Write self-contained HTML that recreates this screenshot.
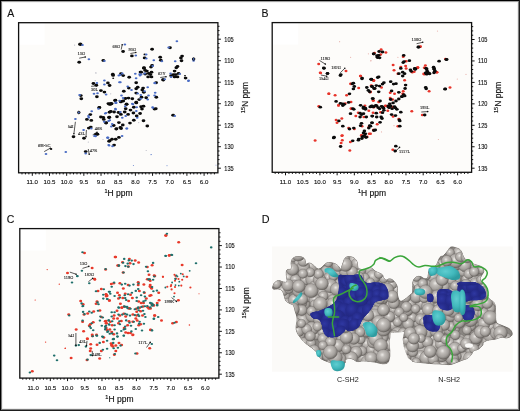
<!DOCTYPE html>
<html><head><meta charset="utf-8"><style>
html,body{margin:0;padding:0;background:#fff;}
body{width:520px;height:411px;overflow:hidden;position:relative;}
svg{position:absolute;left:0;top:0;font-family:"Liberation Sans", sans-serif;will-change:transform;}
</style></head><body>
<svg width="520" height="411" viewBox="0 0 520 411">
<rect x="0" y="0" width="520" height="411" fill="#fff"/>
<rect x="18.6" y="22.7" width="199.30" height="150.10" fill="#fdfcfa" stroke="none"/>
<rect x="18.6" y="22.7" width="26" height="22" fill="#ffffff" stroke="none"/>
<line x1="217.90" y1="26.30" x2="219.50" y2="26.30" stroke="#111" stroke-width="1.0"/>
<line x1="217.90" y1="30.60" x2="219.50" y2="30.60" stroke="#111" stroke-width="1.0"/>
<line x1="217.90" y1="34.90" x2="219.50" y2="34.90" stroke="#111" stroke-width="1.0"/>
<line x1="217.90" y1="39.20" x2="220.90" y2="39.20" stroke="#111" stroke-width="1.0"/>
<text x="224.30" y="41.50" font-size="6.3" fill="#111" stroke="#111" stroke-width="0.12" textLength="9.4" lengthAdjust="spacingAndGlyphs">105</text>
<line x1="217.90" y1="43.50" x2="219.50" y2="43.50" stroke="#111" stroke-width="1.0"/>
<line x1="217.90" y1="47.80" x2="219.50" y2="47.80" stroke="#111" stroke-width="1.0"/>
<line x1="217.90" y1="52.10" x2="219.50" y2="52.10" stroke="#111" stroke-width="1.0"/>
<line x1="217.90" y1="56.40" x2="219.50" y2="56.40" stroke="#111" stroke-width="1.0"/>
<line x1="217.90" y1="60.70" x2="220.90" y2="60.70" stroke="#111" stroke-width="1.0"/>
<text x="224.30" y="63.00" font-size="6.3" fill="#111" stroke="#111" stroke-width="0.12" textLength="9.4" lengthAdjust="spacingAndGlyphs">110</text>
<line x1="217.90" y1="65.00" x2="219.50" y2="65.00" stroke="#111" stroke-width="1.0"/>
<line x1="217.90" y1="69.30" x2="219.50" y2="69.30" stroke="#111" stroke-width="1.0"/>
<line x1="217.90" y1="73.60" x2="219.50" y2="73.60" stroke="#111" stroke-width="1.0"/>
<line x1="217.90" y1="77.90" x2="219.50" y2="77.90" stroke="#111" stroke-width="1.0"/>
<line x1="217.90" y1="82.20" x2="220.90" y2="82.20" stroke="#111" stroke-width="1.0"/>
<text x="224.30" y="84.50" font-size="6.3" fill="#111" stroke="#111" stroke-width="0.12" textLength="9.4" lengthAdjust="spacingAndGlyphs">115</text>
<line x1="217.90" y1="86.50" x2="219.50" y2="86.50" stroke="#111" stroke-width="1.0"/>
<line x1="217.90" y1="90.80" x2="219.50" y2="90.80" stroke="#111" stroke-width="1.0"/>
<line x1="217.90" y1="95.10" x2="219.50" y2="95.10" stroke="#111" stroke-width="1.0"/>
<line x1="217.90" y1="99.40" x2="219.50" y2="99.40" stroke="#111" stroke-width="1.0"/>
<line x1="217.90" y1="103.70" x2="220.90" y2="103.70" stroke="#111" stroke-width="1.0"/>
<text x="224.30" y="106.00" font-size="6.3" fill="#111" stroke="#111" stroke-width="0.12" textLength="9.4" lengthAdjust="spacingAndGlyphs">120</text>
<line x1="217.90" y1="108.00" x2="219.50" y2="108.00" stroke="#111" stroke-width="1.0"/>
<line x1="217.90" y1="112.30" x2="219.50" y2="112.30" stroke="#111" stroke-width="1.0"/>
<line x1="217.90" y1="116.60" x2="219.50" y2="116.60" stroke="#111" stroke-width="1.0"/>
<line x1="217.90" y1="120.90" x2="219.50" y2="120.90" stroke="#111" stroke-width="1.0"/>
<line x1="217.90" y1="125.20" x2="220.90" y2="125.20" stroke="#111" stroke-width="1.0"/>
<text x="224.30" y="127.50" font-size="6.3" fill="#111" stroke="#111" stroke-width="0.12" textLength="9.4" lengthAdjust="spacingAndGlyphs">125</text>
<line x1="217.90" y1="129.50" x2="219.50" y2="129.50" stroke="#111" stroke-width="1.0"/>
<line x1="217.90" y1="133.80" x2="219.50" y2="133.80" stroke="#111" stroke-width="1.0"/>
<line x1="217.90" y1="138.10" x2="219.50" y2="138.10" stroke="#111" stroke-width="1.0"/>
<line x1="217.90" y1="142.40" x2="219.50" y2="142.40" stroke="#111" stroke-width="1.0"/>
<line x1="217.90" y1="146.70" x2="220.90" y2="146.70" stroke="#111" stroke-width="1.0"/>
<text x="224.30" y="149.00" font-size="6.3" fill="#111" stroke="#111" stroke-width="0.12" textLength="9.4" lengthAdjust="spacingAndGlyphs">130</text>
<line x1="217.90" y1="151.00" x2="219.50" y2="151.00" stroke="#111" stroke-width="1.0"/>
<line x1="217.90" y1="155.30" x2="219.50" y2="155.30" stroke="#111" stroke-width="1.0"/>
<line x1="217.90" y1="159.60" x2="219.50" y2="159.60" stroke="#111" stroke-width="1.0"/>
<line x1="217.90" y1="163.90" x2="219.50" y2="163.90" stroke="#111" stroke-width="1.0"/>
<line x1="217.90" y1="168.20" x2="220.90" y2="168.20" stroke="#111" stroke-width="1.0"/>
<text x="224.30" y="170.50" font-size="6.3" fill="#111" stroke="#111" stroke-width="0.12" textLength="9.4" lengthAdjust="spacingAndGlyphs">135</text>
<line x1="21.99" y1="172.80" x2="21.99" y2="174.40" stroke="#111" stroke-width="1"/>
<line x1="25.43" y1="172.80" x2="25.43" y2="174.40" stroke="#111" stroke-width="1"/>
<line x1="28.86" y1="172.80" x2="28.86" y2="174.40" stroke="#111" stroke-width="1"/>
<line x1="32.30" y1="172.80" x2="32.30" y2="175.80" stroke="#111" stroke-width="1"/>
<text x="32.30" y="184.40" font-size="6.1" fill="#111" stroke="#111" stroke-width="0.12" text-anchor="middle">11.0</text>
<line x1="35.74" y1="172.80" x2="35.74" y2="174.40" stroke="#111" stroke-width="1"/>
<line x1="39.17" y1="172.80" x2="39.17" y2="174.40" stroke="#111" stroke-width="1"/>
<line x1="42.61" y1="172.80" x2="42.61" y2="174.40" stroke="#111" stroke-width="1"/>
<line x1="46.04" y1="172.80" x2="46.04" y2="174.40" stroke="#111" stroke-width="1"/>
<line x1="49.48" y1="172.80" x2="49.48" y2="175.80" stroke="#111" stroke-width="1"/>
<text x="49.48" y="184.40" font-size="6.1" fill="#111" stroke="#111" stroke-width="0.12" text-anchor="middle">10.5</text>
<line x1="52.92" y1="172.80" x2="52.92" y2="174.40" stroke="#111" stroke-width="1"/>
<line x1="56.35" y1="172.80" x2="56.35" y2="174.40" stroke="#111" stroke-width="1"/>
<line x1="59.79" y1="172.80" x2="59.79" y2="174.40" stroke="#111" stroke-width="1"/>
<line x1="63.22" y1="172.80" x2="63.22" y2="174.40" stroke="#111" stroke-width="1"/>
<line x1="66.66" y1="172.80" x2="66.66" y2="175.80" stroke="#111" stroke-width="1"/>
<text x="66.66" y="184.40" font-size="6.1" fill="#111" stroke="#111" stroke-width="0.12" text-anchor="middle">10.0</text>
<line x1="70.10" y1="172.80" x2="70.10" y2="174.40" stroke="#111" stroke-width="1"/>
<line x1="73.53" y1="172.80" x2="73.53" y2="174.40" stroke="#111" stroke-width="1"/>
<line x1="76.97" y1="172.80" x2="76.97" y2="174.40" stroke="#111" stroke-width="1"/>
<line x1="80.40" y1="172.80" x2="80.40" y2="174.40" stroke="#111" stroke-width="1"/>
<line x1="83.84" y1="172.80" x2="83.84" y2="175.80" stroke="#111" stroke-width="1"/>
<text x="83.84" y="184.40" font-size="6.1" fill="#111" stroke="#111" stroke-width="0.12" text-anchor="middle">9.5</text>
<line x1="87.28" y1="172.80" x2="87.28" y2="174.40" stroke="#111" stroke-width="1"/>
<line x1="90.71" y1="172.80" x2="90.71" y2="174.40" stroke="#111" stroke-width="1"/>
<line x1="94.15" y1="172.80" x2="94.15" y2="174.40" stroke="#111" stroke-width="1"/>
<line x1="97.58" y1="172.80" x2="97.58" y2="174.40" stroke="#111" stroke-width="1"/>
<line x1="101.02" y1="172.80" x2="101.02" y2="175.80" stroke="#111" stroke-width="1"/>
<text x="101.02" y="184.40" font-size="6.1" fill="#111" stroke="#111" stroke-width="0.12" text-anchor="middle">9.0</text>
<line x1="104.46" y1="172.80" x2="104.46" y2="174.40" stroke="#111" stroke-width="1"/>
<line x1="107.89" y1="172.80" x2="107.89" y2="174.40" stroke="#111" stroke-width="1"/>
<line x1="111.33" y1="172.80" x2="111.33" y2="174.40" stroke="#111" stroke-width="1"/>
<line x1="114.76" y1="172.80" x2="114.76" y2="174.40" stroke="#111" stroke-width="1"/>
<line x1="118.20" y1="172.80" x2="118.20" y2="175.80" stroke="#111" stroke-width="1"/>
<text x="118.20" y="184.40" font-size="6.1" fill="#111" stroke="#111" stroke-width="0.12" text-anchor="middle">8.5</text>
<line x1="121.64" y1="172.80" x2="121.64" y2="174.40" stroke="#111" stroke-width="1"/>
<line x1="125.07" y1="172.80" x2="125.07" y2="174.40" stroke="#111" stroke-width="1"/>
<line x1="128.51" y1="172.80" x2="128.51" y2="174.40" stroke="#111" stroke-width="1"/>
<line x1="131.94" y1="172.80" x2="131.94" y2="174.40" stroke="#111" stroke-width="1"/>
<line x1="135.38" y1="172.80" x2="135.38" y2="175.80" stroke="#111" stroke-width="1"/>
<text x="135.38" y="184.40" font-size="6.1" fill="#111" stroke="#111" stroke-width="0.12" text-anchor="middle">8.0</text>
<line x1="138.82" y1="172.80" x2="138.82" y2="174.40" stroke="#111" stroke-width="1"/>
<line x1="142.25" y1="172.80" x2="142.25" y2="174.40" stroke="#111" stroke-width="1"/>
<line x1="145.69" y1="172.80" x2="145.69" y2="174.40" stroke="#111" stroke-width="1"/>
<line x1="149.12" y1="172.80" x2="149.12" y2="174.40" stroke="#111" stroke-width="1"/>
<line x1="152.56" y1="172.80" x2="152.56" y2="175.80" stroke="#111" stroke-width="1"/>
<text x="152.56" y="184.40" font-size="6.1" fill="#111" stroke="#111" stroke-width="0.12" text-anchor="middle">7.5</text>
<line x1="156.00" y1="172.80" x2="156.00" y2="174.40" stroke="#111" stroke-width="1"/>
<line x1="159.43" y1="172.80" x2="159.43" y2="174.40" stroke="#111" stroke-width="1"/>
<line x1="162.87" y1="172.80" x2="162.87" y2="174.40" stroke="#111" stroke-width="1"/>
<line x1="166.30" y1="172.80" x2="166.30" y2="174.40" stroke="#111" stroke-width="1"/>
<line x1="169.74" y1="172.80" x2="169.74" y2="175.80" stroke="#111" stroke-width="1"/>
<text x="169.74" y="184.40" font-size="6.1" fill="#111" stroke="#111" stroke-width="0.12" text-anchor="middle">7.0</text>
<line x1="173.18" y1="172.80" x2="173.18" y2="174.40" stroke="#111" stroke-width="1"/>
<line x1="176.61" y1="172.80" x2="176.61" y2="174.40" stroke="#111" stroke-width="1"/>
<line x1="180.05" y1="172.80" x2="180.05" y2="174.40" stroke="#111" stroke-width="1"/>
<line x1="183.48" y1="172.80" x2="183.48" y2="174.40" stroke="#111" stroke-width="1"/>
<line x1="186.92" y1="172.80" x2="186.92" y2="175.80" stroke="#111" stroke-width="1"/>
<text x="186.92" y="184.40" font-size="6.1" fill="#111" stroke="#111" stroke-width="0.12" text-anchor="middle">6.5</text>
<line x1="190.36" y1="172.80" x2="190.36" y2="174.40" stroke="#111" stroke-width="1"/>
<line x1="193.79" y1="172.80" x2="193.79" y2="174.40" stroke="#111" stroke-width="1"/>
<line x1="197.23" y1="172.80" x2="197.23" y2="174.40" stroke="#111" stroke-width="1"/>
<line x1="200.66" y1="172.80" x2="200.66" y2="174.40" stroke="#111" stroke-width="1"/>
<line x1="204.10" y1="172.80" x2="204.10" y2="175.80" stroke="#111" stroke-width="1"/>
<text x="204.10" y="184.40" font-size="6.1" fill="#111" stroke="#111" stroke-width="0.12" text-anchor="middle">6.0</text>
<line x1="207.54" y1="172.80" x2="207.54" y2="174.40" stroke="#111" stroke-width="1"/>
<line x1="210.97" y1="172.80" x2="210.97" y2="174.40" stroke="#111" stroke-width="1"/>
<line x1="214.41" y1="172.80" x2="214.41" y2="174.40" stroke="#111" stroke-width="1"/>
<rect x="18.6" y="22.7" width="199.30" height="150.10" fill="none" stroke="#111" stroke-width="1.3"/>
<text x="118.50" y="195.80" font-size="8.5" fill="#111" stroke="#111" stroke-width="0.15" text-anchor="middle"><tspan font-size="5.6" dy="-3.1">1</tspan><tspan dy="3.1">H ppm</tspan></text>
<text transform="translate(245.00,97.50) rotate(-90)" x="0" y="2.7" font-size="8.5" fill="#111" stroke="#111" stroke-width="0.15" text-anchor="middle"><tspan font-size="5.6" dy="-3.1">15</tspan><tspan dy="3.1">N ppm</tspan></text>
<text x="7.2" y="16.5" font-size="10.5" fill="#111" stroke="#111" stroke-width="0.12">A</text>
<ellipse cx="74.6" cy="45.1" rx="0.60" ry="0.60" fill="#b9b9c4"/>
<ellipse cx="96.0" cy="73.0" rx="0.60" ry="0.60" fill="#b9b9c4"/>
<ellipse cx="95.8" cy="72.8" rx="0.60" ry="0.60" fill="#b9b9c4"/>
<ellipse cx="110.7" cy="93.8" rx="0.60" ry="0.60" fill="#b9b9c4"/>
<ellipse cx="95.2" cy="80.6" rx="0.60" ry="0.60" fill="#b9b9c4"/>
<ellipse cx="138.7" cy="122.6" rx="0.60" ry="0.60" fill="#b9b9c4"/>
<ellipse cx="146.2" cy="150.5" rx="0.60" ry="0.60" fill="#b9b9c4"/>
<ellipse cx="88.3" cy="142.1" rx="0.60" ry="0.60" fill="#b9b9c4"/>
<ellipse cx="103.0" cy="139.5" rx="0.60" ry="0.60" fill="#b9b9c4"/>
<ellipse cx="80.3" cy="44.3" rx="2.20" ry="1.72" fill="#0b0b0b"/>
<ellipse cx="79.2" cy="62.2" rx="1.85" ry="1.45" fill="#0b0b0b"/>
<ellipse cx="103.3" cy="60.5" rx="1.85" ry="1.45" fill="#0b0b0b"/>
<ellipse cx="123.1" cy="51.5" rx="1.85" ry="1.45" fill="#0b0b0b"/>
<ellipse cx="131.9" cy="55.9" rx="1.85" ry="1.45" fill="#0b0b0b"/>
<ellipse cx="152.1" cy="49.2" rx="1.85" ry="1.45" fill="#0b0b0b"/>
<ellipse cx="144.6" cy="54.4" rx="1.10" ry="0.86" fill="#0b0b0b"/>
<ellipse cx="144.6" cy="57.9" rx="1.85" ry="1.45" fill="#0b0b0b"/>
<ellipse cx="160.2" cy="57.3" rx="1.85" ry="1.45" fill="#0b0b0b"/>
<ellipse cx="160.8" cy="60.2" rx="1.85" ry="1.45" fill="#0b0b0b"/>
<ellipse cx="170.0" cy="47.8" rx="1.85" ry="1.45" fill="#0b0b0b"/>
<ellipse cx="180.9" cy="57.9" rx="1.85" ry="1.45" fill="#0b0b0b"/>
<ellipse cx="181.5" cy="60.8" rx="1.85" ry="1.45" fill="#0b0b0b"/>
<ellipse cx="182.1" cy="56.1" rx="1.85" ry="1.45" fill="#0b0b0b"/>
<ellipse cx="144.0" cy="67.7" rx="1.85" ry="1.45" fill="#0b0b0b"/>
<ellipse cx="146.9" cy="71.1" rx="1.85" ry="1.45" fill="#0b0b0b"/>
<ellipse cx="148.7" cy="73.4" rx="1.85" ry="1.45" fill="#0b0b0b"/>
<ellipse cx="150.4" cy="74.6" rx="1.85" ry="1.45" fill="#0b0b0b"/>
<ellipse cx="151.5" cy="72.3" rx="1.85" ry="1.45" fill="#0b0b0b"/>
<ellipse cx="148.1" cy="76.9" rx="1.85" ry="1.45" fill="#0b0b0b"/>
<ellipse cx="145.2" cy="74.0" rx="1.85" ry="1.45" fill="#0b0b0b"/>
<ellipse cx="141.2" cy="72.3" rx="1.85" ry="1.45" fill="#0b0b0b"/>
<ellipse cx="151.5" cy="76.9" rx="1.85" ry="1.45" fill="#0b0b0b"/>
<ellipse cx="151.0" cy="67.1" rx="1.85" ry="1.45" fill="#0b0b0b"/>
<ellipse cx="152.1" cy="65.4" rx="1.85" ry="1.45" fill="#0b0b0b"/>
<ellipse cx="143.9" cy="68.2" rx="1.85" ry="1.45" fill="#0b0b0b"/>
<ellipse cx="145.2" cy="70.4" rx="1.85" ry="1.45" fill="#0b0b0b"/>
<ellipse cx="140.5" cy="72.1" rx="1.85" ry="1.45" fill="#0b0b0b"/>
<ellipse cx="174.6" cy="71.1" rx="1.85" ry="1.45" fill="#0b0b0b"/>
<ellipse cx="176.3" cy="67.7" rx="1.85" ry="1.45" fill="#0b0b0b"/>
<ellipse cx="177.5" cy="66.5" rx="1.85" ry="1.45" fill="#0b0b0b"/>
<ellipse cx="173.4" cy="74.6" rx="1.85" ry="1.45" fill="#0b0b0b"/>
<ellipse cx="175.8" cy="74.6" rx="1.85" ry="1.45" fill="#0b0b0b"/>
<ellipse cx="177.5" cy="76.9" rx="1.85" ry="1.45" fill="#0b0b0b"/>
<ellipse cx="171.1" cy="75.8" rx="1.85" ry="1.45" fill="#0b0b0b"/>
<ellipse cx="178.6" cy="73.4" rx="1.85" ry="1.45" fill="#0b0b0b"/>
<ellipse cx="174.6" cy="76.9" rx="1.85" ry="1.45" fill="#0b0b0b"/>
<ellipse cx="185.6" cy="78.1" rx="1.85" ry="1.45" fill="#0b0b0b"/>
<ellipse cx="185.0" cy="75.8" rx="1.00" ry="0.78" fill="#0b0b0b"/>
<ellipse cx="163.1" cy="79.8" rx="1.85" ry="1.45" fill="#0b0b0b"/>
<ellipse cx="156.1" cy="82.7" rx="1.85" ry="1.45" fill="#0b0b0b"/>
<ellipse cx="163.3" cy="80.0" rx="1.85" ry="1.45" fill="#0b0b0b"/>
<ellipse cx="156.3" cy="97.3" rx="1.85" ry="1.45" fill="#0b0b0b"/>
<ellipse cx="155.8" cy="108.8" rx="1.85" ry="1.45" fill="#0b0b0b"/>
<ellipse cx="173.1" cy="115.2" rx="1.85" ry="1.45" fill="#0b0b0b"/>
<ellipse cx="112.8" cy="74.3" rx="1.85" ry="1.45" fill="#0b0b0b"/>
<ellipse cx="113.2" cy="78.2" rx="1.00" ry="0.78" fill="#0b0b0b"/>
<ellipse cx="121.0" cy="73.8" rx="1.85" ry="1.45" fill="#0b0b0b"/>
<ellipse cx="123.2" cy="75.6" rx="1.85" ry="1.45" fill="#0b0b0b"/>
<ellipse cx="129.2" cy="77.3" rx="1.85" ry="1.45" fill="#0b0b0b"/>
<ellipse cx="93.4" cy="83.5" rx="1.85" ry="1.45" fill="#0b0b0b"/>
<ellipse cx="96.3" cy="85.2" rx="1.85" ry="1.45" fill="#0b0b0b"/>
<ellipse cx="107.9" cy="82.9" rx="1.85" ry="1.45" fill="#0b0b0b"/>
<ellipse cx="109.6" cy="85.5" rx="1.85" ry="1.45" fill="#0b0b0b"/>
<ellipse cx="100.9" cy="90.6" rx="1.85" ry="1.45" fill="#0b0b0b"/>
<ellipse cx="104.4" cy="92.1" rx="1.85" ry="1.45" fill="#0b0b0b"/>
<ellipse cx="96.9" cy="96.7" rx="1.85" ry="1.45" fill="#0b0b0b"/>
<ellipse cx="80.8" cy="95.6" rx="1.85" ry="1.45" fill="#0b0b0b"/>
<ellipse cx="81.3" cy="98.8" rx="1.85" ry="1.45" fill="#0b0b0b"/>
<ellipse cx="115.4" cy="100.2" rx="1.85" ry="1.45" fill="#0b0b0b"/>
<ellipse cx="110.7" cy="104.2" rx="1.85" ry="1.45" fill="#0b0b0b"/>
<ellipse cx="108.4" cy="103.6" rx="1.85" ry="1.45" fill="#0b0b0b"/>
<ellipse cx="99.2" cy="107.7" rx="1.85" ry="1.45" fill="#0b0b0b"/>
<ellipse cx="136.2" cy="82.7" rx="1.85" ry="1.45" fill="#0b0b0b"/>
<ellipse cx="128.8" cy="88.1" rx="1.85" ry="1.45" fill="#0b0b0b"/>
<ellipse cx="123.8" cy="91.2" rx="1.85" ry="1.45" fill="#0b0b0b"/>
<ellipse cx="136.2" cy="88.8" rx="1.85" ry="1.45" fill="#0b0b0b"/>
<ellipse cx="137.7" cy="87.3" rx="1.85" ry="1.45" fill="#0b0b0b"/>
<ellipse cx="143.1" cy="88.1" rx="1.85" ry="1.45" fill="#0b0b0b"/>
<ellipse cx="142.3" cy="90.0" rx="1.85" ry="1.45" fill="#0b0b0b"/>
<ellipse cx="143.8" cy="92.3" rx="1.85" ry="1.45" fill="#0b0b0b"/>
<ellipse cx="136.2" cy="93.1" rx="1.85" ry="1.45" fill="#0b0b0b"/>
<ellipse cx="146.2" cy="97.7" rx="1.85" ry="1.45" fill="#0b0b0b"/>
<ellipse cx="141.5" cy="97.3" rx="1.85" ry="1.45" fill="#0b0b0b"/>
<ellipse cx="139.2" cy="99.6" rx="1.85" ry="1.45" fill="#0b0b0b"/>
<ellipse cx="128.5" cy="98.1" rx="1.85" ry="1.45" fill="#0b0b0b"/>
<ellipse cx="125.4" cy="98.5" rx="1.85" ry="1.45" fill="#0b0b0b"/>
<ellipse cx="132.3" cy="98.8" rx="1.85" ry="1.45" fill="#0b0b0b"/>
<ellipse cx="120.8" cy="101.5" rx="1.85" ry="1.45" fill="#0b0b0b"/>
<ellipse cx="111.5" cy="103.5" rx="2.00" ry="1.57" fill="#0b0b0b"/>
<ellipse cx="136.2" cy="102.3" rx="1.85" ry="1.45" fill="#0b0b0b"/>
<ellipse cx="126.5" cy="104.2" rx="1.85" ry="1.45" fill="#0b0b0b"/>
<ellipse cx="73.5" cy="136.7" rx="1.85" ry="1.45" fill="#0b0b0b"/>
<ellipse cx="99.4" cy="107.4" rx="1.85" ry="1.45" fill="#0b0b0b"/>
<ellipse cx="90.3" cy="114.6" rx="1.85" ry="1.45" fill="#0b0b0b"/>
<ellipse cx="86.9" cy="119.4" rx="1.85" ry="1.45" fill="#0b0b0b"/>
<ellipse cx="91.3" cy="120.4" rx="1.85" ry="1.45" fill="#0b0b0b"/>
<ellipse cx="100.9" cy="117.0" rx="1.85" ry="1.45" fill="#0b0b0b"/>
<ellipse cx="103.3" cy="117.5" rx="1.85" ry="1.45" fill="#0b0b0b"/>
<ellipse cx="103.8" cy="119.4" rx="1.85" ry="1.45" fill="#0b0b0b"/>
<ellipse cx="106.2" cy="122.8" rx="1.85" ry="1.45" fill="#0b0b0b"/>
<ellipse cx="109.0" cy="117.5" rx="1.85" ry="1.45" fill="#0b0b0b"/>
<ellipse cx="109.5" cy="112.2" rx="1.85" ry="1.45" fill="#0b0b0b"/>
<ellipse cx="90.8" cy="127.1" rx="1.85" ry="1.45" fill="#0b0b0b"/>
<ellipse cx="88.8" cy="128.1" rx="1.85" ry="1.45" fill="#0b0b0b"/>
<ellipse cx="84.0" cy="138.2" rx="1.85" ry="1.45" fill="#0b0b0b"/>
<ellipse cx="97.5" cy="134.3" rx="1.85" ry="1.45" fill="#0b0b0b"/>
<ellipse cx="110.8" cy="103.8" rx="1.85" ry="1.45" fill="#0b0b0b"/>
<ellipse cx="109.3" cy="104.3" rx="1.85" ry="1.45" fill="#0b0b0b"/>
<ellipse cx="115.1" cy="100.5" rx="1.85" ry="1.45" fill="#0b0b0b"/>
<ellipse cx="120.9" cy="101.9" rx="1.85" ry="1.45" fill="#0b0b0b"/>
<ellipse cx="123.3" cy="101.0" rx="1.85" ry="1.45" fill="#0b0b0b"/>
<ellipse cx="126.6" cy="104.3" rx="1.85" ry="1.45" fill="#0b0b0b"/>
<ellipse cx="136.3" cy="102.9" rx="1.85" ry="1.45" fill="#0b0b0b"/>
<ellipse cx="133.8" cy="107.2" rx="1.85" ry="1.45" fill="#0b0b0b"/>
<ellipse cx="141.1" cy="106.7" rx="1.85" ry="1.45" fill="#0b0b0b"/>
<ellipse cx="143.5" cy="106.3" rx="1.85" ry="1.45" fill="#0b0b0b"/>
<ellipse cx="142.0" cy="109.1" rx="1.85" ry="1.45" fill="#0b0b0b"/>
<ellipse cx="125.7" cy="108.7" rx="1.85" ry="1.45" fill="#0b0b0b"/>
<ellipse cx="130.5" cy="110.1" rx="1.85" ry="1.45" fill="#0b0b0b"/>
<ellipse cx="110.8" cy="111.5" rx="1.85" ry="1.45" fill="#0b0b0b"/>
<ellipse cx="114.1" cy="112.0" rx="1.85" ry="1.45" fill="#0b0b0b"/>
<ellipse cx="118.5" cy="112.5" rx="1.85" ry="1.45" fill="#0b0b0b"/>
<ellipse cx="120.9" cy="114.4" rx="1.85" ry="1.45" fill="#0b0b0b"/>
<ellipse cx="124.7" cy="112.0" rx="1.85" ry="1.45" fill="#0b0b0b"/>
<ellipse cx="128.1" cy="114.4" rx="1.85" ry="1.45" fill="#0b0b0b"/>
<ellipse cx="133.4" cy="113.0" rx="1.85" ry="1.45" fill="#0b0b0b"/>
<ellipse cx="140.1" cy="113.5" rx="1.85" ry="1.45" fill="#0b0b0b"/>
<ellipse cx="136.7" cy="115.9" rx="1.85" ry="1.45" fill="#0b0b0b"/>
<ellipse cx="109.3" cy="117.3" rx="1.85" ry="1.45" fill="#0b0b0b"/>
<ellipse cx="117.0" cy="116.8" rx="1.85" ry="1.45" fill="#0b0b0b"/>
<ellipse cx="106.0" cy="123.1" rx="1.85" ry="1.45" fill="#0b0b0b"/>
<ellipse cx="118.9" cy="122.6" rx="1.85" ry="1.45" fill="#0b0b0b"/>
<ellipse cx="113.7" cy="125.5" rx="1.85" ry="1.45" fill="#0b0b0b"/>
<ellipse cx="122.8" cy="125.0" rx="1.85" ry="1.45" fill="#0b0b0b"/>
<ellipse cx="120.4" cy="127.4" rx="1.85" ry="1.45" fill="#0b0b0b"/>
<ellipse cx="116.5" cy="128.8" rx="1.85" ry="1.45" fill="#0b0b0b"/>
<ellipse cx="130.0" cy="123.1" rx="1.85" ry="1.45" fill="#0b0b0b"/>
<ellipse cx="133.8" cy="120.2" rx="1.85" ry="1.45" fill="#0b0b0b"/>
<ellipse cx="143.5" cy="120.7" rx="1.85" ry="1.45" fill="#0b0b0b"/>
<ellipse cx="147.3" cy="126.0" rx="1.85" ry="1.45" fill="#0b0b0b"/>
<ellipse cx="154.5" cy="109.1" rx="1.85" ry="1.45" fill="#0b0b0b"/>
<ellipse cx="116.2" cy="129.1" rx="1.85" ry="1.45" fill="#0b0b0b"/>
<ellipse cx="121.1" cy="128.5" rx="1.85" ry="1.45" fill="#0b0b0b"/>
<ellipse cx="109.8" cy="140.8" rx="1.85" ry="1.45" fill="#0b0b0b"/>
<ellipse cx="112.0" cy="139.2" rx="1.85" ry="1.45" fill="#0b0b0b"/>
<ellipse cx="115.7" cy="139.2" rx="1.85" ry="1.45" fill="#0b0b0b"/>
<ellipse cx="118.9" cy="137.4" rx="1.85" ry="1.45" fill="#0b0b0b"/>
<ellipse cx="114.1" cy="145.1" rx="1.85" ry="1.45" fill="#0b0b0b"/>
<ellipse cx="51.1" cy="149.0" rx="1.20" ry="0.94" fill="#0b0b0b"/>
<ellipse cx="85.7" cy="151.6" rx="1.85" ry="1.45" fill="#0b0b0b"/>
<ellipse cx="96.1" cy="134.3" rx="1.85" ry="1.45" fill="#0b0b0b"/>
<ellipse cx="109.1" cy="141.2" rx="1.85" ry="1.45" fill="#0b0b0b"/>
<ellipse cx="113.1" cy="75.4" rx="1.85" ry="1.45" fill="#0b0b0b"/>
<ellipse cx="82.5" cy="45.1" rx="1.35" ry="1.00" fill="#4a6cc4"/>
<ellipse cx="88.9" cy="59.3" rx="1.35" ry="1.00" fill="#4a6cc4"/>
<ellipse cx="104.4" cy="61.1" rx="1.35" ry="1.00" fill="#4a6cc4"/>
<ellipse cx="124.9" cy="44.4" rx="1.35" ry="1.00" fill="#4a6cc4"/>
<ellipse cx="135.8" cy="55.6" rx="1.35" ry="1.00" fill="#4a6cc4"/>
<ellipse cx="146.2" cy="54.5" rx="1.35" ry="1.00" fill="#4a6cc4"/>
<ellipse cx="146.3" cy="58.5" rx="1.35" ry="1.00" fill="#4a6cc4"/>
<ellipse cx="153.8" cy="60.2" rx="1.35" ry="1.00" fill="#4a6cc4"/>
<ellipse cx="161.9" cy="61.3" rx="1.35" ry="1.00" fill="#4a6cc4"/>
<ellipse cx="168.6" cy="47.5" rx="1.35" ry="1.00" fill="#4a6cc4"/>
<ellipse cx="175.2" cy="61.3" rx="1.35" ry="1.00" fill="#4a6cc4"/>
<ellipse cx="176.9" cy="41.2" rx="1.35" ry="1.00" fill="#4a6cc4"/>
<ellipse cx="193.6" cy="60.8" rx="1.35" ry="1.00" fill="#4a6cc4"/>
<ellipse cx="152.7" cy="66.0" rx="1.35" ry="1.00" fill="#4a6cc4"/>
<ellipse cx="144.6" cy="73.4" rx="1.35" ry="1.00" fill="#4a6cc4"/>
<ellipse cx="141.2" cy="74.6" rx="1.35" ry="1.00" fill="#4a6cc4"/>
<ellipse cx="179.8" cy="74.0" rx="1.35" ry="1.00" fill="#4a6cc4"/>
<ellipse cx="170.6" cy="73.4" rx="1.35" ry="1.00" fill="#4a6cc4"/>
<ellipse cx="171.1" cy="76.9" rx="1.35" ry="1.00" fill="#4a6cc4"/>
<ellipse cx="188.4" cy="81.0" rx="1.35" ry="1.00" fill="#4a6cc4"/>
<ellipse cx="164.8" cy="79.2" rx="1.35" ry="1.00" fill="#4a6cc4"/>
<ellipse cx="155.0" cy="83.3" rx="1.35" ry="1.00" fill="#4a6cc4"/>
<ellipse cx="154.6" cy="82.9" rx="1.35" ry="1.00" fill="#4a6cc4"/>
<ellipse cx="188.6" cy="80.6" rx="1.35" ry="1.00" fill="#4a6cc4"/>
<ellipse cx="155.2" cy="92.7" rx="1.35" ry="1.00" fill="#4a6cc4"/>
<ellipse cx="154.6" cy="95.6" rx="1.35" ry="1.00" fill="#4a6cc4"/>
<ellipse cx="152.9" cy="107.7" rx="1.35" ry="1.00" fill="#4a6cc4"/>
<ellipse cx="174.8" cy="116.0" rx="1.35" ry="1.00" fill="#4a6cc4"/>
<ellipse cx="120.1" cy="75.1" rx="1.35" ry="1.00" fill="#4a6cc4"/>
<ellipse cx="122.3" cy="73.4" rx="1.35" ry="1.00" fill="#4a6cc4"/>
<ellipse cx="135.3" cy="73.8" rx="1.35" ry="1.00" fill="#4a6cc4"/>
<ellipse cx="136.1" cy="78.2" rx="1.35" ry="1.00" fill="#4a6cc4"/>
<ellipse cx="139.6" cy="74.3" rx="1.35" ry="1.00" fill="#4a6cc4"/>
<ellipse cx="104.4" cy="80.6" rx="1.35" ry="1.00" fill="#4a6cc4"/>
<ellipse cx="104.4" cy="84.6" rx="1.35" ry="1.00" fill="#4a6cc4"/>
<ellipse cx="96.9" cy="82.9" rx="1.35" ry="1.00" fill="#4a6cc4"/>
<ellipse cx="94.0" cy="93.8" rx="1.35" ry="1.00" fill="#4a6cc4"/>
<ellipse cx="97.5" cy="93.3" rx="1.35" ry="1.00" fill="#4a6cc4"/>
<ellipse cx="106.1" cy="94.4" rx="1.35" ry="1.00" fill="#4a6cc4"/>
<ellipse cx="79.6" cy="95.0" rx="1.35" ry="1.00" fill="#4a6cc4"/>
<ellipse cx="118.8" cy="75.4" rx="1.35" ry="1.00" fill="#4a6cc4"/>
<ellipse cx="119.4" cy="82.3" rx="1.35" ry="1.00" fill="#4a6cc4"/>
<ellipse cx="115.9" cy="102.5" rx="1.35" ry="1.00" fill="#4a6cc4"/>
<ellipse cx="115.4" cy="108.8" rx="1.35" ry="1.00" fill="#4a6cc4"/>
<ellipse cx="120.4" cy="82.3" rx="1.35" ry="1.00" fill="#4a6cc4"/>
<ellipse cx="127.7" cy="86.5" rx="1.35" ry="1.00" fill="#4a6cc4"/>
<ellipse cx="131.5" cy="90.0" rx="1.35" ry="1.00" fill="#4a6cc4"/>
<ellipse cx="121.5" cy="95.4" rx="1.35" ry="1.00" fill="#4a6cc4"/>
<ellipse cx="140.8" cy="95.0" rx="1.35" ry="1.00" fill="#4a6cc4"/>
<ellipse cx="147.7" cy="87.3" rx="1.35" ry="1.00" fill="#4a6cc4"/>
<ellipse cx="144.6" cy="91.2" rx="1.35" ry="1.00" fill="#4a6cc4"/>
<ellipse cx="137.7" cy="93.5" rx="1.35" ry="1.00" fill="#4a6cc4"/>
<ellipse cx="148.5" cy="95.4" rx="1.35" ry="1.00" fill="#4a6cc4"/>
<ellipse cx="123.1" cy="98.1" rx="1.35" ry="1.00" fill="#4a6cc4"/>
<ellipse cx="119.6" cy="100.8" rx="1.35" ry="1.00" fill="#4a6cc4"/>
<ellipse cx="147.7" cy="99.6" rx="1.35" ry="1.00" fill="#4a6cc4"/>
<ellipse cx="140.8" cy="98.8" rx="1.35" ry="1.00" fill="#4a6cc4"/>
<ellipse cx="116.2" cy="103.1" rx="1.35" ry="1.00" fill="#4a6cc4"/>
<ellipse cx="132.3" cy="103.8" rx="1.35" ry="1.00" fill="#4a6cc4"/>
<ellipse cx="140.0" cy="75.4" rx="1.35" ry="1.00" fill="#4a6cc4"/>
<ellipse cx="75.4" cy="118.9" rx="1.35" ry="1.00" fill="#4a6cc4"/>
<ellipse cx="98.5" cy="108.8" rx="1.35" ry="1.00" fill="#4a6cc4"/>
<ellipse cx="91.7" cy="111.3" rx="1.35" ry="1.00" fill="#4a6cc4"/>
<ellipse cx="88.4" cy="116.1" rx="1.35" ry="1.00" fill="#4a6cc4"/>
<ellipse cx="88.8" cy="117.5" rx="1.35" ry="1.00" fill="#4a6cc4"/>
<ellipse cx="105.2" cy="113.5" rx="1.35" ry="1.00" fill="#4a6cc4"/>
<ellipse cx="104.2" cy="121.8" rx="1.35" ry="1.00" fill="#4a6cc4"/>
<ellipse cx="108.6" cy="120.9" rx="1.35" ry="1.00" fill="#4a6cc4"/>
<ellipse cx="91.3" cy="128.6" rx="1.35" ry="1.00" fill="#4a6cc4"/>
<ellipse cx="83.6" cy="130.0" rx="1.35" ry="1.00" fill="#4a6cc4"/>
<ellipse cx="95.6" cy="136.3" rx="1.35" ry="1.00" fill="#4a6cc4"/>
<ellipse cx="108.1" cy="137.7" rx="1.35" ry="1.00" fill="#4a6cc4"/>
<ellipse cx="115.6" cy="102.9" rx="1.35" ry="1.00" fill="#4a6cc4"/>
<ellipse cx="132.9" cy="104.3" rx="1.35" ry="1.00" fill="#4a6cc4"/>
<ellipse cx="125.2" cy="106.3" rx="1.35" ry="1.00" fill="#4a6cc4"/>
<ellipse cx="136.7" cy="107.2" rx="1.35" ry="1.00" fill="#4a6cc4"/>
<ellipse cx="115.6" cy="109.6" rx="1.35" ry="1.00" fill="#4a6cc4"/>
<ellipse cx="120.4" cy="112.0" rx="1.35" ry="1.00" fill="#4a6cc4"/>
<ellipse cx="125.7" cy="115.9" rx="1.35" ry="1.00" fill="#4a6cc4"/>
<ellipse cx="122.3" cy="117.8" rx="1.35" ry="1.00" fill="#4a6cc4"/>
<ellipse cx="136.3" cy="111.1" rx="1.35" ry="1.00" fill="#4a6cc4"/>
<ellipse cx="106.0" cy="113.0" rx="1.35" ry="1.00" fill="#4a6cc4"/>
<ellipse cx="137.2" cy="117.8" rx="1.35" ry="1.00" fill="#4a6cc4"/>
<ellipse cx="109.8" cy="120.2" rx="1.35" ry="1.00" fill="#4a6cc4"/>
<ellipse cx="112.2" cy="124.0" rx="1.35" ry="1.00" fill="#4a6cc4"/>
<ellipse cx="111.3" cy="126.4" rx="1.35" ry="1.00" fill="#4a6cc4"/>
<ellipse cx="126.6" cy="128.4" rx="1.35" ry="1.00" fill="#4a6cc4"/>
<ellipse cx="152.6" cy="107.2" rx="1.35" ry="1.00" fill="#4a6cc4"/>
<ellipse cx="127.0" cy="128.5" rx="1.35" ry="1.00" fill="#4a6cc4"/>
<ellipse cx="107.7" cy="137.6" rx="1.35" ry="1.00" fill="#4a6cc4"/>
<ellipse cx="122.1" cy="136.0" rx="1.35" ry="1.00" fill="#4a6cc4"/>
<ellipse cx="108.7" cy="145.1" rx="1.35" ry="1.00" fill="#4a6cc4"/>
<ellipse cx="112.5" cy="146.2" rx="1.35" ry="1.00" fill="#4a6cc4"/>
<ellipse cx="151.0" cy="154.8" rx="0.60" ry="0.44" fill="#4a6cc4"/>
<ellipse cx="133.4" cy="165.5" rx="0.60" ry="0.44" fill="#4a6cc4"/>
<ellipse cx="46.0" cy="153.9" rx="1.35" ry="1.00" fill="#4a6cc4"/>
<ellipse cx="65.8" cy="152.0" rx="1.35" ry="1.00" fill="#4a6cc4"/>
<ellipse cx="85.7" cy="153.4" rx="1.35" ry="1.00" fill="#4a6cc4"/>
<ellipse cx="94.4" cy="136.0" rx="1.35" ry="1.00" fill="#4a6cc4"/>
<ellipse cx="107.4" cy="137.8" rx="1.35" ry="1.00" fill="#4a6cc4"/>
<ellipse cx="109.1" cy="145.6" rx="1.35" ry="1.00" fill="#4a6cc4"/>
<ellipse cx="151.3" cy="154.6" rx="0.60" ry="0.44" fill="#4a6cc4"/>
<ellipse cx="167.0" cy="165.8" rx="0.60" ry="0.44" fill="#4a6cc4"/>
<ellipse cx="216.0" cy="165.1" rx="0.60" ry="0.44" fill="#4a6cc4"/>
<circle cx="78.8" cy="112.5" r="1.3" fill="#4a6cc4" stroke="#111" stroke-width="0.9"/>
<circle cx="193.6" cy="59" r="1.3" fill="#4a6cc4" stroke="#111" stroke-width="0.9"/>
<line x1="79.2" y1="58.2" x2="85.3" y2="57" stroke="#111" stroke-width="0.7"/>
<circle cx="85.3" cy="57" r="0.8" fill="#111"/>
<line x1="121.2" y1="49.6" x2="122.2" y2="44.7" stroke="#111" stroke-width="0.7"/>
<circle cx="122.2" cy="44.7" r="0.8" fill="#111"/>
<line x1="130.4" y1="53.5" x2="135.8" y2="52.5" stroke="#111" stroke-width="0.7"/>
<circle cx="135.8" cy="52.5" r="0.8" fill="#111"/>
<line x1="160.2" y1="77.5" x2="166" y2="76.7" stroke="#111" stroke-width="0.7"/>
<circle cx="166" cy="76.7" r="0.8" fill="#111"/>
<line x1="91.1" y1="86.3" x2="96.8" y2="85.8" stroke="#111" stroke-width="0.7"/>
<circle cx="96.8" cy="85.8" r="0.8" fill="#111"/>
<line x1="75.4" y1="121.8" x2="73.9" y2="133.8" stroke="#111" stroke-width="0.7"/>
<circle cx="73.9" cy="133.8" r="0.8" fill="#111"/>
<line x1="86.4" y1="130" x2="86" y2="136.7" stroke="#111" stroke-width="0.7"/>
<circle cx="86" cy="136.7" r="0.8" fill="#111"/>
<line x1="92.7" y1="134.8" x2="97" y2="132.4" stroke="#111" stroke-width="0.7"/>
<circle cx="97" cy="132.4" r="0.8" fill="#111"/>
<line x1="88.3" y1="149" x2="89.2" y2="154.2" stroke="#111" stroke-width="0.7"/>
<circle cx="89.2" cy="154.2" r="0.8" fill="#111"/>
<line x1="44.2" y1="151.6" x2="50.3" y2="148.2" stroke="#111" stroke-width="0.7"/>
<circle cx="50.3" cy="148.2" r="0.8" fill="#111"/>
<text x="81.4" y="54.7" font-size="4.4" font-family="Liberation Serif, serif" fill="#1a1a1a" stroke="#1a1a1a" stroke-width="0.1" text-anchor="middle">13G</text>
<text x="116.3" y="48.2" font-size="4.4" font-family="Liberation Serif, serif" fill="#1a1a1a" stroke="#1a1a1a" stroke-width="0.1" text-anchor="middle">68G</text>
<text x="132.4" y="50.7" font-size="4.4" font-family="Liberation Serif, serif" fill="#1a1a1a" stroke="#1a1a1a" stroke-width="0.1" text-anchor="middle">93G</text>
<text x="161.9" y="74.7" font-size="4.4" font-family="Liberation Serif, serif" fill="#1a1a1a" stroke="#1a1a1a" stroke-width="0.1" text-anchor="middle">62Y</text>
<text x="94.6" y="90.5" font-size="4.4" font-family="Liberation Serif, serif" fill="#1a1a1a" stroke="#1a1a1a" stroke-width="0.1" text-anchor="middle">30L</text>
<text x="70.6" y="127.5" font-size="4.4" font-family="Liberation Serif, serif" fill="#1a1a1a" stroke="#1a1a1a" stroke-width="0.1" text-anchor="middle">54I</text>
<text x="81.6" y="135.1" font-size="4.4" font-family="Liberation Serif, serif" fill="#1a1a1a" stroke="#1a1a1a" stroke-width="0.1" text-anchor="middle">43L</text>
<text x="98.5" y="129.9" font-size="4.4" font-family="Liberation Serif, serif" fill="#1a1a1a" stroke="#1a1a1a" stroke-width="0.1" text-anchor="middle">46R</text>
<text x="93.5" y="152.1" font-size="4.4" font-family="Liberation Serif, serif" fill="#1a1a1a" stroke="#1a1a1a" stroke-width="0.1" text-anchor="middle">47R</text>
<text x="44.2" y="146.9" font-size="4.4" font-family="Liberation Serif, serif" fill="#1a1a1a" stroke="#1a1a1a" stroke-width="0.1" text-anchor="middle">69I-5C</text>
<rect x="272.2" y="22.6" width="199.40" height="149.70" fill="#fdfcfa" stroke="none"/>
<rect x="272.2" y="22.6" width="26" height="22" fill="#ffffff" stroke="none"/>
<line x1="471.60" y1="26.63" x2="473.20" y2="26.63" stroke="#111" stroke-width="1.0"/>
<line x1="471.60" y1="30.92" x2="473.20" y2="30.92" stroke="#111" stroke-width="1.0"/>
<line x1="471.60" y1="35.21" x2="473.20" y2="35.21" stroke="#111" stroke-width="1.0"/>
<line x1="471.60" y1="39.50" x2="474.60" y2="39.50" stroke="#111" stroke-width="1.0"/>
<text x="478.00" y="41.80" font-size="6.3" fill="#111" stroke="#111" stroke-width="0.12" textLength="9.4" lengthAdjust="spacingAndGlyphs">105</text>
<line x1="471.60" y1="43.79" x2="473.20" y2="43.79" stroke="#111" stroke-width="1.0"/>
<line x1="471.60" y1="48.08" x2="473.20" y2="48.08" stroke="#111" stroke-width="1.0"/>
<line x1="471.60" y1="52.37" x2="473.20" y2="52.37" stroke="#111" stroke-width="1.0"/>
<line x1="471.60" y1="56.66" x2="473.20" y2="56.66" stroke="#111" stroke-width="1.0"/>
<line x1="471.60" y1="60.95" x2="474.60" y2="60.95" stroke="#111" stroke-width="1.0"/>
<text x="478.00" y="63.25" font-size="6.3" fill="#111" stroke="#111" stroke-width="0.12" textLength="9.4" lengthAdjust="spacingAndGlyphs">110</text>
<line x1="471.60" y1="65.24" x2="473.20" y2="65.24" stroke="#111" stroke-width="1.0"/>
<line x1="471.60" y1="69.53" x2="473.20" y2="69.53" stroke="#111" stroke-width="1.0"/>
<line x1="471.60" y1="73.82" x2="473.20" y2="73.82" stroke="#111" stroke-width="1.0"/>
<line x1="471.60" y1="78.11" x2="473.20" y2="78.11" stroke="#111" stroke-width="1.0"/>
<line x1="471.60" y1="82.40" x2="474.60" y2="82.40" stroke="#111" stroke-width="1.0"/>
<text x="478.00" y="84.70" font-size="6.3" fill="#111" stroke="#111" stroke-width="0.12" textLength="9.4" lengthAdjust="spacingAndGlyphs">115</text>
<line x1="471.60" y1="86.69" x2="473.20" y2="86.69" stroke="#111" stroke-width="1.0"/>
<line x1="471.60" y1="90.98" x2="473.20" y2="90.98" stroke="#111" stroke-width="1.0"/>
<line x1="471.60" y1="95.27" x2="473.20" y2="95.27" stroke="#111" stroke-width="1.0"/>
<line x1="471.60" y1="99.56" x2="473.20" y2="99.56" stroke="#111" stroke-width="1.0"/>
<line x1="471.60" y1="103.85" x2="474.60" y2="103.85" stroke="#111" stroke-width="1.0"/>
<text x="478.00" y="106.15" font-size="6.3" fill="#111" stroke="#111" stroke-width="0.12" textLength="9.4" lengthAdjust="spacingAndGlyphs">120</text>
<line x1="471.60" y1="108.14" x2="473.20" y2="108.14" stroke="#111" stroke-width="1.0"/>
<line x1="471.60" y1="112.43" x2="473.20" y2="112.43" stroke="#111" stroke-width="1.0"/>
<line x1="471.60" y1="116.72" x2="473.20" y2="116.72" stroke="#111" stroke-width="1.0"/>
<line x1="471.60" y1="121.01" x2="473.20" y2="121.01" stroke="#111" stroke-width="1.0"/>
<line x1="471.60" y1="125.30" x2="474.60" y2="125.30" stroke="#111" stroke-width="1.0"/>
<text x="478.00" y="127.60" font-size="6.3" fill="#111" stroke="#111" stroke-width="0.12" textLength="9.4" lengthAdjust="spacingAndGlyphs">125</text>
<line x1="471.60" y1="129.59" x2="473.20" y2="129.59" stroke="#111" stroke-width="1.0"/>
<line x1="471.60" y1="133.88" x2="473.20" y2="133.88" stroke="#111" stroke-width="1.0"/>
<line x1="471.60" y1="138.17" x2="473.20" y2="138.17" stroke="#111" stroke-width="1.0"/>
<line x1="471.60" y1="142.46" x2="473.20" y2="142.46" stroke="#111" stroke-width="1.0"/>
<line x1="471.60" y1="146.75" x2="474.60" y2="146.75" stroke="#111" stroke-width="1.0"/>
<text x="478.00" y="149.05" font-size="6.3" fill="#111" stroke="#111" stroke-width="0.12" textLength="9.4" lengthAdjust="spacingAndGlyphs">130</text>
<line x1="471.60" y1="151.04" x2="473.20" y2="151.04" stroke="#111" stroke-width="1.0"/>
<line x1="471.60" y1="155.33" x2="473.20" y2="155.33" stroke="#111" stroke-width="1.0"/>
<line x1="471.60" y1="159.62" x2="473.20" y2="159.62" stroke="#111" stroke-width="1.0"/>
<line x1="471.60" y1="163.91" x2="473.20" y2="163.91" stroke="#111" stroke-width="1.0"/>
<line x1="471.60" y1="168.20" x2="474.60" y2="168.20" stroke="#111" stroke-width="1.0"/>
<text x="478.00" y="170.50" font-size="6.3" fill="#111" stroke="#111" stroke-width="0.12" textLength="9.4" lengthAdjust="spacingAndGlyphs">135</text>
<line x1="275.17" y1="172.30" x2="275.17" y2="173.90" stroke="#111" stroke-width="1"/>
<line x1="278.62" y1="172.30" x2="278.62" y2="173.90" stroke="#111" stroke-width="1"/>
<line x1="282.06" y1="172.30" x2="282.06" y2="173.90" stroke="#111" stroke-width="1"/>
<line x1="285.50" y1="172.30" x2="285.50" y2="175.30" stroke="#111" stroke-width="1"/>
<text x="285.50" y="183.90" font-size="6.1" fill="#111" stroke="#111" stroke-width="0.12" text-anchor="middle">11.0</text>
<line x1="288.94" y1="172.30" x2="288.94" y2="173.90" stroke="#111" stroke-width="1"/>
<line x1="292.38" y1="172.30" x2="292.38" y2="173.90" stroke="#111" stroke-width="1"/>
<line x1="295.83" y1="172.30" x2="295.83" y2="173.90" stroke="#111" stroke-width="1"/>
<line x1="299.27" y1="172.30" x2="299.27" y2="173.90" stroke="#111" stroke-width="1"/>
<line x1="302.71" y1="172.30" x2="302.71" y2="175.30" stroke="#111" stroke-width="1"/>
<text x="302.71" y="183.90" font-size="6.1" fill="#111" stroke="#111" stroke-width="0.12" text-anchor="middle">10.5</text>
<line x1="306.15" y1="172.30" x2="306.15" y2="173.90" stroke="#111" stroke-width="1"/>
<line x1="309.59" y1="172.30" x2="309.59" y2="173.90" stroke="#111" stroke-width="1"/>
<line x1="313.04" y1="172.30" x2="313.04" y2="173.90" stroke="#111" stroke-width="1"/>
<line x1="316.48" y1="172.30" x2="316.48" y2="173.90" stroke="#111" stroke-width="1"/>
<line x1="319.92" y1="172.30" x2="319.92" y2="175.30" stroke="#111" stroke-width="1"/>
<text x="319.92" y="183.90" font-size="6.1" fill="#111" stroke="#111" stroke-width="0.12" text-anchor="middle">10.0</text>
<line x1="323.36" y1="172.30" x2="323.36" y2="173.90" stroke="#111" stroke-width="1"/>
<line x1="326.80" y1="172.30" x2="326.80" y2="173.90" stroke="#111" stroke-width="1"/>
<line x1="330.25" y1="172.30" x2="330.25" y2="173.90" stroke="#111" stroke-width="1"/>
<line x1="333.69" y1="172.30" x2="333.69" y2="173.90" stroke="#111" stroke-width="1"/>
<line x1="337.13" y1="172.30" x2="337.13" y2="175.30" stroke="#111" stroke-width="1"/>
<text x="337.13" y="183.90" font-size="6.1" fill="#111" stroke="#111" stroke-width="0.12" text-anchor="middle">9.5</text>
<line x1="340.57" y1="172.30" x2="340.57" y2="173.90" stroke="#111" stroke-width="1"/>
<line x1="344.01" y1="172.30" x2="344.01" y2="173.90" stroke="#111" stroke-width="1"/>
<line x1="347.46" y1="172.30" x2="347.46" y2="173.90" stroke="#111" stroke-width="1"/>
<line x1="350.90" y1="172.30" x2="350.90" y2="173.90" stroke="#111" stroke-width="1"/>
<line x1="354.34" y1="172.30" x2="354.34" y2="175.30" stroke="#111" stroke-width="1"/>
<text x="354.34" y="183.90" font-size="6.1" fill="#111" stroke="#111" stroke-width="0.12" text-anchor="middle">9.0</text>
<line x1="357.78" y1="172.30" x2="357.78" y2="173.90" stroke="#111" stroke-width="1"/>
<line x1="361.22" y1="172.30" x2="361.22" y2="173.90" stroke="#111" stroke-width="1"/>
<line x1="364.67" y1="172.30" x2="364.67" y2="173.90" stroke="#111" stroke-width="1"/>
<line x1="368.11" y1="172.30" x2="368.11" y2="173.90" stroke="#111" stroke-width="1"/>
<line x1="371.55" y1="172.30" x2="371.55" y2="175.30" stroke="#111" stroke-width="1"/>
<text x="371.55" y="183.90" font-size="6.1" fill="#111" stroke="#111" stroke-width="0.12" text-anchor="middle">8.5</text>
<line x1="374.99" y1="172.30" x2="374.99" y2="173.90" stroke="#111" stroke-width="1"/>
<line x1="378.43" y1="172.30" x2="378.43" y2="173.90" stroke="#111" stroke-width="1"/>
<line x1="381.88" y1="172.30" x2="381.88" y2="173.90" stroke="#111" stroke-width="1"/>
<line x1="385.32" y1="172.30" x2="385.32" y2="173.90" stroke="#111" stroke-width="1"/>
<line x1="388.76" y1="172.30" x2="388.76" y2="175.30" stroke="#111" stroke-width="1"/>
<text x="388.76" y="183.90" font-size="6.1" fill="#111" stroke="#111" stroke-width="0.12" text-anchor="middle">8.0</text>
<line x1="392.20" y1="172.30" x2="392.20" y2="173.90" stroke="#111" stroke-width="1"/>
<line x1="395.64" y1="172.30" x2="395.64" y2="173.90" stroke="#111" stroke-width="1"/>
<line x1="399.09" y1="172.30" x2="399.09" y2="173.90" stroke="#111" stroke-width="1"/>
<line x1="402.53" y1="172.30" x2="402.53" y2="173.90" stroke="#111" stroke-width="1"/>
<line x1="405.97" y1="172.30" x2="405.97" y2="175.30" stroke="#111" stroke-width="1"/>
<text x="405.97" y="183.90" font-size="6.1" fill="#111" stroke="#111" stroke-width="0.12" text-anchor="middle">7.5</text>
<line x1="409.41" y1="172.30" x2="409.41" y2="173.90" stroke="#111" stroke-width="1"/>
<line x1="412.85" y1="172.30" x2="412.85" y2="173.90" stroke="#111" stroke-width="1"/>
<line x1="416.30" y1="172.30" x2="416.30" y2="173.90" stroke="#111" stroke-width="1"/>
<line x1="419.74" y1="172.30" x2="419.74" y2="173.90" stroke="#111" stroke-width="1"/>
<line x1="423.18" y1="172.30" x2="423.18" y2="175.30" stroke="#111" stroke-width="1"/>
<text x="423.18" y="183.90" font-size="6.1" fill="#111" stroke="#111" stroke-width="0.12" text-anchor="middle">7.0</text>
<line x1="426.62" y1="172.30" x2="426.62" y2="173.90" stroke="#111" stroke-width="1"/>
<line x1="430.06" y1="172.30" x2="430.06" y2="173.90" stroke="#111" stroke-width="1"/>
<line x1="433.51" y1="172.30" x2="433.51" y2="173.90" stroke="#111" stroke-width="1"/>
<line x1="436.95" y1="172.30" x2="436.95" y2="173.90" stroke="#111" stroke-width="1"/>
<line x1="440.39" y1="172.30" x2="440.39" y2="175.30" stroke="#111" stroke-width="1"/>
<text x="440.39" y="183.90" font-size="6.1" fill="#111" stroke="#111" stroke-width="0.12" text-anchor="middle">6.5</text>
<line x1="443.83" y1="172.30" x2="443.83" y2="173.90" stroke="#111" stroke-width="1"/>
<line x1="447.27" y1="172.30" x2="447.27" y2="173.90" stroke="#111" stroke-width="1"/>
<line x1="450.72" y1="172.30" x2="450.72" y2="173.90" stroke="#111" stroke-width="1"/>
<line x1="454.16" y1="172.30" x2="454.16" y2="173.90" stroke="#111" stroke-width="1"/>
<line x1="457.60" y1="172.30" x2="457.60" y2="175.30" stroke="#111" stroke-width="1"/>
<text x="457.60" y="183.90" font-size="6.1" fill="#111" stroke="#111" stroke-width="0.12" text-anchor="middle">6.0</text>
<line x1="461.04" y1="172.30" x2="461.04" y2="173.90" stroke="#111" stroke-width="1"/>
<line x1="464.48" y1="172.30" x2="464.48" y2="173.90" stroke="#111" stroke-width="1"/>
<line x1="467.93" y1="172.30" x2="467.93" y2="173.90" stroke="#111" stroke-width="1"/>
<rect x="272.2" y="22.6" width="199.40" height="149.70" fill="none" stroke="#111" stroke-width="1.3"/>
<text x="372.00" y="195.60" font-size="8.5" fill="#111" stroke="#111" stroke-width="0.15" text-anchor="middle"><tspan font-size="5.6" dy="-3.1">1</tspan><tspan dy="3.1">H ppm</tspan></text>
<text transform="translate(498.20,97.40) rotate(-90)" x="0" y="2.7" font-size="8.5" fill="#111" stroke="#111" stroke-width="0.15" text-anchor="middle"><tspan font-size="5.6" dy="-3.1">15</tspan><tspan dy="3.1">N ppm</tspan></text>
<text x="261.5" y="16.5" font-size="10.5" fill="#111" stroke="#111" stroke-width="0.12">B</text>
<ellipse cx="339.6" cy="41.7" rx="0.60" ry="0.60" fill="#e9b5b0"/>
<ellipse cx="350.6" cy="57.3" rx="0.60" ry="0.60" fill="#e9b5b0"/>
<ellipse cx="370.7" cy="60.8" rx="0.60" ry="0.60" fill="#e9b5b0"/>
<ellipse cx="368.4" cy="53.8" rx="0.60" ry="0.60" fill="#e9b5b0"/>
<ellipse cx="397.9" cy="57.3" rx="0.60" ry="0.60" fill="#e9b5b0"/>
<ellipse cx="371.0" cy="60.7" rx="0.60" ry="0.60" fill="#e9b5b0"/>
<ellipse cx="437.5" cy="31.1" rx="0.60" ry="0.60" fill="#e9b5b0"/>
<ellipse cx="466.0" cy="74.4" rx="0.60" ry="0.60" fill="#e9b5b0"/>
<ellipse cx="457.3" cy="79.1" rx="0.60" ry="0.60" fill="#e9b5b0"/>
<ellipse cx="394.0" cy="125.7" rx="0.60" ry="0.60" fill="#e9b5b0"/>
<ellipse cx="381.5" cy="131.9" rx="0.60" ry="0.60" fill="#e9b5b0"/>
<ellipse cx="438.4" cy="139.5" rx="0.60" ry="0.60" fill="#e9b5b0"/>
<ellipse cx="320.6" cy="72.9" rx="1.50" ry="1.25" fill="#e8342a"/>
<ellipse cx="346.0" cy="71.1" rx="1.50" ry="1.25" fill="#e8342a"/>
<ellipse cx="360.4" cy="76.0" rx="1.50" ry="1.25" fill="#e8342a"/>
<ellipse cx="373.6" cy="80.4" rx="1.50" ry="1.25" fill="#e8342a"/>
<ellipse cx="350.6" cy="83.8" rx="1.50" ry="1.25" fill="#e8342a"/>
<ellipse cx="374.5" cy="53.0" rx="1.50" ry="1.25" fill="#e8342a"/>
<ellipse cx="381.1" cy="49.6" rx="1.50" ry="1.25" fill="#e8342a"/>
<ellipse cx="385.9" cy="52.5" rx="1.50" ry="1.25" fill="#e8342a"/>
<ellipse cx="380.6" cy="54.4" rx="1.50" ry="1.25" fill="#e8342a"/>
<ellipse cx="420.0" cy="46.7" rx="1.50" ry="1.25" fill="#e8342a"/>
<ellipse cx="403.2" cy="56.8" rx="1.50" ry="1.25" fill="#e8342a"/>
<ellipse cx="406.1" cy="61.2" rx="1.50" ry="1.25" fill="#e8342a"/>
<ellipse cx="400.8" cy="66.9" rx="1.50" ry="1.25" fill="#e8342a"/>
<ellipse cx="397.9" cy="73.7" rx="1.50" ry="1.25" fill="#e8342a"/>
<ellipse cx="405.6" cy="66.0" rx="1.50" ry="1.25" fill="#e8342a"/>
<ellipse cx="406.1" cy="68.4" rx="1.50" ry="1.25" fill="#e8342a"/>
<ellipse cx="393.1" cy="65.0" rx="1.50" ry="1.25" fill="#e8342a"/>
<ellipse cx="394.0" cy="70.3" rx="1.50" ry="1.25" fill="#e8342a"/>
<ellipse cx="412.3" cy="72.2" rx="1.50" ry="1.25" fill="#e8342a"/>
<ellipse cx="417.6" cy="67.4" rx="1.50" ry="1.25" fill="#e8342a"/>
<ellipse cx="414.2" cy="71.7" rx="1.50" ry="1.25" fill="#e8342a"/>
<ellipse cx="420.5" cy="46.6" rx="1.50" ry="1.25" fill="#e8342a"/>
<ellipse cx="417.7" cy="67.8" rx="1.50" ry="1.25" fill="#e8342a"/>
<ellipse cx="425.4" cy="65.6" rx="1.50" ry="1.25" fill="#e8342a"/>
<ellipse cx="424.3" cy="67.8" rx="1.50" ry="1.25" fill="#e8342a"/>
<ellipse cx="423.8" cy="73.8" rx="1.50" ry="1.25" fill="#e8342a"/>
<ellipse cx="436.9" cy="72.2" rx="1.50" ry="1.25" fill="#e8342a"/>
<ellipse cx="424.2" cy="74.2" rx="1.50" ry="1.25" fill="#e8342a"/>
<ellipse cx="425.2" cy="67.9" rx="1.50" ry="1.25" fill="#e8342a"/>
<ellipse cx="436.9" cy="72.3" rx="1.50" ry="1.25" fill="#e8342a"/>
<ellipse cx="417.9" cy="67.4" rx="1.50" ry="1.25" fill="#e8342a"/>
<ellipse cx="429.1" cy="91.3" rx="1.50" ry="1.25" fill="#e8342a"/>
<ellipse cx="450.0" cy="87.6" rx="1.50" ry="1.25" fill="#e8342a"/>
<ellipse cx="360.6" cy="76.0" rx="1.50" ry="1.25" fill="#e8342a"/>
<ellipse cx="351.0" cy="84.1" rx="1.50" ry="1.25" fill="#e8342a"/>
<ellipse cx="358.7" cy="88.0" rx="1.50" ry="1.25" fill="#e8342a"/>
<ellipse cx="328.8" cy="93.8" rx="1.50" ry="1.25" fill="#e8342a"/>
<ellipse cx="335.1" cy="95.2" rx="1.50" ry="1.25" fill="#e8342a"/>
<ellipse cx="346.6" cy="95.2" rx="1.50" ry="1.25" fill="#e8342a"/>
<ellipse cx="338.5" cy="105.3" rx="1.50" ry="1.25" fill="#e8342a"/>
<ellipse cx="345.2" cy="103.4" rx="1.50" ry="1.25" fill="#e8342a"/>
<ellipse cx="351.0" cy="101.9" rx="1.50" ry="1.25" fill="#e8342a"/>
<ellipse cx="371.2" cy="86.1" rx="1.50" ry="1.25" fill="#e8342a"/>
<ellipse cx="373.6" cy="80.3" rx="1.50" ry="1.25" fill="#e8342a"/>
<ellipse cx="370.2" cy="92.3" rx="1.50" ry="1.25" fill="#e8342a"/>
<ellipse cx="364.9" cy="105.8" rx="1.50" ry="1.25" fill="#e8342a"/>
<ellipse cx="373.1" cy="100.5" rx="1.50" ry="1.25" fill="#e8342a"/>
<ellipse cx="351.4" cy="108.7" rx="1.50" ry="1.25" fill="#e8342a"/>
<ellipse cx="373.8" cy="80.8" rx="1.50" ry="1.25" fill="#e8342a"/>
<ellipse cx="371.4" cy="85.6" rx="1.50" ry="1.25" fill="#e8342a"/>
<ellipse cx="370.5" cy="91.8" rx="1.50" ry="1.25" fill="#e8342a"/>
<ellipse cx="381.5" cy="87.5" rx="1.50" ry="1.25" fill="#e8342a"/>
<ellipse cx="394.5" cy="93.8" rx="1.50" ry="1.25" fill="#e8342a"/>
<ellipse cx="390.2" cy="92.8" rx="1.50" ry="1.25" fill="#e8342a"/>
<ellipse cx="404.6" cy="80.3" rx="1.50" ry="1.25" fill="#e8342a"/>
<ellipse cx="403.2" cy="91.3" rx="1.50" ry="1.25" fill="#e8342a"/>
<ellipse cx="402.7" cy="93.8" rx="1.50" ry="1.25" fill="#e8342a"/>
<ellipse cx="373.4" cy="100.5" rx="1.50" ry="1.25" fill="#e8342a"/>
<ellipse cx="378.7" cy="101.9" rx="1.50" ry="1.25" fill="#e8342a"/>
<ellipse cx="390.2" cy="98.1" rx="1.50" ry="1.25" fill="#e8342a"/>
<ellipse cx="392.6" cy="99.5" rx="1.50" ry="1.25" fill="#e8342a"/>
<ellipse cx="385.4" cy="105.8" rx="1.50" ry="1.25" fill="#e8342a"/>
<ellipse cx="392.6" cy="107.2" rx="1.50" ry="1.25" fill="#e8342a"/>
<ellipse cx="373.8" cy="107.2" rx="1.50" ry="1.25" fill="#e8342a"/>
<ellipse cx="338.5" cy="105.5" rx="1.50" ry="1.25" fill="#e8342a"/>
<ellipse cx="351.0" cy="108.4" rx="1.50" ry="1.25" fill="#e8342a"/>
<ellipse cx="358.2" cy="112.7" rx="1.50" ry="1.25" fill="#e8342a"/>
<ellipse cx="355.8" cy="116.1" rx="1.50" ry="1.25" fill="#e8342a"/>
<ellipse cx="363.9" cy="117.0" rx="1.50" ry="1.25" fill="#e8342a"/>
<ellipse cx="368.8" cy="110.8" rx="1.50" ry="1.25" fill="#e8342a"/>
<ellipse cx="341.8" cy="118.5" rx="1.50" ry="1.25" fill="#e8342a"/>
<ellipse cx="336.1" cy="119.9" rx="1.50" ry="1.25" fill="#e8342a"/>
<ellipse cx="337.0" cy="122.8" rx="1.50" ry="1.25" fill="#e8342a"/>
<ellipse cx="362.0" cy="126.2" rx="1.50" ry="1.25" fill="#e8342a"/>
<ellipse cx="348.6" cy="128.1" rx="1.50" ry="1.25" fill="#e8342a"/>
<ellipse cx="354.3" cy="129.0" rx="1.50" ry="1.25" fill="#e8342a"/>
<ellipse cx="368.8" cy="127.1" rx="1.50" ry="1.25" fill="#e8342a"/>
<ellipse cx="369.2" cy="133.8" rx="1.50" ry="1.25" fill="#e8342a"/>
<ellipse cx="361.5" cy="135.3" rx="1.50" ry="1.25" fill="#e8342a"/>
<ellipse cx="341.8" cy="135.8" rx="1.50" ry="1.25" fill="#e8342a"/>
<ellipse cx="373.6" cy="130.0" rx="1.50" ry="1.25" fill="#e8342a"/>
<ellipse cx="373.1" cy="112.7" rx="1.50" ry="1.25" fill="#e8342a"/>
<ellipse cx="385.9" cy="106.0" rx="1.50" ry="1.25" fill="#e8342a"/>
<ellipse cx="387.8" cy="110.8" rx="1.50" ry="1.25" fill="#e8342a"/>
<ellipse cx="380.6" cy="112.2" rx="1.50" ry="1.25" fill="#e8342a"/>
<ellipse cx="393.1" cy="116.5" rx="1.50" ry="1.25" fill="#e8342a"/>
<ellipse cx="398.8" cy="118.9" rx="1.50" ry="1.25" fill="#e8342a"/>
<ellipse cx="377.2" cy="124.2" rx="1.50" ry="1.25" fill="#e8342a"/>
<ellipse cx="373.4" cy="130.0" rx="1.50" ry="1.25" fill="#e8342a"/>
<ellipse cx="370.5" cy="133.8" rx="1.50" ry="1.25" fill="#e8342a"/>
<ellipse cx="411.8" cy="111.3" rx="1.50" ry="1.25" fill="#e8342a"/>
<ellipse cx="397.9" cy="126.2" rx="1.50" ry="1.25" fill="#e8342a"/>
<ellipse cx="393.1" cy="106.9" rx="1.50" ry="1.25" fill="#e8342a"/>
<ellipse cx="342.3" cy="135.6" rx="1.50" ry="1.25" fill="#e8342a"/>
<ellipse cx="342.3" cy="140.2" rx="1.50" ry="1.25" fill="#e8342a"/>
<ellipse cx="341.1" cy="143.1" rx="1.50" ry="1.25" fill="#e8342a"/>
<ellipse cx="350.4" cy="141.9" rx="1.50" ry="1.25" fill="#e8342a"/>
<ellipse cx="349.8" cy="150.6" rx="1.50" ry="1.25" fill="#e8342a"/>
<ellipse cx="361.3" cy="135.6" rx="1.50" ry="1.25" fill="#e8342a"/>
<ellipse cx="367.1" cy="136.7" rx="1.50" ry="1.25" fill="#e8342a"/>
<ellipse cx="392.8" cy="149.8" rx="1.50" ry="1.25" fill="#e8342a"/>
<ellipse cx="422.3" cy="115.0" rx="1.50" ry="1.25" fill="#e8342a"/>
<ellipse cx="318.7" cy="64.1" rx="1.50" ry="1.25" fill="#e8342a"/>
<ellipse cx="320.2" cy="72.8" rx="1.50" ry="1.25" fill="#e8342a"/>
<ellipse cx="328.9" cy="93.7" rx="1.50" ry="1.25" fill="#e8342a"/>
<ellipse cx="318.8" cy="106.2" rx="1.50" ry="1.25" fill="#e8342a"/>
<ellipse cx="315.1" cy="140.5" rx="1.50" ry="1.25" fill="#e8342a"/>
<ellipse cx="445.5" cy="59.1" rx="1.50" ry="1.25" fill="#e8342a"/>
<ellipse cx="324.0" cy="68.3" rx="1.80" ry="1.40" fill="#0b0b0b"/>
<ellipse cx="327.5" cy="73.4" rx="1.80" ry="1.40" fill="#0b0b0b"/>
<ellipse cx="340.8" cy="74.6" rx="1.80" ry="1.40" fill="#0b0b0b"/>
<ellipse cx="362.1" cy="78.1" rx="1.80" ry="1.40" fill="#0b0b0b"/>
<ellipse cx="371.3" cy="79.2" rx="1.80" ry="1.40" fill="#0b0b0b"/>
<ellipse cx="377.7" cy="77.5" rx="1.80" ry="1.40" fill="#0b0b0b"/>
<ellipse cx="352.3" cy="83.8" rx="1.80" ry="1.40" fill="#0b0b0b"/>
<ellipse cx="373.6" cy="53.8" rx="1.80" ry="1.40" fill="#0b0b0b"/>
<ellipse cx="377.1" cy="55.6" rx="1.80" ry="1.40" fill="#0b0b0b"/>
<ellipse cx="377.5" cy="57.5" rx="1.80" ry="1.40" fill="#0b0b0b"/>
<ellipse cx="373.8" cy="53.9" rx="1.80" ry="1.40" fill="#0b0b0b"/>
<ellipse cx="379.1" cy="51.5" rx="1.80" ry="1.40" fill="#0b0b0b"/>
<ellipse cx="382.5" cy="52.0" rx="1.80" ry="1.40" fill="#0b0b0b"/>
<ellipse cx="377.2" cy="56.8" rx="1.80" ry="1.40" fill="#0b0b0b"/>
<ellipse cx="379.6" cy="57.8" rx="1.80" ry="1.40" fill="#0b0b0b"/>
<ellipse cx="378.7" cy="55.4" rx="1.80" ry="1.40" fill="#0b0b0b"/>
<ellipse cx="418.6" cy="47.2" rx="1.80" ry="1.40" fill="#0b0b0b"/>
<ellipse cx="403.7" cy="55.4" rx="1.80" ry="1.40" fill="#0b0b0b"/>
<ellipse cx="404.1" cy="61.6" rx="1.80" ry="1.40" fill="#0b0b0b"/>
<ellipse cx="403.2" cy="62.6" rx="1.80" ry="1.40" fill="#0b0b0b"/>
<ellipse cx="409.4" cy="60.7" rx="1.80" ry="1.40" fill="#0b0b0b"/>
<ellipse cx="400.8" cy="68.4" rx="1.80" ry="1.40" fill="#0b0b0b"/>
<ellipse cx="398.8" cy="73.7" rx="1.80" ry="1.40" fill="#0b0b0b"/>
<ellipse cx="402.7" cy="72.2" rx="1.80" ry="1.40" fill="#0b0b0b"/>
<ellipse cx="404.6" cy="73.7" rx="1.80" ry="1.40" fill="#0b0b0b"/>
<ellipse cx="410.4" cy="69.8" rx="1.80" ry="1.40" fill="#0b0b0b"/>
<ellipse cx="411.3" cy="71.3" rx="1.80" ry="1.40" fill="#0b0b0b"/>
<ellipse cx="414.7" cy="68.4" rx="1.80" ry="1.40" fill="#0b0b0b"/>
<ellipse cx="415.2" cy="69.3" rx="1.80" ry="1.40" fill="#0b0b0b"/>
<ellipse cx="418.3" cy="47.0" rx="1.80" ry="1.40" fill="#0b0b0b"/>
<ellipse cx="439.1" cy="61.2" rx="1.80" ry="1.40" fill="#0b0b0b"/>
<ellipse cx="446.2" cy="59.6" rx="1.80" ry="1.40" fill="#0b0b0b"/>
<ellipse cx="415.5" cy="68.9" rx="1.80" ry="1.40" fill="#0b0b0b"/>
<ellipse cx="426.0" cy="68.3" rx="1.80" ry="1.40" fill="#0b0b0b"/>
<ellipse cx="427.0" cy="71.1" rx="1.80" ry="1.40" fill="#0b0b0b"/>
<ellipse cx="426.0" cy="73.3" rx="1.80" ry="1.40" fill="#0b0b0b"/>
<ellipse cx="429.2" cy="73.3" rx="1.80" ry="1.40" fill="#0b0b0b"/>
<ellipse cx="434.2" cy="68.9" rx="1.80" ry="1.40" fill="#0b0b0b"/>
<ellipse cx="434.7" cy="71.6" rx="1.80" ry="1.40" fill="#0b0b0b"/>
<ellipse cx="433.6" cy="67.2" rx="1.80" ry="1.40" fill="#0b0b0b"/>
<ellipse cx="426.7" cy="68.9" rx="1.80" ry="1.40" fill="#0b0b0b"/>
<ellipse cx="427.6" cy="71.8" rx="1.80" ry="1.40" fill="#0b0b0b"/>
<ellipse cx="426.7" cy="74.2" rx="1.80" ry="1.40" fill="#0b0b0b"/>
<ellipse cx="429.6" cy="73.8" rx="1.80" ry="1.40" fill="#0b0b0b"/>
<ellipse cx="425.7" cy="72.8" rx="1.80" ry="1.40" fill="#0b0b0b"/>
<ellipse cx="434.0" cy="68.9" rx="1.80" ry="1.40" fill="#0b0b0b"/>
<ellipse cx="434.9" cy="70.8" rx="1.80" ry="1.40" fill="#0b0b0b"/>
<ellipse cx="434.0" cy="72.8" rx="1.80" ry="1.40" fill="#0b0b0b"/>
<ellipse cx="415.0" cy="68.9" rx="1.80" ry="1.40" fill="#0b0b0b"/>
<ellipse cx="425.7" cy="87.4" rx="1.80" ry="1.40" fill="#0b0b0b"/>
<ellipse cx="426.2" cy="88.8" rx="1.80" ry="1.40" fill="#0b0b0b"/>
<ellipse cx="445.2" cy="88.8" rx="1.80" ry="1.40" fill="#0b0b0b"/>
<ellipse cx="340.4" cy="75.5" rx="1.80" ry="1.40" fill="#0b0b0b"/>
<ellipse cx="362.0" cy="78.8" rx="1.80" ry="1.40" fill="#0b0b0b"/>
<ellipse cx="371.2" cy="79.3" rx="1.80" ry="1.40" fill="#0b0b0b"/>
<ellipse cx="353.4" cy="83.2" rx="1.80" ry="1.40" fill="#0b0b0b"/>
<ellipse cx="354.3" cy="86.5" rx="1.80" ry="1.40" fill="#0b0b0b"/>
<ellipse cx="353.4" cy="88.9" rx="1.80" ry="1.40" fill="#0b0b0b"/>
<ellipse cx="366.8" cy="87.5" rx="1.80" ry="1.40" fill="#0b0b0b"/>
<ellipse cx="368.3" cy="90.4" rx="1.80" ry="1.40" fill="#0b0b0b"/>
<ellipse cx="369.7" cy="91.8" rx="1.80" ry="1.40" fill="#0b0b0b"/>
<ellipse cx="372.1" cy="86.5" rx="1.80" ry="1.40" fill="#0b0b0b"/>
<ellipse cx="374.0" cy="88.5" rx="1.80" ry="1.40" fill="#0b0b0b"/>
<ellipse cx="349.5" cy="93.8" rx="1.80" ry="1.40" fill="#0b0b0b"/>
<ellipse cx="336.1" cy="101.4" rx="1.80" ry="1.40" fill="#0b0b0b"/>
<ellipse cx="340.4" cy="103.4" rx="1.80" ry="1.40" fill="#0b0b0b"/>
<ellipse cx="342.8" cy="103.8" rx="1.80" ry="1.40" fill="#0b0b0b"/>
<ellipse cx="344.2" cy="104.3" rx="1.80" ry="1.40" fill="#0b0b0b"/>
<ellipse cx="348.6" cy="102.4" rx="1.80" ry="1.40" fill="#0b0b0b"/>
<ellipse cx="372.6" cy="98.6" rx="1.80" ry="1.40" fill="#0b0b0b"/>
<ellipse cx="360.6" cy="105.3" rx="1.80" ry="1.40" fill="#0b0b0b"/>
<ellipse cx="363.5" cy="107.2" rx="1.80" ry="1.40" fill="#0b0b0b"/>
<ellipse cx="365.4" cy="108.2" rx="1.80" ry="1.40" fill="#0b0b0b"/>
<ellipse cx="371.2" cy="106.7" rx="1.80" ry="1.40" fill="#0b0b0b"/>
<ellipse cx="373.6" cy="106.7" rx="1.80" ry="1.40" fill="#0b0b0b"/>
<ellipse cx="352.9" cy="108.7" rx="1.80" ry="1.40" fill="#0b0b0b"/>
<ellipse cx="378.7" cy="76.9" rx="1.80" ry="1.40" fill="#0b0b0b"/>
<ellipse cx="371.4" cy="79.3" rx="1.80" ry="1.40" fill="#0b0b0b"/>
<ellipse cx="371.9" cy="86.5" rx="1.80" ry="1.40" fill="#0b0b0b"/>
<ellipse cx="376.3" cy="85.6" rx="1.80" ry="1.40" fill="#0b0b0b"/>
<ellipse cx="379.6" cy="86.1" rx="1.80" ry="1.40" fill="#0b0b0b"/>
<ellipse cx="382.5" cy="84.1" rx="1.80" ry="1.40" fill="#0b0b0b"/>
<ellipse cx="383.9" cy="82.7" rx="1.80" ry="1.40" fill="#0b0b0b"/>
<ellipse cx="374.8" cy="88.5" rx="1.80" ry="1.40" fill="#0b0b0b"/>
<ellipse cx="378.7" cy="91.8" rx="1.80" ry="1.40" fill="#0b0b0b"/>
<ellipse cx="390.7" cy="81.7" rx="1.80" ry="1.40" fill="#0b0b0b"/>
<ellipse cx="393.6" cy="84.1" rx="1.80" ry="1.40" fill="#0b0b0b"/>
<ellipse cx="396.0" cy="83.7" rx="1.80" ry="1.40" fill="#0b0b0b"/>
<ellipse cx="391.6" cy="90.9" rx="1.80" ry="1.40" fill="#0b0b0b"/>
<ellipse cx="398.8" cy="92.3" rx="1.80" ry="1.40" fill="#0b0b0b"/>
<ellipse cx="405.6" cy="85.1" rx="1.80" ry="1.40" fill="#0b0b0b"/>
<ellipse cx="405.1" cy="88.5" rx="1.80" ry="1.40" fill="#0b0b0b"/>
<ellipse cx="403.7" cy="94.7" rx="1.80" ry="1.40" fill="#0b0b0b"/>
<ellipse cx="402.2" cy="96.6" rx="1.80" ry="1.40" fill="#0b0b0b"/>
<ellipse cx="398.8" cy="99.0" rx="1.80" ry="1.40" fill="#0b0b0b"/>
<ellipse cx="372.9" cy="98.6" rx="1.80" ry="1.40" fill="#0b0b0b"/>
<ellipse cx="380.1" cy="101.0" rx="1.80" ry="1.40" fill="#0b0b0b"/>
<ellipse cx="390.7" cy="99.5" rx="1.80" ry="1.40" fill="#0b0b0b"/>
<ellipse cx="396.0" cy="101.0" rx="1.80" ry="1.40" fill="#0b0b0b"/>
<ellipse cx="393.1" cy="102.9" rx="1.80" ry="1.40" fill="#0b0b0b"/>
<ellipse cx="389.7" cy="103.8" rx="1.80" ry="1.40" fill="#0b0b0b"/>
<ellipse cx="388.3" cy="105.8" rx="1.80" ry="1.40" fill="#0b0b0b"/>
<ellipse cx="371.4" cy="106.3" rx="1.80" ry="1.40" fill="#0b0b0b"/>
<ellipse cx="375.8" cy="105.3" rx="1.80" ry="1.40" fill="#0b0b0b"/>
<ellipse cx="378.2" cy="107.7" rx="1.80" ry="1.40" fill="#0b0b0b"/>
<ellipse cx="381.5" cy="106.3" rx="1.80" ry="1.40" fill="#0b0b0b"/>
<ellipse cx="383.5" cy="108.2" rx="1.80" ry="1.40" fill="#0b0b0b"/>
<ellipse cx="389.2" cy="107.7" rx="1.80" ry="1.40" fill="#0b0b0b"/>
<ellipse cx="394.5" cy="106.7" rx="1.80" ry="1.40" fill="#0b0b0b"/>
<ellipse cx="392.1" cy="108.7" rx="1.80" ry="1.40" fill="#0b0b0b"/>
<ellipse cx="402.7" cy="76.0" rx="1.80" ry="1.40" fill="#0b0b0b"/>
<ellipse cx="353.8" cy="109.3" rx="1.80" ry="1.40" fill="#0b0b0b"/>
<ellipse cx="350.5" cy="113.7" rx="1.80" ry="1.40" fill="#0b0b0b"/>
<ellipse cx="360.1" cy="113.2" rx="1.80" ry="1.40" fill="#0b0b0b"/>
<ellipse cx="361.5" cy="114.6" rx="1.80" ry="1.40" fill="#0b0b0b"/>
<ellipse cx="360.1" cy="117.0" rx="1.80" ry="1.40" fill="#0b0b0b"/>
<ellipse cx="363.5" cy="113.7" rx="1.80" ry="1.40" fill="#0b0b0b"/>
<ellipse cx="366.3" cy="117.0" rx="1.80" ry="1.40" fill="#0b0b0b"/>
<ellipse cx="372.1" cy="116.1" rx="1.80" ry="1.40" fill="#0b0b0b"/>
<ellipse cx="363.5" cy="108.4" rx="1.80" ry="1.40" fill="#0b0b0b"/>
<ellipse cx="365.4" cy="109.3" rx="1.80" ry="1.40" fill="#0b0b0b"/>
<ellipse cx="370.2" cy="106.9" rx="1.80" ry="1.40" fill="#0b0b0b"/>
<ellipse cx="373.1" cy="106.9" rx="1.80" ry="1.40" fill="#0b0b0b"/>
<ellipse cx="338.9" cy="120.9" rx="1.80" ry="1.40" fill="#0b0b0b"/>
<ellipse cx="342.8" cy="126.2" rx="1.80" ry="1.40" fill="#0b0b0b"/>
<ellipse cx="361.5" cy="123.3" rx="1.80" ry="1.40" fill="#0b0b0b"/>
<ellipse cx="360.6" cy="125.7" rx="1.80" ry="1.40" fill="#0b0b0b"/>
<ellipse cx="372.1" cy="122.8" rx="1.80" ry="1.40" fill="#0b0b0b"/>
<ellipse cx="369.7" cy="125.7" rx="1.80" ry="1.40" fill="#0b0b0b"/>
<ellipse cx="368.8" cy="128.1" rx="1.80" ry="1.40" fill="#0b0b0b"/>
<ellipse cx="349.5" cy="129.0" rx="1.80" ry="1.40" fill="#0b0b0b"/>
<ellipse cx="353.8" cy="128.1" rx="1.80" ry="1.40" fill="#0b0b0b"/>
<ellipse cx="364.4" cy="131.0" rx="1.80" ry="1.40" fill="#0b0b0b"/>
<ellipse cx="363.5" cy="132.9" rx="1.80" ry="1.40" fill="#0b0b0b"/>
<ellipse cx="365.4" cy="133.8" rx="1.80" ry="1.40" fill="#0b0b0b"/>
<ellipse cx="362.5" cy="136.7" rx="1.80" ry="1.40" fill="#0b0b0b"/>
<ellipse cx="366.3" cy="137.2" rx="1.80" ry="1.40" fill="#0b0b0b"/>
<ellipse cx="334.1" cy="137.2" rx="1.80" ry="1.40" fill="#0b0b0b"/>
<ellipse cx="358.7" cy="139.1" rx="1.80" ry="1.40" fill="#0b0b0b"/>
<ellipse cx="342.8" cy="105.5" rx="1.80" ry="1.40" fill="#0b0b0b"/>
<ellipse cx="371.9" cy="106.0" rx="1.80" ry="1.40" fill="#0b0b0b"/>
<ellipse cx="376.7" cy="106.0" rx="1.80" ry="1.40" fill="#0b0b0b"/>
<ellipse cx="382.5" cy="106.9" rx="1.80" ry="1.40" fill="#0b0b0b"/>
<ellipse cx="388.3" cy="106.9" rx="1.80" ry="1.40" fill="#0b0b0b"/>
<ellipse cx="390.7" cy="106.0" rx="1.80" ry="1.40" fill="#0b0b0b"/>
<ellipse cx="379.6" cy="108.8" rx="1.80" ry="1.40" fill="#0b0b0b"/>
<ellipse cx="383.9" cy="110.3" rx="1.80" ry="1.40" fill="#0b0b0b"/>
<ellipse cx="382.5" cy="112.7" rx="1.80" ry="1.40" fill="#0b0b0b"/>
<ellipse cx="376.3" cy="113.2" rx="1.80" ry="1.40" fill="#0b0b0b"/>
<ellipse cx="372.4" cy="116.1" rx="1.80" ry="1.40" fill="#0b0b0b"/>
<ellipse cx="376.7" cy="117.0" rx="1.80" ry="1.40" fill="#0b0b0b"/>
<ellipse cx="381.1" cy="117.0" rx="1.80" ry="1.40" fill="#0b0b0b"/>
<ellipse cx="382.0" cy="118.5" rx="1.80" ry="1.40" fill="#0b0b0b"/>
<ellipse cx="380.1" cy="122.3" rx="1.80" ry="1.40" fill="#0b0b0b"/>
<ellipse cx="371.9" cy="122.8" rx="1.80" ry="1.40" fill="#0b0b0b"/>
<ellipse cx="370.5" cy="126.2" rx="1.80" ry="1.40" fill="#0b0b0b"/>
<ellipse cx="375.3" cy="130.0" rx="1.80" ry="1.40" fill="#0b0b0b"/>
<ellipse cx="373.8" cy="130.5" rx="1.80" ry="1.40" fill="#0b0b0b"/>
<ellipse cx="395.5" cy="107.9" rx="1.80" ry="1.40" fill="#0b0b0b"/>
<ellipse cx="396.9" cy="109.3" rx="1.80" ry="1.40" fill="#0b0b0b"/>
<ellipse cx="391.6" cy="114.6" rx="1.80" ry="1.40" fill="#0b0b0b"/>
<ellipse cx="395.5" cy="115.6" rx="1.80" ry="1.40" fill="#0b0b0b"/>
<ellipse cx="400.8" cy="112.2" rx="1.80" ry="1.40" fill="#0b0b0b"/>
<ellipse cx="399.3" cy="119.9" rx="1.80" ry="1.40" fill="#0b0b0b"/>
<ellipse cx="399.8" cy="120.9" rx="1.80" ry="1.40" fill="#0b0b0b"/>
<ellipse cx="399.8" cy="126.2" rx="1.80" ry="1.40" fill="#0b0b0b"/>
<ellipse cx="333.7" cy="137.9" rx="1.80" ry="1.40" fill="#0b0b0b"/>
<ellipse cx="340.6" cy="146.5" rx="1.80" ry="1.40" fill="#0b0b0b"/>
<ellipse cx="352.7" cy="140.8" rx="1.80" ry="1.40" fill="#0b0b0b"/>
<ellipse cx="358.4" cy="140.2" rx="1.80" ry="1.40" fill="#0b0b0b"/>
<ellipse cx="361.9" cy="138.5" rx="1.80" ry="1.40" fill="#0b0b0b"/>
<ellipse cx="365.9" cy="137.3" rx="1.80" ry="1.40" fill="#0b0b0b"/>
<ellipse cx="364.2" cy="135.6" rx="1.80" ry="1.40" fill="#0b0b0b"/>
<ellipse cx="395.8" cy="146.2" rx="1.80" ry="1.40" fill="#0b0b0b"/>
<ellipse cx="395.2" cy="151.0" rx="1.80" ry="1.40" fill="#0b0b0b"/>
<ellipse cx="424.7" cy="115.0" rx="1.80" ry="1.40" fill="#0b0b0b"/>
<ellipse cx="401.7" cy="96.7" rx="1.80" ry="1.40" fill="#0b0b0b"/>
<ellipse cx="404.7" cy="95.9" rx="1.80" ry="1.40" fill="#0b0b0b"/>
<ellipse cx="323.8" cy="68.0" rx="1.80" ry="1.40" fill="#0b0b0b"/>
<ellipse cx="327.5" cy="73.6" rx="1.80" ry="1.40" fill="#0b0b0b"/>
<ellipse cx="320.3" cy="107.2" rx="1.80" ry="1.40" fill="#0b0b0b"/>
<ellipse cx="446.7" cy="59.5" rx="1.80" ry="1.40" fill="#0b0b0b"/>
<ellipse cx="445.1" cy="89.2" rx="1.80" ry="1.40" fill="#0b0b0b"/>
<line x1="319.4" y1="60.4" x2="325.3" y2="64.1" stroke="#111" stroke-width="0.7"/>
<circle cx="325.3" cy="64.1" r="0.8" fill="#111"/>
<line x1="320.9" y1="75" x2="326.7" y2="76.2" stroke="#111" stroke-width="0.7"/>
<circle cx="326.7" cy="76.2" r="0.8" fill="#111"/>
<line x1="340.2" y1="72.9" x2="344.8" y2="68.3" stroke="#111" stroke-width="0.7"/>
<circle cx="344.8" cy="68.3" r="0.8" fill="#111"/>
<line x1="416.6" y1="43.7" x2="422.7" y2="42.3" stroke="#111" stroke-width="0.7"/>
<circle cx="422.7" cy="42.3" r="0.8" fill="#111"/>
<line x1="421.3" y1="112" x2="427.7" y2="111.6" stroke="#111" stroke-width="0.7"/>
<circle cx="427.7" cy="111.6" r="0.8" fill="#111"/>
<line x1="394.6" y1="152.2" x2="399.5" y2="147.4" stroke="#111" stroke-width="0.7"/>
<circle cx="399.5" cy="147.4" r="0.8" fill="#111"/>
<text x="325.3" y="59.5" font-size="4.4" font-family="Liberation Serif, serif" fill="#1a1a1a" stroke="#1a1a1a" stroke-width="0.1" text-anchor="middle">119G</text>
<text x="323.8" y="80.4" font-size="4.4" font-family="Liberation Serif, serif" fill="#1a1a1a" stroke="#1a1a1a" stroke-width="0.1" text-anchor="middle">154G</text>
<text x="336.1" y="69.0" font-size="4.4" font-family="Liberation Serif, serif" fill="#1a1a1a" stroke="#1a1a1a" stroke-width="0.1" text-anchor="middle">182G</text>
<text x="416.5" y="41.3" font-size="4.4" font-family="Liberation Serif, serif" fill="#1a1a1a" stroke="#1a1a1a" stroke-width="0.1" text-anchor="middle">130G</text>
<text x="424.7" y="109.1" font-size="4.4" font-family="Liberation Serif, serif" fill="#1a1a1a" stroke="#1a1a1a" stroke-width="0.1" text-anchor="middle">193L</text>
<text x="404.5" y="152.6" font-size="4.4" font-family="Liberation Serif, serif" fill="#1a1a1a" stroke="#1a1a1a" stroke-width="0.1" text-anchor="middle">1117L</text>
<rect x="19.8" y="228.6" width="199.10" height="149.50" fill="#fdfcfa" stroke="none"/>
<rect x="19.8" y="228.6" width="26" height="22" fill="#ffffff" stroke="none"/>
<line x1="218.90" y1="232.74" x2="220.50" y2="232.74" stroke="#111" stroke-width="1.0"/>
<line x1="218.90" y1="237.03" x2="220.50" y2="237.03" stroke="#111" stroke-width="1.0"/>
<line x1="218.90" y1="241.31" x2="220.50" y2="241.31" stroke="#111" stroke-width="1.0"/>
<line x1="218.90" y1="245.60" x2="221.90" y2="245.60" stroke="#111" stroke-width="1.0"/>
<text x="225.30" y="247.90" font-size="6.3" fill="#111" stroke="#111" stroke-width="0.12" textLength="9.4" lengthAdjust="spacingAndGlyphs">105</text>
<line x1="218.90" y1="249.89" x2="220.50" y2="249.89" stroke="#111" stroke-width="1.0"/>
<line x1="218.90" y1="254.17" x2="220.50" y2="254.17" stroke="#111" stroke-width="1.0"/>
<line x1="218.90" y1="258.46" x2="220.50" y2="258.46" stroke="#111" stroke-width="1.0"/>
<line x1="218.90" y1="262.75" x2="220.50" y2="262.75" stroke="#111" stroke-width="1.0"/>
<line x1="218.90" y1="267.03" x2="221.90" y2="267.03" stroke="#111" stroke-width="1.0"/>
<text x="225.30" y="269.33" font-size="6.3" fill="#111" stroke="#111" stroke-width="0.12" textLength="9.4" lengthAdjust="spacingAndGlyphs">110</text>
<line x1="218.90" y1="271.32" x2="220.50" y2="271.32" stroke="#111" stroke-width="1.0"/>
<line x1="218.90" y1="275.61" x2="220.50" y2="275.61" stroke="#111" stroke-width="1.0"/>
<line x1="218.90" y1="279.89" x2="220.50" y2="279.89" stroke="#111" stroke-width="1.0"/>
<line x1="218.90" y1="284.18" x2="220.50" y2="284.18" stroke="#111" stroke-width="1.0"/>
<line x1="218.90" y1="288.47" x2="221.90" y2="288.47" stroke="#111" stroke-width="1.0"/>
<text x="225.30" y="290.77" font-size="6.3" fill="#111" stroke="#111" stroke-width="0.12" textLength="9.4" lengthAdjust="spacingAndGlyphs">115</text>
<line x1="218.90" y1="292.75" x2="220.50" y2="292.75" stroke="#111" stroke-width="1.0"/>
<line x1="218.90" y1="297.04" x2="220.50" y2="297.04" stroke="#111" stroke-width="1.0"/>
<line x1="218.90" y1="301.33" x2="220.50" y2="301.33" stroke="#111" stroke-width="1.0"/>
<line x1="218.90" y1="305.61" x2="220.50" y2="305.61" stroke="#111" stroke-width="1.0"/>
<line x1="218.90" y1="309.90" x2="221.90" y2="309.90" stroke="#111" stroke-width="1.0"/>
<text x="225.30" y="312.20" font-size="6.3" fill="#111" stroke="#111" stroke-width="0.12" textLength="9.4" lengthAdjust="spacingAndGlyphs">120</text>
<line x1="218.90" y1="314.19" x2="220.50" y2="314.19" stroke="#111" stroke-width="1.0"/>
<line x1="218.90" y1="318.47" x2="220.50" y2="318.47" stroke="#111" stroke-width="1.0"/>
<line x1="218.90" y1="322.76" x2="220.50" y2="322.76" stroke="#111" stroke-width="1.0"/>
<line x1="218.90" y1="327.05" x2="220.50" y2="327.05" stroke="#111" stroke-width="1.0"/>
<line x1="218.90" y1="331.33" x2="221.90" y2="331.33" stroke="#111" stroke-width="1.0"/>
<text x="225.30" y="333.63" font-size="6.3" fill="#111" stroke="#111" stroke-width="0.12" textLength="9.4" lengthAdjust="spacingAndGlyphs">125</text>
<line x1="218.90" y1="335.62" x2="220.50" y2="335.62" stroke="#111" stroke-width="1.0"/>
<line x1="218.90" y1="339.91" x2="220.50" y2="339.91" stroke="#111" stroke-width="1.0"/>
<line x1="218.90" y1="344.19" x2="220.50" y2="344.19" stroke="#111" stroke-width="1.0"/>
<line x1="218.90" y1="348.48" x2="220.50" y2="348.48" stroke="#111" stroke-width="1.0"/>
<line x1="218.90" y1="352.77" x2="221.90" y2="352.77" stroke="#111" stroke-width="1.0"/>
<text x="225.30" y="355.07" font-size="6.3" fill="#111" stroke="#111" stroke-width="0.12" textLength="9.4" lengthAdjust="spacingAndGlyphs">130</text>
<line x1="218.90" y1="357.05" x2="220.50" y2="357.05" stroke="#111" stroke-width="1.0"/>
<line x1="218.90" y1="361.34" x2="220.50" y2="361.34" stroke="#111" stroke-width="1.0"/>
<line x1="218.90" y1="365.63" x2="220.50" y2="365.63" stroke="#111" stroke-width="1.0"/>
<line x1="218.90" y1="369.91" x2="220.50" y2="369.91" stroke="#111" stroke-width="1.0"/>
<line x1="218.90" y1="374.20" x2="221.90" y2="374.20" stroke="#111" stroke-width="1.0"/>
<text x="225.30" y="376.50" font-size="6.3" fill="#111" stroke="#111" stroke-width="0.12" textLength="9.4" lengthAdjust="spacingAndGlyphs">135</text>
<line x1="22.77" y1="378.10" x2="22.77" y2="379.70" stroke="#111" stroke-width="1"/>
<line x1="26.21" y1="378.10" x2="26.21" y2="379.70" stroke="#111" stroke-width="1"/>
<line x1="29.66" y1="378.10" x2="29.66" y2="379.70" stroke="#111" stroke-width="1"/>
<line x1="33.10" y1="378.10" x2="33.10" y2="381.10" stroke="#111" stroke-width="1"/>
<text x="33.10" y="389.70" font-size="6.1" fill="#111" stroke="#111" stroke-width="0.12" text-anchor="middle">11.0</text>
<line x1="36.54" y1="378.10" x2="36.54" y2="379.70" stroke="#111" stroke-width="1"/>
<line x1="39.99" y1="378.10" x2="39.99" y2="379.70" stroke="#111" stroke-width="1"/>
<line x1="43.43" y1="378.10" x2="43.43" y2="379.70" stroke="#111" stroke-width="1"/>
<line x1="46.88" y1="378.10" x2="46.88" y2="379.70" stroke="#111" stroke-width="1"/>
<line x1="50.32" y1="378.10" x2="50.32" y2="381.10" stroke="#111" stroke-width="1"/>
<text x="50.32" y="389.70" font-size="6.1" fill="#111" stroke="#111" stroke-width="0.12" text-anchor="middle">10.5</text>
<line x1="53.76" y1="378.10" x2="53.76" y2="379.70" stroke="#111" stroke-width="1"/>
<line x1="57.21" y1="378.10" x2="57.21" y2="379.70" stroke="#111" stroke-width="1"/>
<line x1="60.65" y1="378.10" x2="60.65" y2="379.70" stroke="#111" stroke-width="1"/>
<line x1="64.10" y1="378.10" x2="64.10" y2="379.70" stroke="#111" stroke-width="1"/>
<line x1="67.54" y1="378.10" x2="67.54" y2="381.10" stroke="#111" stroke-width="1"/>
<text x="67.54" y="389.70" font-size="6.1" fill="#111" stroke="#111" stroke-width="0.12" text-anchor="middle">10.0</text>
<line x1="70.98" y1="378.10" x2="70.98" y2="379.70" stroke="#111" stroke-width="1"/>
<line x1="74.43" y1="378.10" x2="74.43" y2="379.70" stroke="#111" stroke-width="1"/>
<line x1="77.87" y1="378.10" x2="77.87" y2="379.70" stroke="#111" stroke-width="1"/>
<line x1="81.32" y1="378.10" x2="81.32" y2="379.70" stroke="#111" stroke-width="1"/>
<line x1="84.76" y1="378.10" x2="84.76" y2="381.10" stroke="#111" stroke-width="1"/>
<text x="84.76" y="389.70" font-size="6.1" fill="#111" stroke="#111" stroke-width="0.12" text-anchor="middle">9.5</text>
<line x1="88.20" y1="378.10" x2="88.20" y2="379.70" stroke="#111" stroke-width="1"/>
<line x1="91.65" y1="378.10" x2="91.65" y2="379.70" stroke="#111" stroke-width="1"/>
<line x1="95.09" y1="378.10" x2="95.09" y2="379.70" stroke="#111" stroke-width="1"/>
<line x1="98.54" y1="378.10" x2="98.54" y2="379.70" stroke="#111" stroke-width="1"/>
<line x1="101.98" y1="378.10" x2="101.98" y2="381.10" stroke="#111" stroke-width="1"/>
<text x="101.98" y="389.70" font-size="6.1" fill="#111" stroke="#111" stroke-width="0.12" text-anchor="middle">9.0</text>
<line x1="105.42" y1="378.10" x2="105.42" y2="379.70" stroke="#111" stroke-width="1"/>
<line x1="108.87" y1="378.10" x2="108.87" y2="379.70" stroke="#111" stroke-width="1"/>
<line x1="112.31" y1="378.10" x2="112.31" y2="379.70" stroke="#111" stroke-width="1"/>
<line x1="115.76" y1="378.10" x2="115.76" y2="379.70" stroke="#111" stroke-width="1"/>
<line x1="119.20" y1="378.10" x2="119.20" y2="381.10" stroke="#111" stroke-width="1"/>
<text x="119.20" y="389.70" font-size="6.1" fill="#111" stroke="#111" stroke-width="0.12" text-anchor="middle">8.5</text>
<line x1="122.64" y1="378.10" x2="122.64" y2="379.70" stroke="#111" stroke-width="1"/>
<line x1="126.09" y1="378.10" x2="126.09" y2="379.70" stroke="#111" stroke-width="1"/>
<line x1="129.53" y1="378.10" x2="129.53" y2="379.70" stroke="#111" stroke-width="1"/>
<line x1="132.98" y1="378.10" x2="132.98" y2="379.70" stroke="#111" stroke-width="1"/>
<line x1="136.42" y1="378.10" x2="136.42" y2="381.10" stroke="#111" stroke-width="1"/>
<text x="136.42" y="389.70" font-size="6.1" fill="#111" stroke="#111" stroke-width="0.12" text-anchor="middle">8.0</text>
<line x1="139.86" y1="378.10" x2="139.86" y2="379.70" stroke="#111" stroke-width="1"/>
<line x1="143.31" y1="378.10" x2="143.31" y2="379.70" stroke="#111" stroke-width="1"/>
<line x1="146.75" y1="378.10" x2="146.75" y2="379.70" stroke="#111" stroke-width="1"/>
<line x1="150.20" y1="378.10" x2="150.20" y2="379.70" stroke="#111" stroke-width="1"/>
<line x1="153.64" y1="378.10" x2="153.64" y2="381.10" stroke="#111" stroke-width="1"/>
<text x="153.64" y="389.70" font-size="6.1" fill="#111" stroke="#111" stroke-width="0.12" text-anchor="middle">7.5</text>
<line x1="157.08" y1="378.10" x2="157.08" y2="379.70" stroke="#111" stroke-width="1"/>
<line x1="160.53" y1="378.10" x2="160.53" y2="379.70" stroke="#111" stroke-width="1"/>
<line x1="163.97" y1="378.10" x2="163.97" y2="379.70" stroke="#111" stroke-width="1"/>
<line x1="167.42" y1="378.10" x2="167.42" y2="379.70" stroke="#111" stroke-width="1"/>
<line x1="170.86" y1="378.10" x2="170.86" y2="381.10" stroke="#111" stroke-width="1"/>
<text x="170.86" y="389.70" font-size="6.1" fill="#111" stroke="#111" stroke-width="0.12" text-anchor="middle">7.0</text>
<line x1="174.30" y1="378.10" x2="174.30" y2="379.70" stroke="#111" stroke-width="1"/>
<line x1="177.75" y1="378.10" x2="177.75" y2="379.70" stroke="#111" stroke-width="1"/>
<line x1="181.19" y1="378.10" x2="181.19" y2="379.70" stroke="#111" stroke-width="1"/>
<line x1="184.64" y1="378.10" x2="184.64" y2="379.70" stroke="#111" stroke-width="1"/>
<line x1="188.08" y1="378.10" x2="188.08" y2="381.10" stroke="#111" stroke-width="1"/>
<text x="188.08" y="389.70" font-size="6.1" fill="#111" stroke="#111" stroke-width="0.12" text-anchor="middle">6.5</text>
<line x1="191.52" y1="378.10" x2="191.52" y2="379.70" stroke="#111" stroke-width="1"/>
<line x1="194.97" y1="378.10" x2="194.97" y2="379.70" stroke="#111" stroke-width="1"/>
<line x1="198.41" y1="378.10" x2="198.41" y2="379.70" stroke="#111" stroke-width="1"/>
<line x1="201.86" y1="378.10" x2="201.86" y2="379.70" stroke="#111" stroke-width="1"/>
<line x1="205.30" y1="378.10" x2="205.30" y2="381.10" stroke="#111" stroke-width="1"/>
<text x="205.30" y="389.70" font-size="6.1" fill="#111" stroke="#111" stroke-width="0.12" text-anchor="middle">6.0</text>
<line x1="208.74" y1="378.10" x2="208.74" y2="379.70" stroke="#111" stroke-width="1"/>
<line x1="212.19" y1="378.10" x2="212.19" y2="379.70" stroke="#111" stroke-width="1"/>
<line x1="215.63" y1="378.10" x2="215.63" y2="379.70" stroke="#111" stroke-width="1"/>
<rect x="19.8" y="228.6" width="199.10" height="149.50" fill="none" stroke="#111" stroke-width="1.3"/>
<text x="119.40" y="402.00" font-size="8.5" fill="#111" stroke="#111" stroke-width="0.15" text-anchor="middle"><tspan font-size="5.6" dy="-3.1">1</tspan><tspan dy="3.1">H ppm</tspan></text>
<text transform="translate(246.70,302.80) rotate(-90)" x="0" y="2.7" font-size="8.5" fill="#111" stroke="#111" stroke-width="0.15" text-anchor="middle"><tspan font-size="5.6" dy="-3.1">15</tspan><tspan dy="3.1">N ppm</tspan></text>
<text x="6.8" y="222.8" font-size="10.5" fill="#111" stroke="#111" stroke-width="0.12">C</text>
<ellipse cx="84.5" cy="253.1" rx="1.50" ry="1.25" fill="#e8392a"/>
<ellipse cx="115.1" cy="256.9" rx="1.50" ry="1.25" fill="#e8392a"/>
<ellipse cx="117.7" cy="265.6" rx="1.50" ry="1.25" fill="#e8392a"/>
<ellipse cx="92.1" cy="268.1" rx="1.50" ry="1.25" fill="#e8392a"/>
<ellipse cx="105.6" cy="269.4" rx="1.50" ry="1.25" fill="#e8392a"/>
<ellipse cx="67.5" cy="273.1" rx="1.50" ry="1.25" fill="#e8392a"/>
<ellipse cx="94.6" cy="279.1" rx="1.50" ry="1.25" fill="#e8392a"/>
<ellipse cx="165.7" cy="235.6" rx="1.50" ry="1.25" fill="#e8392a"/>
<ellipse cx="115.6" cy="256.9" rx="1.50" ry="1.25" fill="#e8392a"/>
<ellipse cx="169.2" cy="255.5" rx="1.50" ry="1.25" fill="#e8392a"/>
<ellipse cx="129.4" cy="258.9" rx="1.50" ry="1.25" fill="#e8392a"/>
<ellipse cx="135.2" cy="260.4" rx="1.50" ry="1.25" fill="#e8392a"/>
<ellipse cx="138.6" cy="262.5" rx="1.50" ry="1.25" fill="#e8392a"/>
<ellipse cx="122.5" cy="262.3" rx="1.50" ry="1.25" fill="#e8392a"/>
<ellipse cx="130.0" cy="263.3" rx="1.50" ry="1.25" fill="#e8392a"/>
<ellipse cx="118.5" cy="265.6" rx="1.50" ry="1.25" fill="#e8392a"/>
<ellipse cx="128.3" cy="266.4" rx="1.50" ry="1.25" fill="#e8392a"/>
<ellipse cx="123.1" cy="272.5" rx="1.50" ry="1.25" fill="#e8392a"/>
<ellipse cx="147.3" cy="267.1" rx="1.50" ry="1.25" fill="#e8392a"/>
<ellipse cx="152.1" cy="265.2" rx="1.50" ry="1.25" fill="#e8392a"/>
<ellipse cx="149.0" cy="274.8" rx="1.50" ry="1.25" fill="#e8392a"/>
<ellipse cx="154.2" cy="275.4" rx="1.50" ry="1.25" fill="#e8392a"/>
<ellipse cx="162.9" cy="276.8" rx="1.08" ry="1.06" fill="#e8392a"/>
<ellipse cx="149.4" cy="279.8" rx="1.50" ry="1.25" fill="#e8392a"/>
<ellipse cx="166.0" cy="235.6" rx="1.50" ry="1.25" fill="#e8392a"/>
<ellipse cx="178.7" cy="242.2" rx="1.50" ry="1.25" fill="#e8392a"/>
<ellipse cx="169.4" cy="255.2" rx="1.50" ry="1.25" fill="#e8392a"/>
<ellipse cx="182.1" cy="265.1" rx="1.50" ry="1.25" fill="#e8392a"/>
<ellipse cx="174.5" cy="274.8" rx="1.08" ry="1.06" fill="#e8392a"/>
<ellipse cx="182.7" cy="274.2" rx="1.08" ry="1.06" fill="#e8392a"/>
<ellipse cx="187.2" cy="276.7" rx="1.08" ry="1.06" fill="#e8392a"/>
<ellipse cx="178.5" cy="279.0" rx="1.08" ry="1.06" fill="#e8392a"/>
<ellipse cx="94.8" cy="279.6" rx="1.50" ry="1.25" fill="#e8392a"/>
<ellipse cx="98.0" cy="290.9" rx="1.50" ry="1.25" fill="#e8392a"/>
<ellipse cx="101.3" cy="289.0" rx="1.50" ry="1.25" fill="#e8392a"/>
<ellipse cx="106.2" cy="294.7" rx="1.50" ry="1.25" fill="#e8392a"/>
<ellipse cx="107.1" cy="295.7" rx="1.50" ry="1.25" fill="#e8392a"/>
<ellipse cx="109.5" cy="300.5" rx="1.50" ry="1.25" fill="#e8392a"/>
<ellipse cx="80.7" cy="301.0" rx="1.50" ry="1.25" fill="#e8392a"/>
<ellipse cx="83.1" cy="304.3" rx="1.50" ry="1.25" fill="#e8392a"/>
<ellipse cx="97.0" cy="301.4" rx="1.50" ry="1.25" fill="#e8392a"/>
<ellipse cx="96.1" cy="303.8" rx="1.50" ry="1.25" fill="#e8392a"/>
<ellipse cx="113.7" cy="283.2" rx="1.50" ry="1.25" fill="#e8392a"/>
<ellipse cx="111.3" cy="284.1" rx="1.50" ry="1.25" fill="#e8392a"/>
<ellipse cx="119.9" cy="283.2" rx="1.50" ry="1.25" fill="#e8392a"/>
<ellipse cx="128.1" cy="285.1" rx="1.50" ry="1.25" fill="#e8392a"/>
<ellipse cx="138.2" cy="282.2" rx="1.50" ry="1.25" fill="#e8392a"/>
<ellipse cx="138.2" cy="285.1" rx="1.50" ry="1.25" fill="#e8392a"/>
<ellipse cx="143.9" cy="284.4" rx="1.50" ry="1.25" fill="#e8392a"/>
<ellipse cx="147.3" cy="279.3" rx="1.50" ry="1.25" fill="#e8392a"/>
<ellipse cx="150.2" cy="280.8" rx="1.50" ry="1.25" fill="#e8392a"/>
<ellipse cx="150.2" cy="285.1" rx="1.50" ry="1.25" fill="#e8392a"/>
<ellipse cx="151.6" cy="288.5" rx="1.50" ry="1.25" fill="#e8392a"/>
<ellipse cx="123.3" cy="288.5" rx="1.50" ry="1.25" fill="#e8392a"/>
<ellipse cx="139.4" cy="290.9" rx="1.50" ry="1.25" fill="#e8392a"/>
<ellipse cx="117.5" cy="292.8" rx="1.50" ry="1.25" fill="#e8392a"/>
<ellipse cx="125.2" cy="293.8" rx="1.50" ry="1.25" fill="#e8392a"/>
<ellipse cx="130.5" cy="294.7" rx="1.50" ry="1.25" fill="#e8392a"/>
<ellipse cx="144.4" cy="292.8" rx="1.50" ry="1.25" fill="#e8392a"/>
<ellipse cx="106.0" cy="294.2" rx="1.50" ry="1.25" fill="#e8392a"/>
<ellipse cx="106.4" cy="296.2" rx="1.50" ry="1.25" fill="#e8392a"/>
<ellipse cx="119.4" cy="295.2" rx="1.50" ry="1.25" fill="#e8392a"/>
<ellipse cx="118.5" cy="298.6" rx="1.50" ry="1.25" fill="#e8392a"/>
<ellipse cx="122.8" cy="298.1" rx="1.50" ry="1.25" fill="#e8392a"/>
<ellipse cx="132.4" cy="298.1" rx="1.50" ry="1.25" fill="#e8392a"/>
<ellipse cx="149.7" cy="295.7" rx="1.50" ry="1.25" fill="#e8392a"/>
<ellipse cx="146.3" cy="298.6" rx="1.50" ry="1.25" fill="#e8392a"/>
<ellipse cx="128.6" cy="301.0" rx="1.50" ry="1.25" fill="#e8392a"/>
<ellipse cx="109.3" cy="300.5" rx="1.50" ry="1.25" fill="#e8392a"/>
<ellipse cx="138.7" cy="301.4" rx="1.50" ry="1.25" fill="#e8392a"/>
<ellipse cx="141.1" cy="302.9" rx="1.50" ry="1.25" fill="#e8392a"/>
<ellipse cx="143.5" cy="302.9" rx="1.50" ry="1.25" fill="#e8392a"/>
<ellipse cx="152.1" cy="304.3" rx="1.50" ry="1.25" fill="#e8392a"/>
<ellipse cx="120.4" cy="303.8" rx="1.50" ry="1.25" fill="#e8392a"/>
<ellipse cx="124.2" cy="306.7" rx="1.50" ry="1.25" fill="#e8392a"/>
<ellipse cx="121.8" cy="307.7" rx="1.50" ry="1.25" fill="#e8392a"/>
<ellipse cx="129.5" cy="308.2" rx="1.50" ry="1.25" fill="#e8392a"/>
<ellipse cx="139.6" cy="307.7" rx="1.50" ry="1.25" fill="#e8392a"/>
<ellipse cx="147.8" cy="307.2" rx="1.50" ry="1.25" fill="#e8392a"/>
<ellipse cx="163.0" cy="276.7" rx="1.08" ry="1.06" fill="#e8392a"/>
<ellipse cx="154.8" cy="276.0" rx="1.50" ry="1.25" fill="#e8392a"/>
<ellipse cx="175.5" cy="276.0" rx="1.08" ry="1.06" fill="#e8392a"/>
<ellipse cx="186.5" cy="276.7" rx="1.08" ry="1.06" fill="#e8392a"/>
<ellipse cx="175.0" cy="280.8" rx="1.08" ry="1.06" fill="#e8392a"/>
<ellipse cx="176.0" cy="278.5" rx="1.08" ry="1.06" fill="#e8392a"/>
<ellipse cx="182.2" cy="279.8" rx="1.08" ry="1.06" fill="#e8392a"/>
<ellipse cx="171.2" cy="285.1" rx="1.08" ry="1.06" fill="#e8392a"/>
<ellipse cx="170.8" cy="286.2" rx="1.08" ry="1.06" fill="#e8392a"/>
<ellipse cx="175.0" cy="287.0" rx="1.08" ry="1.06" fill="#e8392a"/>
<ellipse cx="181.3" cy="285.6" rx="1.08" ry="1.06" fill="#e8392a"/>
<ellipse cx="167.3" cy="286.7" rx="1.08" ry="1.06" fill="#e8392a"/>
<ellipse cx="190.4" cy="287.5" rx="1.08" ry="1.06" fill="#e8392a"/>
<ellipse cx="171.6" cy="289.4" rx="1.08" ry="1.06" fill="#e8392a"/>
<ellipse cx="158.7" cy="292.8" rx="1.50" ry="1.25" fill="#e8392a"/>
<ellipse cx="174.5" cy="293.3" rx="1.08" ry="1.06" fill="#e8392a"/>
<ellipse cx="178.4" cy="300.2" rx="1.50" ry="1.25" fill="#e8392a"/>
<ellipse cx="159.1" cy="300.2" rx="1.50" ry="1.25" fill="#e8392a"/>
<ellipse cx="151.0" cy="295.2" rx="1.50" ry="1.25" fill="#e8392a"/>
<ellipse cx="157.2" cy="302.9" rx="1.50" ry="1.25" fill="#e8392a"/>
<ellipse cx="199.0" cy="293.8" rx="0.58" ry="0.57" fill="#e8392a"/>
<ellipse cx="150.0" cy="286.5" rx="1.50" ry="1.25" fill="#e8392a"/>
<ellipse cx="151.0" cy="287.5" rx="1.50" ry="1.25" fill="#e8392a"/>
<ellipse cx="68.7" cy="314.6" rx="1.50" ry="1.25" fill="#e8392a"/>
<ellipse cx="84.0" cy="314.6" rx="1.50" ry="1.25" fill="#e8392a"/>
<ellipse cx="87.7" cy="313.5" rx="1.50" ry="1.25" fill="#e8392a"/>
<ellipse cx="93.7" cy="311.5" rx="1.50" ry="1.25" fill="#e8392a"/>
<ellipse cx="99.9" cy="310.6" rx="1.50" ry="1.25" fill="#e8392a"/>
<ellipse cx="101.3" cy="317.0" rx="1.50" ry="1.25" fill="#e8392a"/>
<ellipse cx="82.6" cy="321.8" rx="1.50" ry="1.25" fill="#e8392a"/>
<ellipse cx="105.2" cy="321.3" rx="1.50" ry="1.25" fill="#e8392a"/>
<ellipse cx="106.2" cy="323.3" rx="1.50" ry="1.25" fill="#e8392a"/>
<ellipse cx="93.2" cy="322.3" rx="1.50" ry="1.25" fill="#e8392a"/>
<ellipse cx="90.3" cy="324.2" rx="1.50" ry="1.25" fill="#e8392a"/>
<ellipse cx="89.3" cy="325.7" rx="1.50" ry="1.25" fill="#e8392a"/>
<ellipse cx="106.2" cy="328.1" rx="1.50" ry="1.25" fill="#e8392a"/>
<ellipse cx="83.6" cy="331.2" rx="1.50" ry="1.25" fill="#e8392a"/>
<ellipse cx="76.2" cy="329.5" rx="1.50" ry="1.25" fill="#e8392a"/>
<ellipse cx="92.2" cy="334.8" rx="1.50" ry="1.25" fill="#e8392a"/>
<ellipse cx="96.5" cy="334.8" rx="1.50" ry="1.25" fill="#e8392a"/>
<ellipse cx="103.8" cy="337.5" rx="1.50" ry="1.25" fill="#e8392a"/>
<ellipse cx="107.1" cy="330.0" rx="1.50" ry="1.25" fill="#e8392a"/>
<ellipse cx="87.4" cy="338.7" rx="1.50" ry="1.25" fill="#e8392a"/>
<ellipse cx="121.8" cy="307.4" rx="1.50" ry="1.25" fill="#e8392a"/>
<ellipse cx="129.0" cy="308.4" rx="1.50" ry="1.25" fill="#e8392a"/>
<ellipse cx="136.3" cy="308.8" rx="1.50" ry="1.25" fill="#e8392a"/>
<ellipse cx="143.0" cy="306.4" rx="1.50" ry="1.25" fill="#e8392a"/>
<ellipse cx="148.8" cy="308.4" rx="1.50" ry="1.25" fill="#e8392a"/>
<ellipse cx="153.1" cy="305.0" rx="1.50" ry="1.25" fill="#e8392a"/>
<ellipse cx="117.0" cy="310.8" rx="1.50" ry="1.25" fill="#e8392a"/>
<ellipse cx="136.7" cy="311.7" rx="1.50" ry="1.25" fill="#e8392a"/>
<ellipse cx="140.6" cy="311.3" rx="1.50" ry="1.25" fill="#e8392a"/>
<ellipse cx="114.1" cy="315.6" rx="1.50" ry="1.25" fill="#e8392a"/>
<ellipse cx="119.9" cy="315.6" rx="1.50" ry="1.25" fill="#e8392a"/>
<ellipse cx="123.8" cy="313.7" rx="1.50" ry="1.25" fill="#e8392a"/>
<ellipse cx="125.7" cy="316.5" rx="1.50" ry="1.25" fill="#e8392a"/>
<ellipse cx="132.9" cy="314.6" rx="1.50" ry="1.25" fill="#e8392a"/>
<ellipse cx="136.7" cy="315.6" rx="1.50" ry="1.25" fill="#e8392a"/>
<ellipse cx="142.5" cy="315.6" rx="1.50" ry="1.25" fill="#e8392a"/>
<ellipse cx="154.5" cy="315.6" rx="1.50" ry="1.25" fill="#e8392a"/>
<ellipse cx="106.0" cy="320.9" rx="1.50" ry="1.25" fill="#e8392a"/>
<ellipse cx="110.3" cy="321.8" rx="1.50" ry="1.25" fill="#e8392a"/>
<ellipse cx="113.7" cy="318.5" rx="1.50" ry="1.25" fill="#e8392a"/>
<ellipse cx="117.5" cy="318.5" rx="1.50" ry="1.25" fill="#e8392a"/>
<ellipse cx="121.3" cy="320.9" rx="1.50" ry="1.25" fill="#e8392a"/>
<ellipse cx="129.0" cy="321.3" rx="1.50" ry="1.25" fill="#e8392a"/>
<ellipse cx="135.8" cy="318.5" rx="1.50" ry="1.25" fill="#e8392a"/>
<ellipse cx="137.2" cy="320.4" rx="1.50" ry="1.25" fill="#e8392a"/>
<ellipse cx="132.8" cy="321.8" rx="1.50" ry="1.25" fill="#e8392a"/>
<ellipse cx="106.4" cy="323.3" rx="1.50" ry="1.25" fill="#e8392a"/>
<ellipse cx="112.2" cy="325.2" rx="1.50" ry="1.25" fill="#e8392a"/>
<ellipse cx="118.5" cy="323.3" rx="1.50" ry="1.25" fill="#e8392a"/>
<ellipse cx="127.6" cy="325.2" rx="1.50" ry="1.25" fill="#e8392a"/>
<ellipse cx="138.7" cy="325.2" rx="1.50" ry="1.25" fill="#e8392a"/>
<ellipse cx="140.6" cy="324.2" rx="1.50" ry="1.25" fill="#e8392a"/>
<ellipse cx="109.8" cy="329.5" rx="1.50" ry="1.25" fill="#e8392a"/>
<ellipse cx="124.2" cy="328.1" rx="1.50" ry="1.25" fill="#e8392a"/>
<ellipse cx="150.7" cy="330.0" rx="1.50" ry="1.25" fill="#e8392a"/>
<ellipse cx="111.7" cy="331.9" rx="1.50" ry="1.25" fill="#e8392a"/>
<ellipse cx="113.7" cy="334.3" rx="1.50" ry="1.25" fill="#e8392a"/>
<ellipse cx="125.7" cy="332.4" rx="1.50" ry="1.25" fill="#e8392a"/>
<ellipse cx="128.1" cy="332.9" rx="1.50" ry="1.25" fill="#e8392a"/>
<ellipse cx="130.5" cy="332.9" rx="1.50" ry="1.25" fill="#e8392a"/>
<ellipse cx="132.9" cy="334.8" rx="1.50" ry="1.25" fill="#e8392a"/>
<ellipse cx="153.8" cy="305.5" rx="1.50" ry="1.25" fill="#e8392a"/>
<ellipse cx="150.5" cy="308.4" rx="1.50" ry="1.25" fill="#e8392a"/>
<ellipse cx="154.8" cy="315.6" rx="1.50" ry="1.25" fill="#e8392a"/>
<ellipse cx="161.5" cy="320.4" rx="1.50" ry="1.25" fill="#e8392a"/>
<ellipse cx="172.6" cy="323.3" rx="1.50" ry="1.25" fill="#e8392a"/>
<ellipse cx="176.4" cy="322.1" rx="1.50" ry="1.25" fill="#e8392a"/>
<ellipse cx="189.4" cy="325.0" rx="0.80" ry="0.67" fill="#e8392a"/>
<ellipse cx="150.5" cy="329.8" rx="1.50" ry="1.25" fill="#e8392a"/>
<ellipse cx="87.3" cy="338.7" rx="1.50" ry="1.25" fill="#e8392a"/>
<ellipse cx="90.7" cy="344.3" rx="1.50" ry="1.25" fill="#e8392a"/>
<ellipse cx="97.0" cy="344.7" rx="1.50" ry="1.25" fill="#e8392a"/>
<ellipse cx="92.3" cy="336.1" rx="1.50" ry="1.25" fill="#e8392a"/>
<ellipse cx="103.4" cy="341.9" rx="1.50" ry="1.25" fill="#e8392a"/>
<ellipse cx="90.7" cy="348.5" rx="1.50" ry="1.25" fill="#e8392a"/>
<ellipse cx="90.2" cy="350.9" rx="1.50" ry="1.25" fill="#e8392a"/>
<ellipse cx="101.3" cy="350.9" rx="1.50" ry="1.25" fill="#e8392a"/>
<ellipse cx="99.7" cy="358.5" rx="1.50" ry="1.25" fill="#e8392a"/>
<ellipse cx="87.0" cy="360.1" rx="1.50" ry="1.25" fill="#e8392a"/>
<ellipse cx="71.1" cy="358.1" rx="1.50" ry="1.25" fill="#e8392a"/>
<ellipse cx="65.3" cy="348.2" rx="0.70" ry="0.58" fill="#e8392a"/>
<ellipse cx="111.9" cy="344.5" rx="1.50" ry="1.25" fill="#e8392a"/>
<ellipse cx="112.9" cy="346.5" rx="1.50" ry="1.25" fill="#e8392a"/>
<ellipse cx="132.8" cy="335.0" rx="1.50" ry="1.25" fill="#e8392a"/>
<ellipse cx="111.1" cy="343.5" rx="1.50" ry="1.25" fill="#e8392a"/>
<ellipse cx="119.0" cy="342.9" rx="1.50" ry="1.25" fill="#e8392a"/>
<ellipse cx="111.6" cy="345.6" rx="1.50" ry="1.25" fill="#e8392a"/>
<ellipse cx="115.8" cy="345.6" rx="1.50" ry="1.25" fill="#e8392a"/>
<ellipse cx="121.6" cy="345.1" rx="1.50" ry="1.25" fill="#e8392a"/>
<ellipse cx="115.8" cy="350.9" rx="1.50" ry="1.25" fill="#e8392a"/>
<ellipse cx="114.3" cy="354.8" rx="1.50" ry="1.25" fill="#e8392a"/>
<ellipse cx="137.0" cy="353.5" rx="1.50" ry="1.25" fill="#e8392a"/>
<ellipse cx="149.7" cy="348.2" rx="1.50" ry="1.25" fill="#e8392a"/>
<ellipse cx="32.3" cy="371.2" rx="1.50" ry="1.25" fill="#e8392a"/>
<ellipse cx="45.6" cy="342.1" rx="0.70" ry="0.58" fill="#e8392a"/>
<ellipse cx="65.2" cy="348.4" rx="0.70" ry="0.58" fill="#e8392a"/>
<ellipse cx="35.2" cy="300.0" rx="0.70" ry="0.58" fill="#e8392a"/>
<ellipse cx="47.2" cy="269.6" rx="0.70" ry="0.58" fill="#e8392a"/>
<ellipse cx="59.3" cy="284.2" rx="0.70" ry="0.58" fill="#e8392a"/>
<ellipse cx="82.5" cy="252.3" rx="1.30" ry="1.05" fill="#1f6f6b"/>
<ellipse cx="118.8" cy="265.6" rx="1.30" ry="1.05" fill="#1f6f6b"/>
<ellipse cx="81.9" cy="270.8" rx="1.30" ry="1.05" fill="#1f6f6b"/>
<ellipse cx="105.6" cy="269.0" rx="1.30" ry="1.05" fill="#1f6f6b"/>
<ellipse cx="77.3" cy="276.0" rx="1.30" ry="1.05" fill="#1f6f6b"/>
<ellipse cx="165.7" cy="256.0" rx="1.30" ry="1.05" fill="#1f6f6b"/>
<ellipse cx="171.5" cy="254.8" rx="1.30" ry="1.05" fill="#1f6f6b"/>
<ellipse cx="124.2" cy="258.9" rx="1.30" ry="1.05" fill="#1f6f6b"/>
<ellipse cx="128.8" cy="260.4" rx="1.30" ry="1.05" fill="#1f6f6b"/>
<ellipse cx="131.7" cy="260.6" rx="1.30" ry="1.05" fill="#1f6f6b"/>
<ellipse cx="123.1" cy="262.7" rx="1.30" ry="1.05" fill="#1f6f6b"/>
<ellipse cx="127.7" cy="263.6" rx="1.30" ry="1.05" fill="#1f6f6b"/>
<ellipse cx="133.5" cy="264.1" rx="1.30" ry="1.05" fill="#1f6f6b"/>
<ellipse cx="119.0" cy="265.6" rx="1.30" ry="1.05" fill="#1f6f6b"/>
<ellipse cx="125.4" cy="266.1" rx="1.30" ry="1.05" fill="#1f6f6b"/>
<ellipse cx="128.3" cy="266.8" rx="1.30" ry="1.05" fill="#1f6f6b"/>
<ellipse cx="123.5" cy="272.5" rx="1.30" ry="1.05" fill="#1f6f6b"/>
<ellipse cx="146.1" cy="266.7" rx="1.30" ry="1.05" fill="#1f6f6b"/>
<ellipse cx="153.1" cy="262.9" rx="1.30" ry="1.05" fill="#1f6f6b"/>
<ellipse cx="147.9" cy="271.3" rx="1.30" ry="1.05" fill="#1f6f6b"/>
<ellipse cx="148.4" cy="279.4" rx="1.30" ry="1.05" fill="#1f6f6b"/>
<ellipse cx="166.9" cy="233.7" rx="1.30" ry="1.05" fill="#1f6f6b"/>
<ellipse cx="211.2" cy="247.4" rx="1.30" ry="1.05" fill="#1f6f6b"/>
<ellipse cx="165.6" cy="255.8" rx="1.30" ry="1.05" fill="#1f6f6b"/>
<ellipse cx="172.0" cy="255.0" rx="1.30" ry="1.05" fill="#1f6f6b"/>
<ellipse cx="196.0" cy="263.2" rx="1.30" ry="1.05" fill="#1f6f6b"/>
<ellipse cx="189.7" cy="270.8" rx="0.94" ry="0.89" fill="#1f6f6b"/>
<ellipse cx="176.4" cy="275.5" rx="0.94" ry="0.89" fill="#1f6f6b"/>
<ellipse cx="180.8" cy="273.6" rx="0.94" ry="0.89" fill="#1f6f6b"/>
<ellipse cx="175.1" cy="278.6" rx="0.94" ry="0.89" fill="#1f6f6b"/>
<ellipse cx="77.3" cy="276.2" rx="1.30" ry="1.05" fill="#1f6f6b"/>
<ellipse cx="72.0" cy="282.5" rx="1.30" ry="1.05" fill="#1f6f6b"/>
<ellipse cx="89.3" cy="283.2" rx="1.30" ry="1.05" fill="#1f6f6b"/>
<ellipse cx="96.0" cy="291.3" rx="1.30" ry="1.05" fill="#1f6f6b"/>
<ellipse cx="103.8" cy="289.2" rx="1.30" ry="1.05" fill="#1f6f6b"/>
<ellipse cx="103.3" cy="294.7" rx="1.30" ry="1.05" fill="#1f6f6b"/>
<ellipse cx="109.0" cy="291.8" rx="1.30" ry="1.05" fill="#1f6f6b"/>
<ellipse cx="103.3" cy="298.6" rx="1.30" ry="1.05" fill="#1f6f6b"/>
<ellipse cx="107.1" cy="299.0" rx="1.30" ry="1.05" fill="#1f6f6b"/>
<ellipse cx="81.6" cy="303.4" rx="1.30" ry="1.05" fill="#1f6f6b"/>
<ellipse cx="82.6" cy="306.3" rx="1.30" ry="1.05" fill="#1f6f6b"/>
<ellipse cx="97.5" cy="302.4" rx="1.30" ry="1.05" fill="#1f6f6b"/>
<ellipse cx="98.5" cy="304.3" rx="1.30" ry="1.05" fill="#1f6f6b"/>
<ellipse cx="114.1" cy="282.5" rx="1.30" ry="1.05" fill="#1f6f6b"/>
<ellipse cx="111.7" cy="286.7" rx="1.30" ry="1.05" fill="#1f6f6b"/>
<ellipse cx="121.8" cy="284.6" rx="1.30" ry="1.05" fill="#1f6f6b"/>
<ellipse cx="125.2" cy="283.8" rx="1.30" ry="1.05" fill="#1f6f6b"/>
<ellipse cx="129.5" cy="285.6" rx="1.30" ry="1.05" fill="#1f6f6b"/>
<ellipse cx="133.4" cy="284.6" rx="1.30" ry="1.05" fill="#1f6f6b"/>
<ellipse cx="138.5" cy="283.5" rx="1.30" ry="1.05" fill="#1f6f6b"/>
<ellipse cx="149.7" cy="279.3" rx="1.30" ry="1.05" fill="#1f6f6b"/>
<ellipse cx="153.1" cy="279.8" rx="1.30" ry="1.05" fill="#1f6f6b"/>
<ellipse cx="152.1" cy="287.0" rx="1.30" ry="1.05" fill="#1f6f6b"/>
<ellipse cx="138.2" cy="289.0" rx="1.30" ry="1.05" fill="#1f6f6b"/>
<ellipse cx="135.8" cy="290.9" rx="1.30" ry="1.05" fill="#1f6f6b"/>
<ellipse cx="109.8" cy="291.8" rx="1.30" ry="1.05" fill="#1f6f6b"/>
<ellipse cx="110.3" cy="293.8" rx="1.30" ry="1.05" fill="#1f6f6b"/>
<ellipse cx="124.7" cy="295.2" rx="1.30" ry="1.05" fill="#1f6f6b"/>
<ellipse cx="128.1" cy="294.2" rx="1.30" ry="1.05" fill="#1f6f6b"/>
<ellipse cx="131.9" cy="292.8" rx="1.30" ry="1.05" fill="#1f6f6b"/>
<ellipse cx="143.9" cy="292.3" rx="1.30" ry="1.05" fill="#1f6f6b"/>
<ellipse cx="114.6" cy="296.0" rx="1.30" ry="1.05" fill="#1f6f6b"/>
<ellipse cx="119.9" cy="297.6" rx="1.30" ry="1.05" fill="#1f6f6b"/>
<ellipse cx="125.2" cy="298.1" rx="1.30" ry="1.05" fill="#1f6f6b"/>
<ellipse cx="126.2" cy="300.0" rx="1.30" ry="1.05" fill="#1f6f6b"/>
<ellipse cx="136.7" cy="297.6" rx="1.30" ry="1.05" fill="#1f6f6b"/>
<ellipse cx="141.1" cy="295.2" rx="1.30" ry="1.05" fill="#1f6f6b"/>
<ellipse cx="144.9" cy="296.6" rx="1.30" ry="1.05" fill="#1f6f6b"/>
<ellipse cx="145.4" cy="300.5" rx="1.30" ry="1.05" fill="#1f6f6b"/>
<ellipse cx="107.4" cy="299.0" rx="1.30" ry="1.05" fill="#1f6f6b"/>
<ellipse cx="136.7" cy="301.0" rx="1.30" ry="1.05" fill="#1f6f6b"/>
<ellipse cx="143.5" cy="301.4" rx="1.30" ry="1.05" fill="#1f6f6b"/>
<ellipse cx="151.6" cy="303.4" rx="1.30" ry="1.05" fill="#1f6f6b"/>
<ellipse cx="153.1" cy="304.8" rx="1.30" ry="1.05" fill="#1f6f6b"/>
<ellipse cx="125.7" cy="306.7" rx="1.30" ry="1.05" fill="#1f6f6b"/>
<ellipse cx="127.6" cy="308.2" rx="1.30" ry="1.05" fill="#1f6f6b"/>
<ellipse cx="118.9" cy="307.7" rx="1.30" ry="1.05" fill="#1f6f6b"/>
<ellipse cx="137.7" cy="308.2" rx="1.30" ry="1.05" fill="#1f6f6b"/>
<ellipse cx="144.9" cy="306.3" rx="1.30" ry="1.05" fill="#1f6f6b"/>
<ellipse cx="150.2" cy="302.9" rx="1.30" ry="1.05" fill="#1f6f6b"/>
<ellipse cx="154.3" cy="276.5" rx="1.30" ry="1.05" fill="#1f6f6b"/>
<ellipse cx="177.4" cy="276.4" rx="0.94" ry="0.89" fill="#1f6f6b"/>
<ellipse cx="183.7" cy="276.4" rx="0.94" ry="0.89" fill="#1f6f6b"/>
<ellipse cx="175.5" cy="279.3" rx="0.94" ry="0.89" fill="#1f6f6b"/>
<ellipse cx="179.3" cy="281.7" rx="0.94" ry="0.89" fill="#1f6f6b"/>
<ellipse cx="172.1" cy="282.5" rx="0.94" ry="0.89" fill="#1f6f6b"/>
<ellipse cx="175.5" cy="285.1" rx="0.94" ry="0.89" fill="#1f6f6b"/>
<ellipse cx="178.8" cy="285.6" rx="0.94" ry="0.89" fill="#1f6f6b"/>
<ellipse cx="165.4" cy="287.5" rx="0.94" ry="0.89" fill="#1f6f6b"/>
<ellipse cx="153.4" cy="291.3" rx="1.30" ry="1.05" fill="#1f6f6b"/>
<ellipse cx="156.9" cy="290.6" rx="1.30" ry="1.05" fill="#1f6f6b"/>
<ellipse cx="174.0" cy="296.6" rx="0.94" ry="0.89" fill="#1f6f6b"/>
<ellipse cx="151.9" cy="303.8" rx="1.30" ry="1.05" fill="#1f6f6b"/>
<ellipse cx="152.9" cy="304.8" rx="1.30" ry="1.05" fill="#1f6f6b"/>
<ellipse cx="157.2" cy="304.8" rx="1.30" ry="1.05" fill="#1f6f6b"/>
<ellipse cx="69.2" cy="315.5" rx="1.30" ry="1.05" fill="#1f6f6b"/>
<ellipse cx="83.1" cy="306.0" rx="1.30" ry="1.05" fill="#1f6f6b"/>
<ellipse cx="83.1" cy="311.9" rx="1.30" ry="1.05" fill="#1f6f6b"/>
<ellipse cx="84.5" cy="314.1" rx="1.30" ry="1.05" fill="#1f6f6b"/>
<ellipse cx="89.3" cy="311.5" rx="1.30" ry="1.05" fill="#1f6f6b"/>
<ellipse cx="91.7" cy="312.7" rx="1.30" ry="1.05" fill="#1f6f6b"/>
<ellipse cx="98.0" cy="310.8" rx="1.30" ry="1.05" fill="#1f6f6b"/>
<ellipse cx="102.8" cy="317.5" rx="1.30" ry="1.05" fill="#1f6f6b"/>
<ellipse cx="100.4" cy="316.5" rx="1.30" ry="1.05" fill="#1f6f6b"/>
<ellipse cx="82.6" cy="320.6" rx="1.30" ry="1.05" fill="#1f6f6b"/>
<ellipse cx="99.9" cy="320.6" rx="1.30" ry="1.05" fill="#1f6f6b"/>
<ellipse cx="108.6" cy="320.4" rx="1.30" ry="1.05" fill="#1f6f6b"/>
<ellipse cx="109.0" cy="324.2" rx="1.30" ry="1.05" fill="#1f6f6b"/>
<ellipse cx="91.7" cy="323.3" rx="1.30" ry="1.05" fill="#1f6f6b"/>
<ellipse cx="89.8" cy="326.6" rx="1.30" ry="1.05" fill="#1f6f6b"/>
<ellipse cx="90.8" cy="328.1" rx="1.30" ry="1.05" fill="#1f6f6b"/>
<ellipse cx="101.8" cy="325.7" rx="1.30" ry="1.05" fill="#1f6f6b"/>
<ellipse cx="105.2" cy="326.6" rx="1.30" ry="1.05" fill="#1f6f6b"/>
<ellipse cx="105.2" cy="329.5" rx="1.30" ry="1.05" fill="#1f6f6b"/>
<ellipse cx="93.2" cy="330.2" rx="1.30" ry="1.05" fill="#1f6f6b"/>
<ellipse cx="92.7" cy="336.3" rx="1.30" ry="1.05" fill="#1f6f6b"/>
<ellipse cx="97.0" cy="335.8" rx="1.30" ry="1.05" fill="#1f6f6b"/>
<ellipse cx="102.3" cy="336.5" rx="1.30" ry="1.05" fill="#1f6f6b"/>
<ellipse cx="108.1" cy="331.4" rx="1.30" ry="1.05" fill="#1f6f6b"/>
<ellipse cx="118.5" cy="307.4" rx="1.30" ry="1.05" fill="#1f6f6b"/>
<ellipse cx="124.2" cy="306.4" rx="1.30" ry="1.05" fill="#1f6f6b"/>
<ellipse cx="127.1" cy="306.9" rx="1.30" ry="1.05" fill="#1f6f6b"/>
<ellipse cx="130.5" cy="308.8" rx="1.30" ry="1.05" fill="#1f6f6b"/>
<ellipse cx="134.8" cy="309.3" rx="1.30" ry="1.05" fill="#1f6f6b"/>
<ellipse cx="138.2" cy="307.4" rx="1.30" ry="1.05" fill="#1f6f6b"/>
<ellipse cx="141.5" cy="306.9" rx="1.30" ry="1.05" fill="#1f6f6b"/>
<ellipse cx="147.3" cy="306.0" rx="1.30" ry="1.05" fill="#1f6f6b"/>
<ellipse cx="150.2" cy="307.4" rx="1.30" ry="1.05" fill="#1f6f6b"/>
<ellipse cx="152.6" cy="305.5" rx="1.30" ry="1.05" fill="#1f6f6b"/>
<ellipse cx="111.7" cy="312.2" rx="1.30" ry="1.05" fill="#1f6f6b"/>
<ellipse cx="114.6" cy="312.2" rx="1.30" ry="1.05" fill="#1f6f6b"/>
<ellipse cx="138.7" cy="310.3" rx="1.30" ry="1.05" fill="#1f6f6b"/>
<ellipse cx="143.0" cy="310.8" rx="1.30" ry="1.05" fill="#1f6f6b"/>
<ellipse cx="111.7" cy="316.5" rx="1.30" ry="1.05" fill="#1f6f6b"/>
<ellipse cx="118.5" cy="314.6" rx="1.30" ry="1.05" fill="#1f6f6b"/>
<ellipse cx="122.3" cy="314.6" rx="1.30" ry="1.05" fill="#1f6f6b"/>
<ellipse cx="125.2" cy="313.7" rx="1.30" ry="1.05" fill="#1f6f6b"/>
<ellipse cx="127.1" cy="314.6" rx="1.30" ry="1.05" fill="#1f6f6b"/>
<ellipse cx="130.0" cy="315.6" rx="1.30" ry="1.05" fill="#1f6f6b"/>
<ellipse cx="134.8" cy="315.1" rx="1.30" ry="1.05" fill="#1f6f6b"/>
<ellipse cx="138.2" cy="314.6" rx="1.30" ry="1.05" fill="#1f6f6b"/>
<ellipse cx="139.1" cy="316.1" rx="1.30" ry="1.05" fill="#1f6f6b"/>
<ellipse cx="144.4" cy="314.1" rx="1.30" ry="1.05" fill="#1f6f6b"/>
<ellipse cx="145.4" cy="317.0" rx="1.30" ry="1.05" fill="#1f6f6b"/>
<ellipse cx="108.8" cy="320.4" rx="1.30" ry="1.05" fill="#1f6f6b"/>
<ellipse cx="112.2" cy="321.3" rx="1.30" ry="1.05" fill="#1f6f6b"/>
<ellipse cx="119.4" cy="321.3" rx="1.30" ry="1.05" fill="#1f6f6b"/>
<ellipse cx="126.2" cy="320.4" rx="1.30" ry="1.05" fill="#1f6f6b"/>
<ellipse cx="129.5" cy="322.8" rx="1.30" ry="1.05" fill="#1f6f6b"/>
<ellipse cx="133.8" cy="321.8" rx="1.30" ry="1.05" fill="#1f6f6b"/>
<ellipse cx="139.6" cy="321.8" rx="1.30" ry="1.05" fill="#1f6f6b"/>
<ellipse cx="154.0" cy="318.5" rx="1.30" ry="1.05" fill="#1f6f6b"/>
<ellipse cx="106.0" cy="325.7" rx="1.30" ry="1.05" fill="#1f6f6b"/>
<ellipse cx="109.3" cy="324.7" rx="1.30" ry="1.05" fill="#1f6f6b"/>
<ellipse cx="114.6" cy="325.2" rx="1.30" ry="1.05" fill="#1f6f6b"/>
<ellipse cx="119.9" cy="324.2" rx="1.30" ry="1.05" fill="#1f6f6b"/>
<ellipse cx="125.2" cy="326.6" rx="1.30" ry="1.05" fill="#1f6f6b"/>
<ellipse cx="131.0" cy="325.7" rx="1.30" ry="1.05" fill="#1f6f6b"/>
<ellipse cx="139.1" cy="323.8" rx="1.30" ry="1.05" fill="#1f6f6b"/>
<ellipse cx="143.9" cy="323.8" rx="1.30" ry="1.05" fill="#1f6f6b"/>
<ellipse cx="105.5" cy="328.1" rx="1.30" ry="1.05" fill="#1f6f6b"/>
<ellipse cx="114.6" cy="329.5" rx="1.30" ry="1.05" fill="#1f6f6b"/>
<ellipse cx="123.8" cy="329.5" rx="1.30" ry="1.05" fill="#1f6f6b"/>
<ellipse cx="125.2" cy="329.0" rx="1.30" ry="1.05" fill="#1f6f6b"/>
<ellipse cx="121.3" cy="331.0" rx="1.30" ry="1.05" fill="#1f6f6b"/>
<ellipse cx="135.8" cy="329.0" rx="1.30" ry="1.05" fill="#1f6f6b"/>
<ellipse cx="142.0" cy="330.5" rx="1.30" ry="1.05" fill="#1f6f6b"/>
<ellipse cx="152.1" cy="330.5" rx="1.30" ry="1.05" fill="#1f6f6b"/>
<ellipse cx="107.4" cy="331.9" rx="1.30" ry="1.05" fill="#1f6f6b"/>
<ellipse cx="112.2" cy="333.4" rx="1.30" ry="1.05" fill="#1f6f6b"/>
<ellipse cx="109.8" cy="333.8" rx="1.30" ry="1.05" fill="#1f6f6b"/>
<ellipse cx="131.4" cy="331.4" rx="1.30" ry="1.05" fill="#1f6f6b"/>
<ellipse cx="117.0" cy="333.4" rx="1.30" ry="1.05" fill="#1f6f6b"/>
<ellipse cx="117.5" cy="336.5" rx="1.30" ry="1.05" fill="#1f6f6b"/>
<ellipse cx="123.8" cy="335.8" rx="1.30" ry="1.05" fill="#1f6f6b"/>
<ellipse cx="113.7" cy="338.7" rx="1.30" ry="1.05" fill="#1f6f6b"/>
<ellipse cx="151.9" cy="305.5" rx="1.30" ry="1.05" fill="#1f6f6b"/>
<ellipse cx="157.2" cy="305.5" rx="1.30" ry="1.05" fill="#1f6f6b"/>
<ellipse cx="158.2" cy="317.0" rx="1.30" ry="1.05" fill="#1f6f6b"/>
<ellipse cx="153.8" cy="318.9" rx="1.30" ry="1.05" fill="#1f6f6b"/>
<ellipse cx="174.5" cy="322.8" rx="1.30" ry="1.05" fill="#1f6f6b"/>
<ellipse cx="151.9" cy="330.2" rx="1.30" ry="1.05" fill="#1f6f6b"/>
<ellipse cx="75.9" cy="345.6" rx="1.30" ry="1.05" fill="#1f6f6b"/>
<ellipse cx="78.8" cy="345.1" rx="1.30" ry="1.05" fill="#1f6f6b"/>
<ellipse cx="85.9" cy="346.6" rx="1.30" ry="1.05" fill="#1f6f6b"/>
<ellipse cx="99.7" cy="342.9" rx="1.30" ry="1.05" fill="#1f6f6b"/>
<ellipse cx="96.5" cy="335.5" rx="1.30" ry="1.05" fill="#1f6f6b"/>
<ellipse cx="102.9" cy="336.9" rx="1.30" ry="1.05" fill="#1f6f6b"/>
<ellipse cx="107.1" cy="340.8" rx="1.30" ry="1.05" fill="#1f6f6b"/>
<ellipse cx="90.7" cy="355.1" rx="1.30" ry="1.05" fill="#1f6f6b"/>
<ellipse cx="102.9" cy="349.8" rx="1.30" ry="1.05" fill="#1f6f6b"/>
<ellipse cx="107.1" cy="348.8" rx="1.30" ry="1.05" fill="#1f6f6b"/>
<ellipse cx="87.5" cy="359.6" rx="1.30" ry="1.05" fill="#1f6f6b"/>
<ellipse cx="109.7" cy="357.8" rx="0.70" ry="0.57" fill="#1f6f6b"/>
<ellipse cx="112.9" cy="339.2" rx="1.30" ry="1.05" fill="#1f6f6b"/>
<ellipse cx="117.4" cy="336.6" rx="1.30" ry="1.05" fill="#1f6f6b"/>
<ellipse cx="123.8" cy="335.5" rx="1.30" ry="1.05" fill="#1f6f6b"/>
<ellipse cx="113.7" cy="339.2" rx="1.30" ry="1.05" fill="#1f6f6b"/>
<ellipse cx="113.2" cy="342.9" rx="1.30" ry="1.05" fill="#1f6f6b"/>
<ellipse cx="117.9" cy="347.7" rx="1.30" ry="1.05" fill="#1f6f6b"/>
<ellipse cx="120.6" cy="345.6" rx="1.30" ry="1.05" fill="#1f6f6b"/>
<ellipse cx="113.7" cy="348.2" rx="1.30" ry="1.05" fill="#1f6f6b"/>
<ellipse cx="114.8" cy="354.0" rx="1.30" ry="1.05" fill="#1f6f6b"/>
<ellipse cx="135.4" cy="353.5" rx="1.30" ry="1.05" fill="#1f6f6b"/>
<ellipse cx="151.8" cy="344.0" rx="1.30" ry="1.05" fill="#1f6f6b"/>
<ellipse cx="29.9" cy="372.5" rx="1.30" ry="1.05" fill="#1f6f6b"/>
<ellipse cx="54.2" cy="355.6" rx="1.30" ry="1.05" fill="#1f6f6b"/>
<ellipse cx="57.0" cy="360.3" rx="1.30" ry="1.05" fill="#1f6f6b"/>
<line x1="82.5" y1="268.4" x2="88.8" y2="266.4" stroke="#111" stroke-width="0.7"/>
<circle cx="88.8" cy="266.4" r="0.8" fill="#111"/>
<line x1="69.8" y1="272.1" x2="76.1" y2="274.2" stroke="#111" stroke-width="0.7"/>
<circle cx="76.1" cy="274.2" r="0.8" fill="#111"/>
<line x1="88.4" y1="281.7" x2="92.7" y2="278.4" stroke="#111" stroke-width="0.7"/>
<circle cx="92.7" cy="278.4" r="0.8" fill="#111"/>
<line x1="171.6" y1="297.6" x2="176.4" y2="301.4" stroke="#111" stroke-width="0.7"/>
<circle cx="176.4" cy="301.4" r="0.8" fill="#111"/>
<line x1="75.9" y1="333" x2="75.9" y2="345.2" stroke="#111" stroke-width="0.7"/>
<circle cx="75.9" cy="345.2" r="0.8" fill="#111"/>
<line x1="87" y1="340.8" x2="86.5" y2="345.6" stroke="#111" stroke-width="0.7"/>
<circle cx="86.5" cy="345.6" r="0.8" fill="#111"/>
<line x1="92.3" y1="350.9" x2="92.3" y2="355.6" stroke="#111" stroke-width="0.7"/>
<circle cx="92.3" cy="355.6" r="0.8" fill="#111"/>
<line x1="146.5" y1="347.5" x2="150.2" y2="342.4" stroke="#111" stroke-width="0.7"/>
<circle cx="150.2" cy="342.4" r="0.8" fill="#111"/>
<text x="83.6" y="264.6" font-size="4.4" font-family="Liberation Serif, serif" fill="#1a1a1a" stroke="#1a1a1a" stroke-width="0.1" text-anchor="middle">13G</text>
<text x="68.5" y="278.7" font-size="4.4" font-family="Liberation Serif, serif" fill="#1a1a1a" stroke="#1a1a1a" stroke-width="0.1" text-anchor="middle">119G</text>
<text x="89.4" y="276.1" font-size="4.4" font-family="Liberation Serif, serif" fill="#1a1a1a" stroke="#1a1a1a" stroke-width="0.1" text-anchor="middle">182G</text>
<text x="169.2" y="303.2" font-size="4.4" font-family="Liberation Serif, serif" fill="#1a1a1a" stroke="#1a1a1a" stroke-width="0.1" text-anchor="middle">199K</text>
<text x="71.1" y="337.1" font-size="4.4" font-family="Liberation Serif, serif" fill="#1a1a1a" stroke="#1a1a1a" stroke-width="0.1" text-anchor="middle">54I</text>
<text x="82.8" y="342.6" font-size="4.4" font-family="Liberation Serif, serif" fill="#1a1a1a" stroke="#1a1a1a" stroke-width="0.1" text-anchor="middle">43L</text>
<text x="97.0" y="355.9" font-size="4.4" font-family="Liberation Serif, serif" fill="#1a1a1a" stroke="#1a1a1a" stroke-width="0.1" text-anchor="middle">149L</text>
<text x="142.8" y="343.9" font-size="4.4" font-family="Liberation Serif, serif" fill="#1a1a1a" stroke="#1a1a1a" stroke-width="0.1" text-anchor="middle">117L</text>
<text x="261.8" y="222.7" font-size="10.8" fill="#111" stroke="#111" stroke-width="0.12">D</text>
<defs>
<radialGradient id="bump" cx="0.42" cy="0.38" r="0.6"><stop offset="0" stop-color="#eceae7"/><stop offset="0.28" stop-color="#c2beba"/><stop offset="0.7" stop-color="#a4a09c"/><stop offset="0.9" stop-color="#84807c"/><stop offset="1" stop-color="#6a6662"/></radialGradient>
<clipPath id="pclip"><path d="M273.0,288.8 C272.0,287.8 273.4,285.2 273.8,284.0 C274.2,282.8 274.0,283.4 274.9,282.7 C275.8,282.0 276.8,280.6 278.5,280.5 C280.2,280.4 281.7,281.9 283.4,282.1 C285.1,282.3 286.4,282.8 287.0,281.5 C287.6,280.2 286.4,277.7 286.4,275.4 C286.4,273.1 286.0,271.3 287.0,270.0 C288.0,268.7 290.4,270.3 291.3,268.7 C292.2,267.1 290.8,264.2 291.3,262.0 C291.8,259.8 292.1,258.9 293.7,257.8 C295.3,256.7 297.1,256.5 299.2,256.6 C301.3,256.7 302.8,257.3 304.0,258.4 C305.2,259.5 305.0,260.8 305.3,262.0 C305.6,263.2 304.6,264.3 305.3,264.5 C306.0,264.7 307.5,263.2 309.0,263.2 C310.5,263.2 310.9,263.4 312.6,264.5 C314.3,265.6 315.7,268.0 317.4,268.7 C319.1,269.4 319.5,268.9 321.0,268.1 C322.5,267.3 323.2,265.6 324.7,264.5 C326.2,263.4 326.6,262.7 328.6,262.5 C330.6,262.3 332.7,263.0 334.7,263.7 C336.7,264.4 337.2,265.1 338.4,266.2 C339.6,267.3 340.0,269.6 340.8,269.2 C341.6,268.8 341.7,266.5 342.6,264.3 C343.5,262.1 343.8,259.7 345.1,258.2 C346.4,256.7 347.5,256.8 349.3,256.8 C351.1,256.8 352.6,257.1 354.2,258.2 C355.8,259.3 356.5,260.7 357.2,262.5 C357.9,264.3 357.2,266.1 357.8,267.4 C358.4,268.7 359.0,268.6 360.3,269.2 C361.6,269.8 363.0,270.5 364.5,270.4 C366.0,270.3 366.1,269.0 367.6,268.6 C369.1,268.2 370.3,267.7 371.8,268.2 C373.3,268.7 373.6,270.1 374.9,271.0 C376.2,271.9 377.0,272.1 378.5,272.8 C380.0,273.5 381.2,273.7 382.2,274.7 C383.2,275.7 382.8,276.6 383.6,277.7 C384.4,278.8 384.9,279.9 386.1,280.1 C387.3,280.3 388.1,278.7 389.7,278.9 C391.3,279.1 392.4,279.6 393.9,281.2 C395.4,282.8 396.6,284.5 397.3,287.1 C398.0,289.7 396.8,291.3 397.3,294.0 C397.8,296.7 398.4,299.6 399.8,300.8 C401.2,302.0 402.2,300.9 404.1,299.9 C406.0,298.9 407.5,297.2 409.2,295.7 C410.9,294.2 411.9,294.7 412.6,292.3 C413.3,289.9 412.1,286.6 412.6,283.7 C413.1,280.8 413.8,279.1 415.3,277.7 C416.8,276.3 418.2,276.3 420.1,276.5 C422.0,276.7 423.4,278.9 425.0,278.9 C426.6,278.9 427.4,278.0 428.1,276.5 C428.8,275.0 428.1,273.2 428.7,271.6 C429.3,270.0 429.6,269.8 431.1,268.6 C432.6,267.4 434.2,267.7 436.0,265.5 C437.8,263.3 438.4,259.5 439.9,257.5 C441.4,255.5 441.9,257.0 443.5,255.7 C445.1,254.4 446.3,252.5 447.8,250.8 C449.3,249.1 449.2,247.8 450.8,247.2 C452.4,246.6 453.8,247.2 455.7,247.8 C457.6,248.4 459.0,248.6 460.5,250.2 C462.0,251.8 462.0,253.9 463.0,255.7 C464.0,257.5 464.2,258.5 465.4,259.3 C466.6,260.1 467.6,259.0 469.1,259.9 C470.6,260.8 471.0,262.5 472.7,263.6 C474.4,264.7 475.8,264.7 477.6,265.4 C479.4,266.1 480.6,266.0 481.8,267.2 C483.0,268.4 483.7,269.9 483.7,271.5 C483.7,273.1 482.5,273.4 481.8,275.1 C481.1,276.8 479.6,277.8 480.4,280.2 C481.2,282.6 484.2,283.8 485.6,287.0 C487.0,290.2 486.4,293.5 487.3,296.0 C488.2,298.5 488.6,298.0 490.0,299.5 C491.4,301.0 493.4,301.0 494.5,303.5 C495.6,306.0 495.2,308.3 495.5,312.0 C495.8,315.7 495.1,319.3 496.2,321.9 C497.3,324.5 498.6,323.9 501.1,325.2 C503.6,326.5 506.6,327.0 508.8,328.5 C511.0,330.0 511.6,331.3 512.0,332.8 C512.4,334.3 512.1,335.1 511.0,336.1 C509.9,337.1 508.6,337.6 506.6,337.8 C504.6,338.0 503.3,336.9 501.1,337.2 C498.9,337.5 497.8,338.6 495.5,339.1 C493.2,339.6 491.9,339.2 489.6,339.8 C487.3,340.4 485.3,340.8 483.8,342.0 C482.3,343.2 483.5,344.2 482.3,345.7 C481.1,347.2 479.7,348.3 478.0,349.3 C476.3,350.3 474.9,349.8 473.6,350.8 C472.3,351.8 472.6,352.9 471.4,354.4 C470.2,355.9 469.6,356.9 467.7,358.1 C465.8,359.3 464.5,359.3 461.9,360.3 C459.3,361.3 457.2,362.3 454.6,363.2 C452.0,364.1 451.7,364.5 448.8,364.6 C445.9,364.7 443.1,364.1 440.0,363.9 C436.9,363.7 436.1,363.9 433.3,363.7 C430.5,363.5 428.9,363.3 426.0,363.0 C423.1,362.7 421.5,362.7 418.7,362.3 C415.9,361.9 414.1,361.9 412.0,361.0 C409.9,360.1 409.3,359.8 408.0,358.0 C406.7,356.2 406.4,354.4 405.5,352.0 C404.6,349.6 404.1,348.6 403.5,346.0 C402.9,343.4 402.6,341.9 402.7,339.0 C402.8,336.1 404.7,333.0 404.2,331.7 C403.7,330.4 401.6,332.3 400.0,332.4 C398.4,332.5 397.5,332.1 396.0,332.2 C394.5,332.3 393.8,331.2 392.5,333.1 C391.2,335.0 390.0,338.4 389.6,341.9 C389.2,345.4 390.2,347.7 390.3,350.6 C390.4,353.5 390.7,354.1 390.3,356.4 C389.9,358.7 389.7,360.8 388.1,362.3 C386.5,363.8 384.7,363.7 382.3,363.7 C379.9,363.7 378.6,362.7 376.2,362.3 C373.8,361.9 373.0,361.8 370.4,361.5 C367.8,361.2 365.7,360.8 363.1,360.8 C360.5,360.8 359.6,361.9 357.3,361.5 C355.0,361.1 353.7,359.0 351.4,358.6 C349.1,358.2 347.0,358.4 345.6,359.4 C344.2,360.4 346.5,362.8 344.2,363.7 C341.9,364.6 336.9,364.0 334.0,363.7 C331.1,363.4 331.9,363.2 329.6,362.3 C327.3,361.4 324.5,360.7 322.3,359.4 C320.1,358.1 320.1,357.8 318.6,355.9 C317.1,354.0 317.0,352.3 314.7,350.0 C312.4,347.7 309.6,346.5 306.9,344.2 C304.2,341.9 303.0,340.7 301.1,338.4 C299.2,336.1 298.2,334.8 297.2,332.5 C296.2,330.2 296.2,329.4 296.2,326.7 C296.2,324.0 297.4,322.0 297.2,318.9 C297.0,315.8 296.0,313.8 295.2,311.1 C294.4,308.4 294.5,306.9 293.3,305.3 C292.1,303.7 290.6,304.1 289.0,303.0 C287.4,301.9 286.7,302.2 285.5,300.0 C284.3,297.8 284.3,294.2 283.0,292.0 C281.7,289.8 281.0,289.6 279.0,289.0 C277.0,288.4 274.0,289.8 273.0,288.8 Z"/></clipPath>
</defs>
<rect x="272" y="246.5" width="240.8" height="125.2" fill="#fbfaf8"/>
<path d="M273.0,288.8 C272.0,287.8 273.4,285.2 273.8,284.0 C274.2,282.8 274.0,283.4 274.9,282.7 C275.8,282.0 276.8,280.6 278.5,280.5 C280.2,280.4 281.7,281.9 283.4,282.1 C285.1,282.3 286.4,282.8 287.0,281.5 C287.6,280.2 286.4,277.7 286.4,275.4 C286.4,273.1 286.0,271.3 287.0,270.0 C288.0,268.7 290.4,270.3 291.3,268.7 C292.2,267.1 290.8,264.2 291.3,262.0 C291.8,259.8 292.1,258.9 293.7,257.8 C295.3,256.7 297.1,256.5 299.2,256.6 C301.3,256.7 302.8,257.3 304.0,258.4 C305.2,259.5 305.0,260.8 305.3,262.0 C305.6,263.2 304.6,264.3 305.3,264.5 C306.0,264.7 307.5,263.2 309.0,263.2 C310.5,263.2 310.9,263.4 312.6,264.5 C314.3,265.6 315.7,268.0 317.4,268.7 C319.1,269.4 319.5,268.9 321.0,268.1 C322.5,267.3 323.2,265.6 324.7,264.5 C326.2,263.4 326.6,262.7 328.6,262.5 C330.6,262.3 332.7,263.0 334.7,263.7 C336.7,264.4 337.2,265.1 338.4,266.2 C339.6,267.3 340.0,269.6 340.8,269.2 C341.6,268.8 341.7,266.5 342.6,264.3 C343.5,262.1 343.8,259.7 345.1,258.2 C346.4,256.7 347.5,256.8 349.3,256.8 C351.1,256.8 352.6,257.1 354.2,258.2 C355.8,259.3 356.5,260.7 357.2,262.5 C357.9,264.3 357.2,266.1 357.8,267.4 C358.4,268.7 359.0,268.6 360.3,269.2 C361.6,269.8 363.0,270.5 364.5,270.4 C366.0,270.3 366.1,269.0 367.6,268.6 C369.1,268.2 370.3,267.7 371.8,268.2 C373.3,268.7 373.6,270.1 374.9,271.0 C376.2,271.9 377.0,272.1 378.5,272.8 C380.0,273.5 381.2,273.7 382.2,274.7 C383.2,275.7 382.8,276.6 383.6,277.7 C384.4,278.8 384.9,279.9 386.1,280.1 C387.3,280.3 388.1,278.7 389.7,278.9 C391.3,279.1 392.4,279.6 393.9,281.2 C395.4,282.8 396.6,284.5 397.3,287.1 C398.0,289.7 396.8,291.3 397.3,294.0 C397.8,296.7 398.4,299.6 399.8,300.8 C401.2,302.0 402.2,300.9 404.1,299.9 C406.0,298.9 407.5,297.2 409.2,295.7 C410.9,294.2 411.9,294.7 412.6,292.3 C413.3,289.9 412.1,286.6 412.6,283.7 C413.1,280.8 413.8,279.1 415.3,277.7 C416.8,276.3 418.2,276.3 420.1,276.5 C422.0,276.7 423.4,278.9 425.0,278.9 C426.6,278.9 427.4,278.0 428.1,276.5 C428.8,275.0 428.1,273.2 428.7,271.6 C429.3,270.0 429.6,269.8 431.1,268.6 C432.6,267.4 434.2,267.7 436.0,265.5 C437.8,263.3 438.4,259.5 439.9,257.5 C441.4,255.5 441.9,257.0 443.5,255.7 C445.1,254.4 446.3,252.5 447.8,250.8 C449.3,249.1 449.2,247.8 450.8,247.2 C452.4,246.6 453.8,247.2 455.7,247.8 C457.6,248.4 459.0,248.6 460.5,250.2 C462.0,251.8 462.0,253.9 463.0,255.7 C464.0,257.5 464.2,258.5 465.4,259.3 C466.6,260.1 467.6,259.0 469.1,259.9 C470.6,260.8 471.0,262.5 472.7,263.6 C474.4,264.7 475.8,264.7 477.6,265.4 C479.4,266.1 480.6,266.0 481.8,267.2 C483.0,268.4 483.7,269.9 483.7,271.5 C483.7,273.1 482.5,273.4 481.8,275.1 C481.1,276.8 479.6,277.8 480.4,280.2 C481.2,282.6 484.2,283.8 485.6,287.0 C487.0,290.2 486.4,293.5 487.3,296.0 C488.2,298.5 488.6,298.0 490.0,299.5 C491.4,301.0 493.4,301.0 494.5,303.5 C495.6,306.0 495.2,308.3 495.5,312.0 C495.8,315.7 495.1,319.3 496.2,321.9 C497.3,324.5 498.6,323.9 501.1,325.2 C503.6,326.5 506.6,327.0 508.8,328.5 C511.0,330.0 511.6,331.3 512.0,332.8 C512.4,334.3 512.1,335.1 511.0,336.1 C509.9,337.1 508.6,337.6 506.6,337.8 C504.6,338.0 503.3,336.9 501.1,337.2 C498.9,337.5 497.8,338.6 495.5,339.1 C493.2,339.6 491.9,339.2 489.6,339.8 C487.3,340.4 485.3,340.8 483.8,342.0 C482.3,343.2 483.5,344.2 482.3,345.7 C481.1,347.2 479.7,348.3 478.0,349.3 C476.3,350.3 474.9,349.8 473.6,350.8 C472.3,351.8 472.6,352.9 471.4,354.4 C470.2,355.9 469.6,356.9 467.7,358.1 C465.8,359.3 464.5,359.3 461.9,360.3 C459.3,361.3 457.2,362.3 454.6,363.2 C452.0,364.1 451.7,364.5 448.8,364.6 C445.9,364.7 443.1,364.1 440.0,363.9 C436.9,363.7 436.1,363.9 433.3,363.7 C430.5,363.5 428.9,363.3 426.0,363.0 C423.1,362.7 421.5,362.7 418.7,362.3 C415.9,361.9 414.1,361.9 412.0,361.0 C409.9,360.1 409.3,359.8 408.0,358.0 C406.7,356.2 406.4,354.4 405.5,352.0 C404.6,349.6 404.1,348.6 403.5,346.0 C402.9,343.4 402.6,341.9 402.7,339.0 C402.8,336.1 404.7,333.0 404.2,331.7 C403.7,330.4 401.6,332.3 400.0,332.4 C398.4,332.5 397.5,332.1 396.0,332.2 C394.5,332.3 393.8,331.2 392.5,333.1 C391.2,335.0 390.0,338.4 389.6,341.9 C389.2,345.4 390.2,347.7 390.3,350.6 C390.4,353.5 390.7,354.1 390.3,356.4 C389.9,358.7 389.7,360.8 388.1,362.3 C386.5,363.8 384.7,363.7 382.3,363.7 C379.9,363.7 378.6,362.7 376.2,362.3 C373.8,361.9 373.0,361.8 370.4,361.5 C367.8,361.2 365.7,360.8 363.1,360.8 C360.5,360.8 359.6,361.9 357.3,361.5 C355.0,361.1 353.7,359.0 351.4,358.6 C349.1,358.2 347.0,358.4 345.6,359.4 C344.2,360.4 346.5,362.8 344.2,363.7 C341.9,364.6 336.9,364.0 334.0,363.7 C331.1,363.4 331.9,363.2 329.6,362.3 C327.3,361.4 324.5,360.7 322.3,359.4 C320.1,358.1 320.1,357.8 318.6,355.9 C317.1,354.0 317.0,352.3 314.7,350.0 C312.4,347.7 309.6,346.5 306.9,344.2 C304.2,341.9 303.0,340.7 301.1,338.4 C299.2,336.1 298.2,334.8 297.2,332.5 C296.2,330.2 296.2,329.4 296.2,326.7 C296.2,324.0 297.4,322.0 297.2,318.9 C297.0,315.8 296.0,313.8 295.2,311.1 C294.4,308.4 294.5,306.9 293.3,305.3 C292.1,303.7 290.6,304.1 289.0,303.0 C287.4,301.9 286.7,302.2 285.5,300.0 C284.3,297.8 284.3,294.2 283.0,292.0 C281.7,289.8 281.0,289.6 279.0,289.0 C277.0,288.4 274.0,289.8 273.0,288.8 Z" fill="#8a8682" stroke="#66625e" stroke-width="0.9"/>
<g clip-path="url(#pclip)">
<circle cx="357.7" cy="357.0" r="7.1" fill="url(#bump)" stroke="#6d6965" stroke-width="0.5" stroke-opacity="0.75"/>
<circle cx="325.2" cy="350.0" r="5.0" fill="url(#bump)" stroke="#6d6965" stroke-width="0.5" stroke-opacity="0.75"/>
<circle cx="346.4" cy="296.6" r="6.0" fill="url(#bump)" stroke="#6d6965" stroke-width="0.5" stroke-opacity="0.75"/>
<circle cx="299.2" cy="320.2" r="4.8" fill="url(#bump)" stroke="#6d6965" stroke-width="0.5" stroke-opacity="0.75"/>
<circle cx="474.3" cy="295.7" r="4.4" fill="url(#bump)" stroke="#6d6965" stroke-width="0.5" stroke-opacity="0.75"/>
<circle cx="475.0" cy="321.9" r="6.1" fill="url(#bump)" stroke="#6d6965" stroke-width="0.5" stroke-opacity="0.75"/>
<circle cx="385.9" cy="283.7" r="5.7" fill="url(#bump)" stroke="#6d6965" stroke-width="0.5" stroke-opacity="0.75"/>
<circle cx="329.7" cy="316.0" r="6.6" fill="url(#bump)" stroke="#6d6965" stroke-width="0.5" stroke-opacity="0.75"/>
<circle cx="330.9" cy="340.0" r="5.7" fill="url(#bump)" stroke="#6d6965" stroke-width="0.5" stroke-opacity="0.75"/>
<circle cx="344.5" cy="276.9" r="4.7" fill="url(#bump)" stroke="#6d6965" stroke-width="0.5" stroke-opacity="0.75"/>
<circle cx="342.9" cy="342.6" r="6.1" fill="url(#bump)" stroke="#6d6965" stroke-width="0.5" stroke-opacity="0.75"/>
<circle cx="326.4" cy="303.9" r="6.9" fill="url(#bump)" stroke="#6d6965" stroke-width="0.5" stroke-opacity="0.75"/>
<circle cx="322.1" cy="311.1" r="6.7" fill="url(#bump)" stroke="#6d6965" stroke-width="0.5" stroke-opacity="0.75"/>
<circle cx="422.5" cy="311.5" r="6.1" fill="url(#bump)" stroke="#6d6965" stroke-width="0.5" stroke-opacity="0.75"/>
<circle cx="284.2" cy="271.3" r="4.4" fill="url(#bump)" stroke="#6d6965" stroke-width="0.5" stroke-opacity="0.75"/>
<circle cx="443.3" cy="365.1" r="4.9" fill="url(#bump)" stroke="#6d6965" stroke-width="0.5" stroke-opacity="0.75"/>
<circle cx="481.2" cy="319.4" r="4.8" fill="url(#bump)" stroke="#6d6965" stroke-width="0.5" stroke-opacity="0.75"/>
<circle cx="396.4" cy="289.9" r="6.9" fill="url(#bump)" stroke="#6d6965" stroke-width="0.5" stroke-opacity="0.75"/>
<circle cx="334.3" cy="273.3" r="4.7" fill="url(#bump)" stroke="#6d6965" stroke-width="0.5" stroke-opacity="0.75"/>
<circle cx="469.9" cy="328.6" r="6.3" fill="url(#bump)" stroke="#6d6965" stroke-width="0.5" stroke-opacity="0.75"/>
<circle cx="478.2" cy="345.7" r="7.0" fill="url(#bump)" stroke="#6d6965" stroke-width="0.5" stroke-opacity="0.75"/>
<circle cx="303.7" cy="303.9" r="6.7" fill="url(#bump)" stroke="#6d6965" stroke-width="0.5" stroke-opacity="0.75"/>
<circle cx="339.5" cy="349.3" r="6.6" fill="url(#bump)" stroke="#6d6965" stroke-width="0.5" stroke-opacity="0.75"/>
<circle cx="373.7" cy="329.8" r="6.1" fill="url(#bump)" stroke="#6d6965" stroke-width="0.5" stroke-opacity="0.75"/>
<circle cx="367.0" cy="344.2" r="6.1" fill="url(#bump)" stroke="#6d6965" stroke-width="0.5" stroke-opacity="0.75"/>
<circle cx="435.0" cy="303.7" r="5.2" fill="url(#bump)" stroke="#6d6965" stroke-width="0.5" stroke-opacity="0.75"/>
<circle cx="405.2" cy="346.2" r="6.5" fill="url(#bump)" stroke="#6d6965" stroke-width="0.5" stroke-opacity="0.75"/>
<circle cx="437.5" cy="353.0" r="6.8" fill="url(#bump)" stroke="#6d6965" stroke-width="0.5" stroke-opacity="0.75"/>
<circle cx="349.9" cy="332.3" r="6.3" fill="url(#bump)" stroke="#6d6965" stroke-width="0.5" stroke-opacity="0.75"/>
<circle cx="349.7" cy="289.1" r="7.0" fill="url(#bump)" stroke="#6d6965" stroke-width="0.5" stroke-opacity="0.75"/>
<circle cx="272.0" cy="283.4" r="4.3" fill="url(#bump)" stroke="#6d6965" stroke-width="0.5" stroke-opacity="0.75"/>
<circle cx="406.6" cy="339.9" r="5.1" fill="url(#bump)" stroke="#6d6965" stroke-width="0.5" stroke-opacity="0.75"/>
<circle cx="348.8" cy="342.7" r="5.4" fill="url(#bump)" stroke="#6d6965" stroke-width="0.5" stroke-opacity="0.75"/>
<circle cx="410.9" cy="357.3" r="5.8" fill="url(#bump)" stroke="#6d6965" stroke-width="0.5" stroke-opacity="0.75"/>
<circle cx="393.0" cy="325.3" r="5.1" fill="url(#bump)" stroke="#6d6965" stroke-width="0.5" stroke-opacity="0.75"/>
<circle cx="339.7" cy="362.7" r="5.1" fill="url(#bump)" stroke="#6d6965" stroke-width="0.5" stroke-opacity="0.75"/>
<circle cx="318.2" cy="312.0" r="7.2" fill="url(#bump)" stroke="#6d6965" stroke-width="0.5" stroke-opacity="0.75"/>
<circle cx="478.3" cy="310.8" r="6.7" fill="url(#bump)" stroke="#6d6965" stroke-width="0.5" stroke-opacity="0.75"/>
<circle cx="371.2" cy="324.1" r="4.7" fill="url(#bump)" stroke="#6d6965" stroke-width="0.5" stroke-opacity="0.75"/>
<circle cx="450.2" cy="343.7" r="6.2" fill="url(#bump)" stroke="#6d6965" stroke-width="0.5" stroke-opacity="0.75"/>
<circle cx="372.4" cy="292.2" r="5.1" fill="url(#bump)" stroke="#6d6965" stroke-width="0.5" stroke-opacity="0.75"/>
<circle cx="391.0" cy="305.3" r="7.0" fill="url(#bump)" stroke="#6d6965" stroke-width="0.5" stroke-opacity="0.75"/>
<circle cx="495.8" cy="305.5" r="6.4" fill="url(#bump)" stroke="#6d6965" stroke-width="0.5" stroke-opacity="0.75"/>
<circle cx="450.3" cy="315.6" r="6.4" fill="url(#bump)" stroke="#6d6965" stroke-width="0.5" stroke-opacity="0.75"/>
<circle cx="432.1" cy="338.6" r="6.6" fill="url(#bump)" stroke="#6d6965" stroke-width="0.5" stroke-opacity="0.75"/>
<circle cx="392.4" cy="284.6" r="4.6" fill="url(#bump)" stroke="#6d6965" stroke-width="0.5" stroke-opacity="0.75"/>
<circle cx="465.2" cy="358.1" r="6.6" fill="url(#bump)" stroke="#6d6965" stroke-width="0.5" stroke-opacity="0.75"/>
<circle cx="442.4" cy="330.0" r="4.8" fill="url(#bump)" stroke="#6d6965" stroke-width="0.5" stroke-opacity="0.75"/>
<circle cx="415.2" cy="286.5" r="7.1" fill="url(#bump)" stroke="#6d6965" stroke-width="0.5" stroke-opacity="0.75"/>
<circle cx="300.0" cy="302.6" r="7.1" fill="url(#bump)" stroke="#6d6965" stroke-width="0.5" stroke-opacity="0.75"/>
<circle cx="459.8" cy="339.7" r="5.7" fill="url(#bump)" stroke="#6d6965" stroke-width="0.5" stroke-opacity="0.75"/>
<circle cx="462.9" cy="271.4" r="5.2" fill="url(#bump)" stroke="#6d6965" stroke-width="0.5" stroke-opacity="0.75"/>
<circle cx="284.2" cy="296.2" r="5.8" fill="url(#bump)" stroke="#6d6965" stroke-width="0.5" stroke-opacity="0.75"/>
<circle cx="470.5" cy="325.9" r="5.4" fill="url(#bump)" stroke="#6d6965" stroke-width="0.5" stroke-opacity="0.75"/>
<circle cx="456.3" cy="356.4" r="5.1" fill="url(#bump)" stroke="#6d6965" stroke-width="0.5" stroke-opacity="0.75"/>
<circle cx="471.1" cy="290.9" r="5.5" fill="url(#bump)" stroke="#6d6965" stroke-width="0.5" stroke-opacity="0.75"/>
<circle cx="459.4" cy="342.6" r="6.2" fill="url(#bump)" stroke="#6d6965" stroke-width="0.5" stroke-opacity="0.75"/>
<circle cx="466.0" cy="278.9" r="4.3" fill="url(#bump)" stroke="#6d6965" stroke-width="0.5" stroke-opacity="0.75"/>
<circle cx="372.2" cy="350.0" r="6.1" fill="url(#bump)" stroke="#6d6965" stroke-width="0.5" stroke-opacity="0.75"/>
<circle cx="329.8" cy="332.3" r="5.6" fill="url(#bump)" stroke="#6d6965" stroke-width="0.5" stroke-opacity="0.75"/>
<circle cx="402.0" cy="349.6" r="5.3" fill="url(#bump)" stroke="#6d6965" stroke-width="0.5" stroke-opacity="0.75"/>
<circle cx="364.6" cy="298.8" r="6.9" fill="url(#bump)" stroke="#6d6965" stroke-width="0.5" stroke-opacity="0.75"/>
<circle cx="450.2" cy="328.8" r="6.9" fill="url(#bump)" stroke="#6d6965" stroke-width="0.5" stroke-opacity="0.75"/>
<circle cx="289.5" cy="264.5" r="7.0" fill="url(#bump)" stroke="#6d6965" stroke-width="0.5" stroke-opacity="0.75"/>
<circle cx="341.2" cy="338.2" r="4.3" fill="url(#bump)" stroke="#6d6965" stroke-width="0.5" stroke-opacity="0.75"/>
<circle cx="491.1" cy="326.7" r="6.4" fill="url(#bump)" stroke="#6d6965" stroke-width="0.5" stroke-opacity="0.75"/>
<circle cx="379.2" cy="318.3" r="5.9" fill="url(#bump)" stroke="#6d6965" stroke-width="0.5" stroke-opacity="0.75"/>
<circle cx="455.4" cy="328.5" r="4.5" fill="url(#bump)" stroke="#6d6965" stroke-width="0.5" stroke-opacity="0.75"/>
<circle cx="485.1" cy="289.0" r="6.3" fill="url(#bump)" stroke="#6d6965" stroke-width="0.5" stroke-opacity="0.75"/>
<circle cx="356.5" cy="291.3" r="5.2" fill="url(#bump)" stroke="#6d6965" stroke-width="0.5" stroke-opacity="0.75"/>
<circle cx="452.1" cy="358.2" r="6.6" fill="url(#bump)" stroke="#6d6965" stroke-width="0.5" stroke-opacity="0.75"/>
<circle cx="309.0" cy="285.0" r="6.2" fill="url(#bump)" stroke="#6d6965" stroke-width="0.5" stroke-opacity="0.75"/>
<circle cx="420.5" cy="361.4" r="6.3" fill="url(#bump)" stroke="#6d6965" stroke-width="0.5" stroke-opacity="0.75"/>
<circle cx="327.8" cy="355.6" r="5.7" fill="url(#bump)" stroke="#6d6965" stroke-width="0.5" stroke-opacity="0.75"/>
<circle cx="305.2" cy="279.9" r="5.4" fill="url(#bump)" stroke="#6d6965" stroke-width="0.5" stroke-opacity="0.75"/>
<circle cx="287.4" cy="303.5" r="5.3" fill="url(#bump)" stroke="#6d6965" stroke-width="0.5" stroke-opacity="0.75"/>
<circle cx="506.3" cy="339.0" r="5.9" fill="url(#bump)" stroke="#6d6965" stroke-width="0.5" stroke-opacity="0.75"/>
<circle cx="388.4" cy="344.6" r="6.4" fill="url(#bump)" stroke="#6d6965" stroke-width="0.5" stroke-opacity="0.75"/>
<circle cx="425.1" cy="317.7" r="4.5" fill="url(#bump)" stroke="#6d6965" stroke-width="0.5" stroke-opacity="0.75"/>
<circle cx="318.5" cy="357.4" r="4.4" fill="url(#bump)" stroke="#6d6965" stroke-width="0.5" stroke-opacity="0.75"/>
<circle cx="356.0" cy="343.7" r="6.6" fill="url(#bump)" stroke="#6d6965" stroke-width="0.5" stroke-opacity="0.75"/>
<circle cx="474.9" cy="341.8" r="5.8" fill="url(#bump)" stroke="#6d6965" stroke-width="0.5" stroke-opacity="0.75"/>
<circle cx="376.2" cy="285.7" r="6.3" fill="url(#bump)" stroke="#6d6965" stroke-width="0.5" stroke-opacity="0.75"/>
<circle cx="426.6" cy="332.8" r="6.3" fill="url(#bump)" stroke="#6d6965" stroke-width="0.5" stroke-opacity="0.75"/>
<circle cx="418.4" cy="289.3" r="4.9" fill="url(#bump)" stroke="#6d6965" stroke-width="0.5" stroke-opacity="0.75"/>
<circle cx="421.4" cy="303.0" r="6.6" fill="url(#bump)" stroke="#6d6965" stroke-width="0.5" stroke-opacity="0.75"/>
<circle cx="416.6" cy="277.0" r="4.5" fill="url(#bump)" stroke="#6d6965" stroke-width="0.5" stroke-opacity="0.75"/>
<circle cx="442.0" cy="356.2" r="5.7" fill="url(#bump)" stroke="#6d6965" stroke-width="0.5" stroke-opacity="0.75"/>
<circle cx="459.3" cy="253.3" r="6.8" fill="url(#bump)" stroke="#6d6965" stroke-width="0.5" stroke-opacity="0.75"/>
<circle cx="386.3" cy="329.8" r="4.9" fill="url(#bump)" stroke="#6d6965" stroke-width="0.5" stroke-opacity="0.75"/>
<circle cx="352.5" cy="263.5" r="5.0" fill="url(#bump)" stroke="#6d6965" stroke-width="0.5" stroke-opacity="0.75"/>
<circle cx="337.2" cy="298.1" r="5.9" fill="url(#bump)" stroke="#6d6965" stroke-width="0.5" stroke-opacity="0.75"/>
<circle cx="467.0" cy="330.2" r="4.6" fill="url(#bump)" stroke="#6d6965" stroke-width="0.5" stroke-opacity="0.75"/>
<circle cx="307.3" cy="322.6" r="7.0" fill="url(#bump)" stroke="#6d6965" stroke-width="0.5" stroke-opacity="0.75"/>
<circle cx="371.7" cy="267.1" r="5.3" fill="url(#bump)" stroke="#6d6965" stroke-width="0.5" stroke-opacity="0.75"/>
<circle cx="312.8" cy="279.2" r="7.1" fill="url(#bump)" stroke="#6d6965" stroke-width="0.5" stroke-opacity="0.75"/>
<circle cx="373.4" cy="342.3" r="6.0" fill="url(#bump)" stroke="#6d6965" stroke-width="0.5" stroke-opacity="0.75"/>
<circle cx="372.4" cy="305.7" r="5.1" fill="url(#bump)" stroke="#6d6965" stroke-width="0.5" stroke-opacity="0.75"/>
<circle cx="485.1" cy="338.4" r="5.2" fill="url(#bump)" stroke="#6d6965" stroke-width="0.5" stroke-opacity="0.75"/>
<circle cx="470.9" cy="351.6" r="5.0" fill="url(#bump)" stroke="#6d6965" stroke-width="0.5" stroke-opacity="0.75"/>
<circle cx="383.9" cy="351.1" r="4.6" fill="url(#bump)" stroke="#6d6965" stroke-width="0.5" stroke-opacity="0.75"/>
<circle cx="326.6" cy="271.1" r="5.7" fill="url(#bump)" stroke="#6d6965" stroke-width="0.5" stroke-opacity="0.75"/>
<circle cx="328.7" cy="277.7" r="5.2" fill="url(#bump)" stroke="#6d6965" stroke-width="0.5" stroke-opacity="0.75"/>
<circle cx="339.7" cy="324.8" r="6.8" fill="url(#bump)" stroke="#6d6965" stroke-width="0.5" stroke-opacity="0.75"/>
<circle cx="367.8" cy="311.7" r="6.1" fill="url(#bump)" stroke="#6d6965" stroke-width="0.5" stroke-opacity="0.75"/>
<circle cx="484.1" cy="323.6" r="6.1" fill="url(#bump)" stroke="#6d6965" stroke-width="0.5" stroke-opacity="0.75"/>
<circle cx="371.5" cy="335.9" r="4.2" fill="url(#bump)" stroke="#6d6965" stroke-width="0.5" stroke-opacity="0.75"/>
<circle cx="363.8" cy="358.1" r="6.1" fill="url(#bump)" stroke="#6d6965" stroke-width="0.5" stroke-opacity="0.75"/>
<circle cx="433.0" cy="297.0" r="6.7" fill="url(#bump)" stroke="#6d6965" stroke-width="0.5" stroke-opacity="0.75"/>
<circle cx="322.4" cy="293.0" r="6.1" fill="url(#bump)" stroke="#6d6965" stroke-width="0.5" stroke-opacity="0.75"/>
<circle cx="442.1" cy="290.8" r="5.2" fill="url(#bump)" stroke="#6d6965" stroke-width="0.5" stroke-opacity="0.75"/>
<circle cx="474.1" cy="280.2" r="6.1" fill="url(#bump)" stroke="#6d6965" stroke-width="0.5" stroke-opacity="0.75"/>
<circle cx="480.0" cy="265.1" r="6.3" fill="url(#bump)" stroke="#6d6965" stroke-width="0.5" stroke-opacity="0.75"/>
<circle cx="362.0" cy="351.1" r="4.9" fill="url(#bump)" stroke="#6d6965" stroke-width="0.5" stroke-opacity="0.75"/>
<circle cx="451.5" cy="326.7" r="4.9" fill="url(#bump)" stroke="#6d6965" stroke-width="0.5" stroke-opacity="0.75"/>
<circle cx="341.1" cy="329.6" r="4.3" fill="url(#bump)" stroke="#6d6965" stroke-width="0.5" stroke-opacity="0.75"/>
<circle cx="435.9" cy="345.3" r="6.1" fill="url(#bump)" stroke="#6d6965" stroke-width="0.5" stroke-opacity="0.75"/>
<circle cx="452.7" cy="310.8" r="6.8" fill="url(#bump)" stroke="#6d6965" stroke-width="0.5" stroke-opacity="0.75"/>
<circle cx="463.9" cy="307.1" r="6.9" fill="url(#bump)" stroke="#6d6965" stroke-width="0.5" stroke-opacity="0.75"/>
<circle cx="492.6" cy="300.6" r="7.0" fill="url(#bump)" stroke="#6d6965" stroke-width="0.5" stroke-opacity="0.75"/>
<circle cx="300.3" cy="335.5" r="4.5" fill="url(#bump)" stroke="#6d6965" stroke-width="0.5" stroke-opacity="0.75"/>
<circle cx="421.7" cy="349.8" r="5.6" fill="url(#bump)" stroke="#6d6965" stroke-width="0.5" stroke-opacity="0.75"/>
<circle cx="463.6" cy="310.5" r="4.8" fill="url(#bump)" stroke="#6d6965" stroke-width="0.5" stroke-opacity="0.75"/>
<circle cx="348.6" cy="280.0" r="6.8" fill="url(#bump)" stroke="#6d6965" stroke-width="0.5" stroke-opacity="0.75"/>
<circle cx="325.7" cy="322.4" r="5.8" fill="url(#bump)" stroke="#6d6965" stroke-width="0.5" stroke-opacity="0.75"/>
<circle cx="354.1" cy="325.9" r="5.0" fill="url(#bump)" stroke="#6d6965" stroke-width="0.5" stroke-opacity="0.75"/>
<circle cx="383.7" cy="278.4" r="4.9" fill="url(#bump)" stroke="#6d6965" stroke-width="0.5" stroke-opacity="0.75"/>
<circle cx="468.0" cy="339.6" r="4.9" fill="url(#bump)" stroke="#6d6965" stroke-width="0.5" stroke-opacity="0.75"/>
<circle cx="439.2" cy="271.2" r="4.4" fill="url(#bump)" stroke="#6d6965" stroke-width="0.5" stroke-opacity="0.75"/>
<circle cx="420.6" cy="355.9" r="5.5" fill="url(#bump)" stroke="#6d6965" stroke-width="0.5" stroke-opacity="0.75"/>
<circle cx="416.2" cy="362.5" r="4.7" fill="url(#bump)" stroke="#6d6965" stroke-width="0.5" stroke-opacity="0.75"/>
<circle cx="456.3" cy="280.7" r="4.6" fill="url(#bump)" stroke="#6d6965" stroke-width="0.5" stroke-opacity="0.75"/>
<circle cx="354.7" cy="260.9" r="6.8" fill="url(#bump)" stroke="#6d6965" stroke-width="0.5" stroke-opacity="0.75"/>
<circle cx="369.9" cy="269.3" r="7.2" fill="url(#bump)" stroke="#6d6965" stroke-width="0.5" stroke-opacity="0.75"/>
<circle cx="391.2" cy="277.2" r="5.3" fill="url(#bump)" stroke="#6d6965" stroke-width="0.5" stroke-opacity="0.75"/>
<circle cx="455.4" cy="335.1" r="4.8" fill="url(#bump)" stroke="#6d6965" stroke-width="0.5" stroke-opacity="0.75"/>
<circle cx="330.1" cy="293.7" r="5.8" fill="url(#bump)" stroke="#6d6965" stroke-width="0.5" stroke-opacity="0.75"/>
<circle cx="450.7" cy="280.2" r="5.4" fill="url(#bump)" stroke="#6d6965" stroke-width="0.5" stroke-opacity="0.75"/>
<circle cx="359.7" cy="270.7" r="6.1" fill="url(#bump)" stroke="#6d6965" stroke-width="0.5" stroke-opacity="0.75"/>
<circle cx="470.5" cy="319.7" r="7.2" fill="url(#bump)" stroke="#6d6965" stroke-width="0.5" stroke-opacity="0.75"/>
<circle cx="426.4" cy="357.7" r="6.7" fill="url(#bump)" stroke="#6d6965" stroke-width="0.5" stroke-opacity="0.75"/>
<circle cx="497.4" cy="316.1" r="6.6" fill="url(#bump)" stroke="#6d6965" stroke-width="0.5" stroke-opacity="0.75"/>
<circle cx="350.3" cy="317.9" r="5.4" fill="url(#bump)" stroke="#6d6965" stroke-width="0.5" stroke-opacity="0.75"/>
<circle cx="393.4" cy="309.7" r="4.2" fill="url(#bump)" stroke="#6d6965" stroke-width="0.5" stroke-opacity="0.75"/>
<circle cx="487.7" cy="342.1" r="5.9" fill="url(#bump)" stroke="#6d6965" stroke-width="0.5" stroke-opacity="0.75"/>
<circle cx="367.4" cy="362.0" r="6.6" fill="url(#bump)" stroke="#6d6965" stroke-width="0.5" stroke-opacity="0.75"/>
<circle cx="393.9" cy="303.2" r="5.6" fill="url(#bump)" stroke="#6d6965" stroke-width="0.5" stroke-opacity="0.75"/>
<circle cx="432.9" cy="283.3" r="5.9" fill="url(#bump)" stroke="#6d6965" stroke-width="0.5" stroke-opacity="0.75"/>
<circle cx="476.0" cy="337.8" r="6.5" fill="url(#bump)" stroke="#6d6965" stroke-width="0.5" stroke-opacity="0.75"/>
<circle cx="447.3" cy="290.2" r="7.1" fill="url(#bump)" stroke="#6d6965" stroke-width="0.5" stroke-opacity="0.75"/>
<circle cx="396.8" cy="317.4" r="6.2" fill="url(#bump)" stroke="#6d6965" stroke-width="0.5" stroke-opacity="0.75"/>
<circle cx="436.8" cy="324.8" r="6.0" fill="url(#bump)" stroke="#6d6965" stroke-width="0.5" stroke-opacity="0.75"/>
<circle cx="397.6" cy="322.0" r="4.6" fill="url(#bump)" stroke="#6d6965" stroke-width="0.5" stroke-opacity="0.75"/>
<circle cx="387.0" cy="289.9" r="6.9" fill="url(#bump)" stroke="#6d6965" stroke-width="0.5" stroke-opacity="0.75"/>
<circle cx="344.6" cy="302.2" r="4.3" fill="url(#bump)" stroke="#6d6965" stroke-width="0.5" stroke-opacity="0.75"/>
<circle cx="345.2" cy="258.6" r="4.3" fill="url(#bump)" stroke="#6d6965" stroke-width="0.5" stroke-opacity="0.75"/>
<circle cx="480.7" cy="332.0" r="6.4" fill="url(#bump)" stroke="#6d6965" stroke-width="0.5" stroke-opacity="0.75"/>
<circle cx="455.9" cy="263.8" r="6.5" fill="url(#bump)" stroke="#6d6965" stroke-width="0.5" stroke-opacity="0.75"/>
<circle cx="382.4" cy="337.6" r="5.7" fill="url(#bump)" stroke="#6d6965" stroke-width="0.5" stroke-opacity="0.75"/>
<circle cx="339.0" cy="271.7" r="5.2" fill="url(#bump)" stroke="#6d6965" stroke-width="0.5" stroke-opacity="0.75"/>
<circle cx="441.3" cy="306.1" r="4.4" fill="url(#bump)" stroke="#6d6965" stroke-width="0.5" stroke-opacity="0.75"/>
<circle cx="490.5" cy="335.8" r="6.7" fill="url(#bump)" stroke="#6d6965" stroke-width="0.5" stroke-opacity="0.75"/>
<circle cx="357.3" cy="263.7" r="6.0" fill="url(#bump)" stroke="#6d6965" stroke-width="0.5" stroke-opacity="0.75"/>
<circle cx="303.3" cy="320.1" r="7.1" fill="url(#bump)" stroke="#6d6965" stroke-width="0.5" stroke-opacity="0.75"/>
<circle cx="417.5" cy="322.5" r="4.9" fill="url(#bump)" stroke="#6d6965" stroke-width="0.5" stroke-opacity="0.75"/>
<circle cx="489.6" cy="308.7" r="5.9" fill="url(#bump)" stroke="#6d6965" stroke-width="0.5" stroke-opacity="0.75"/>
<circle cx="444.3" cy="325.0" r="5.6" fill="url(#bump)" stroke="#6d6965" stroke-width="0.5" stroke-opacity="0.75"/>
<circle cx="360.7" cy="339.5" r="4.5" fill="url(#bump)" stroke="#6d6965" stroke-width="0.5" stroke-opacity="0.75"/>
<circle cx="293.0" cy="257.7" r="4.6" fill="url(#bump)" stroke="#6d6965" stroke-width="0.5" stroke-opacity="0.75"/>
<circle cx="345.4" cy="270.7" r="6.4" fill="url(#bump)" stroke="#6d6965" stroke-width="0.5" stroke-opacity="0.75"/>
<circle cx="373.3" cy="277.0" r="7.1" fill="url(#bump)" stroke="#6d6965" stroke-width="0.5" stroke-opacity="0.75"/>
<circle cx="312.7" cy="315.5" r="7.0" fill="url(#bump)" stroke="#6d6965" stroke-width="0.5" stroke-opacity="0.75"/>
<circle cx="338.1" cy="345.7" r="6.4" fill="url(#bump)" stroke="#6d6965" stroke-width="0.5" stroke-opacity="0.75"/>
<circle cx="463.1" cy="284.7" r="4.3" fill="url(#bump)" stroke="#6d6965" stroke-width="0.5" stroke-opacity="0.75"/>
<circle cx="303.9" cy="343.3" r="5.8" fill="url(#bump)" stroke="#6d6965" stroke-width="0.5" stroke-opacity="0.75"/>
<circle cx="474.9" cy="303.4" r="4.5" fill="url(#bump)" stroke="#6d6965" stroke-width="0.5" stroke-opacity="0.75"/>
<circle cx="454.9" cy="348.9" r="6.7" fill="url(#bump)" stroke="#6d6965" stroke-width="0.5" stroke-opacity="0.75"/>
<circle cx="475.2" cy="282.9" r="5.2" fill="url(#bump)" stroke="#6d6965" stroke-width="0.5" stroke-opacity="0.75"/>
<circle cx="483.3" cy="313.2" r="5.6" fill="url(#bump)" stroke="#6d6965" stroke-width="0.5" stroke-opacity="0.75"/>
<circle cx="443.9" cy="286.5" r="5.7" fill="url(#bump)" stroke="#6d6965" stroke-width="0.5" stroke-opacity="0.75"/>
<circle cx="339.4" cy="284.2" r="5.6" fill="url(#bump)" stroke="#6d6965" stroke-width="0.5" stroke-opacity="0.75"/>
<circle cx="435.7" cy="290.9" r="5.4" fill="url(#bump)" stroke="#6d6965" stroke-width="0.5" stroke-opacity="0.75"/>
<circle cx="474.5" cy="264.7" r="6.0" fill="url(#bump)" stroke="#6d6965" stroke-width="0.5" stroke-opacity="0.75"/>
<circle cx="380.0" cy="302.0" r="6.5" fill="url(#bump)" stroke="#6d6965" stroke-width="0.5" stroke-opacity="0.75"/>
<circle cx="364.9" cy="292.6" r="7.1" fill="url(#bump)" stroke="#6d6965" stroke-width="0.5" stroke-opacity="0.75"/>
<circle cx="468.0" cy="296.5" r="7.1" fill="url(#bump)" stroke="#6d6965" stroke-width="0.5" stroke-opacity="0.75"/>
<circle cx="461.9" cy="300.3" r="4.6" fill="url(#bump)" stroke="#6d6965" stroke-width="0.5" stroke-opacity="0.75"/>
<circle cx="420.2" cy="331.9" r="7.1" fill="url(#bump)" stroke="#6d6965" stroke-width="0.5" stroke-opacity="0.75"/>
<circle cx="428.0" cy="306.3" r="6.5" fill="url(#bump)" stroke="#6d6965" stroke-width="0.5" stroke-opacity="0.75"/>
<circle cx="288.4" cy="278.1" r="7.0" fill="url(#bump)" stroke="#6d6965" stroke-width="0.5" stroke-opacity="0.75"/>
<circle cx="450.2" cy="252.7" r="4.4" fill="url(#bump)" stroke="#6d6965" stroke-width="0.5" stroke-opacity="0.75"/>
<circle cx="412.2" cy="317.7" r="4.9" fill="url(#bump)" stroke="#6d6965" stroke-width="0.5" stroke-opacity="0.75"/>
<circle cx="352.1" cy="271.9" r="5.5" fill="url(#bump)" stroke="#6d6965" stroke-width="0.5" stroke-opacity="0.75"/>
<circle cx="464.8" cy="265.3" r="6.5" fill="url(#bump)" stroke="#6d6965" stroke-width="0.5" stroke-opacity="0.75"/>
<circle cx="311.0" cy="266.7" r="7.1" fill="url(#bump)" stroke="#6d6965" stroke-width="0.5" stroke-opacity="0.75"/>
<circle cx="455.3" cy="291.4" r="6.1" fill="url(#bump)" stroke="#6d6965" stroke-width="0.5" stroke-opacity="0.75"/>
<circle cx="375.9" cy="310.5" r="4.6" fill="url(#bump)" stroke="#6d6965" stroke-width="0.5" stroke-opacity="0.75"/>
<circle cx="364.8" cy="307.0" r="6.1" fill="url(#bump)" stroke="#6d6965" stroke-width="0.5" stroke-opacity="0.75"/>
<circle cx="338.3" cy="309.2" r="4.8" fill="url(#bump)" stroke="#6d6965" stroke-width="0.5" stroke-opacity="0.75"/>
<circle cx="375.9" cy="339.0" r="7.1" fill="url(#bump)" stroke="#6d6965" stroke-width="0.5" stroke-opacity="0.75"/>
<circle cx="309.3" cy="295.6" r="6.5" fill="url(#bump)" stroke="#6d6965" stroke-width="0.5" stroke-opacity="0.75"/>
<circle cx="428.5" cy="309.5" r="6.3" fill="url(#bump)" stroke="#6d6965" stroke-width="0.5" stroke-opacity="0.75"/>
<circle cx="433.4" cy="276.8" r="6.0" fill="url(#bump)" stroke="#6d6965" stroke-width="0.5" stroke-opacity="0.75"/>
<circle cx="298.8" cy="263.3" r="4.6" fill="url(#bump)" stroke="#6d6965" stroke-width="0.5" stroke-opacity="0.75"/>
<circle cx="364.8" cy="324.8" r="5.3" fill="url(#bump)" stroke="#6d6965" stroke-width="0.5" stroke-opacity="0.75"/>
<circle cx="382.5" cy="298.0" r="6.2" fill="url(#bump)" stroke="#6d6965" stroke-width="0.5" stroke-opacity="0.75"/>
<circle cx="336.9" cy="330.8" r="4.9" fill="url(#bump)" stroke="#6d6965" stroke-width="0.5" stroke-opacity="0.75"/>
<circle cx="410.3" cy="287.1" r="4.3" fill="url(#bump)" stroke="#6d6965" stroke-width="0.5" stroke-opacity="0.75"/>
<circle cx="420.6" cy="319.3" r="5.6" fill="url(#bump)" stroke="#6d6965" stroke-width="0.5" stroke-opacity="0.75"/>
<circle cx="397.7" cy="333.3" r="6.4" fill="url(#bump)" stroke="#6d6965" stroke-width="0.5" stroke-opacity="0.75"/>
<circle cx="394.1" cy="336.0" r="5.7" fill="url(#bump)" stroke="#6d6965" stroke-width="0.5" stroke-opacity="0.75"/>
<circle cx="333.3" cy="276.3" r="4.4" fill="url(#bump)" stroke="#6d6965" stroke-width="0.5" stroke-opacity="0.75"/>
<circle cx="301.8" cy="310.3" r="5.4" fill="url(#bump)" stroke="#6d6965" stroke-width="0.5" stroke-opacity="0.75"/>
<circle cx="364.9" cy="278.0" r="4.7" fill="url(#bump)" stroke="#6d6965" stroke-width="0.5" stroke-opacity="0.75"/>
<circle cx="332.5" cy="323.7" r="6.8" fill="url(#bump)" stroke="#6d6965" stroke-width="0.5" stroke-opacity="0.75"/>
<circle cx="454.6" cy="362.4" r="4.4" fill="url(#bump)" stroke="#6d6965" stroke-width="0.5" stroke-opacity="0.75"/>
<circle cx="381.5" cy="290.9" r="4.7" fill="url(#bump)" stroke="#6d6965" stroke-width="0.5" stroke-opacity="0.75"/>
<circle cx="346.6" cy="363.1" r="5.5" fill="url(#bump)" stroke="#6d6965" stroke-width="0.5" stroke-opacity="0.75"/>
<circle cx="482.8" cy="286.6" r="4.2" fill="url(#bump)" stroke="#6d6965" stroke-width="0.5" stroke-opacity="0.75"/>
<circle cx="294.7" cy="300.3" r="6.4" fill="url(#bump)" stroke="#6d6965" stroke-width="0.5" stroke-opacity="0.75"/>
<circle cx="410.3" cy="304.2" r="5.7" fill="url(#bump)" stroke="#6d6965" stroke-width="0.5" stroke-opacity="0.75"/>
<circle cx="403.1" cy="333.0" r="5.2" fill="url(#bump)" stroke="#6d6965" stroke-width="0.5" stroke-opacity="0.75"/>
<circle cx="316.2" cy="335.1" r="5.0" fill="url(#bump)" stroke="#6d6965" stroke-width="0.5" stroke-opacity="0.75"/>
<circle cx="404.7" cy="356.6" r="6.8" fill="url(#bump)" stroke="#6d6965" stroke-width="0.5" stroke-opacity="0.75"/>
<circle cx="416.3" cy="296.4" r="6.6" fill="url(#bump)" stroke="#6d6965" stroke-width="0.5" stroke-opacity="0.75"/>
<circle cx="330.3" cy="286.0" r="7.1" fill="url(#bump)" stroke="#6d6965" stroke-width="0.5" stroke-opacity="0.75"/>
<circle cx="423.8" cy="321.9" r="4.2" fill="url(#bump)" stroke="#6d6965" stroke-width="0.5" stroke-opacity="0.75"/>
<circle cx="451.1" cy="263.0" r="5.9" fill="url(#bump)" stroke="#6d6965" stroke-width="0.5" stroke-opacity="0.75"/>
<circle cx="433.3" cy="359.1" r="5.4" fill="url(#bump)" stroke="#6d6965" stroke-width="0.5" stroke-opacity="0.75"/>
<circle cx="331.1" cy="365.7" r="6.6" fill="url(#bump)" stroke="#6d6965" stroke-width="0.5" stroke-opacity="0.75"/>
<circle cx="282.9" cy="290.7" r="5.5" fill="url(#bump)" stroke="#6d6965" stroke-width="0.5" stroke-opacity="0.75"/>
<circle cx="348.5" cy="306.8" r="5.0" fill="url(#bump)" stroke="#6d6965" stroke-width="0.5" stroke-opacity="0.75"/>
<circle cx="483.2" cy="300.1" r="6.9" fill="url(#bump)" stroke="#6d6965" stroke-width="0.5" stroke-opacity="0.75"/>
<circle cx="374.9" cy="315.4" r="6.7" fill="url(#bump)" stroke="#6d6965" stroke-width="0.5" stroke-opacity="0.75"/>
<circle cx="338.0" cy="265.8" r="5.8" fill="url(#bump)" stroke="#6d6965" stroke-width="0.5" stroke-opacity="0.75"/>
<circle cx="441.7" cy="317.9" r="4.3" fill="url(#bump)" stroke="#6d6965" stroke-width="0.5" stroke-opacity="0.75"/>
<circle cx="464.8" cy="317.2" r="7.1" fill="url(#bump)" stroke="#6d6965" stroke-width="0.5" stroke-opacity="0.75"/>
<circle cx="440.7" cy="343.8" r="5.6" fill="url(#bump)" stroke="#6d6965" stroke-width="0.5" stroke-opacity="0.75"/>
<circle cx="466.7" cy="289.9" r="5.0" fill="url(#bump)" stroke="#6d6965" stroke-width="0.5" stroke-opacity="0.75"/>
<circle cx="409.7" cy="289.8" r="4.5" fill="url(#bump)" stroke="#6d6965" stroke-width="0.5" stroke-opacity="0.75"/>
<circle cx="477.9" cy="304.6" r="6.3" fill="url(#bump)" stroke="#6d6965" stroke-width="0.5" stroke-opacity="0.75"/>
<circle cx="389.5" cy="316.8" r="5.5" fill="url(#bump)" stroke="#6d6965" stroke-width="0.5" stroke-opacity="0.75"/>
<circle cx="436.3" cy="284.9" r="7.1" fill="url(#bump)" stroke="#6d6965" stroke-width="0.5" stroke-opacity="0.75"/>
<circle cx="392.2" cy="296.7" r="6.2" fill="url(#bump)" stroke="#6d6965" stroke-width="0.5" stroke-opacity="0.75"/>
<circle cx="455.7" cy="260.9" r="7.1" fill="url(#bump)" stroke="#6d6965" stroke-width="0.5" stroke-opacity="0.75"/>
<circle cx="303.4" cy="267.1" r="6.6" fill="url(#bump)" stroke="#6d6965" stroke-width="0.5" stroke-opacity="0.75"/>
<circle cx="406.5" cy="350.4" r="4.8" fill="url(#bump)" stroke="#6d6965" stroke-width="0.5" stroke-opacity="0.75"/>
<circle cx="419.9" cy="344.0" r="5.1" fill="url(#bump)" stroke="#6d6965" stroke-width="0.5" stroke-opacity="0.75"/>
<circle cx="496.9" cy="332.7" r="6.9" fill="url(#bump)" stroke="#6d6965" stroke-width="0.5" stroke-opacity="0.75"/>
<circle cx="468.9" cy="273.8" r="5.0" fill="url(#bump)" stroke="#6d6965" stroke-width="0.5" stroke-opacity="0.75"/>
<circle cx="295.6" cy="279.9" r="5.5" fill="url(#bump)" stroke="#6d6965" stroke-width="0.5" stroke-opacity="0.75"/>
<circle cx="370.2" cy="282.3" r="4.4" fill="url(#bump)" stroke="#6d6965" stroke-width="0.5" stroke-opacity="0.75"/>
<circle cx="460.3" cy="256.9" r="4.9" fill="url(#bump)" stroke="#6d6965" stroke-width="0.5" stroke-opacity="0.75"/>
<circle cx="334.2" cy="317.3" r="6.7" fill="url(#bump)" stroke="#6d6965" stroke-width="0.5" stroke-opacity="0.75"/>
<circle cx="426.3" cy="275.8" r="4.3" fill="url(#bump)" stroke="#6d6965" stroke-width="0.5" stroke-opacity="0.75"/>
<circle cx="442.2" cy="279.5" r="6.2" fill="url(#bump)" stroke="#6d6965" stroke-width="0.5" stroke-opacity="0.75"/>
<circle cx="432.5" cy="317.4" r="4.5" fill="url(#bump)" stroke="#6d6965" stroke-width="0.5" stroke-opacity="0.75"/>
<circle cx="279.9" cy="279.4" r="5.9" fill="url(#bump)" stroke="#6d6965" stroke-width="0.5" stroke-opacity="0.75"/>
<circle cx="356.4" cy="316.5" r="6.4" fill="url(#bump)" stroke="#6d6965" stroke-width="0.5" stroke-opacity="0.75"/>
<circle cx="321.9" cy="332.1" r="4.2" fill="url(#bump)" stroke="#6d6965" stroke-width="0.5" stroke-opacity="0.75"/>
<circle cx="323.2" cy="296.1" r="5.0" fill="url(#bump)" stroke="#6d6965" stroke-width="0.5" stroke-opacity="0.75"/>
<circle cx="342.9" cy="292.7" r="6.1" fill="url(#bump)" stroke="#6d6965" stroke-width="0.5" stroke-opacity="0.75"/>
<circle cx="311.0" cy="343.3" r="4.8" fill="url(#bump)" stroke="#6d6965" stroke-width="0.5" stroke-opacity="0.75"/>
<circle cx="303.9" cy="290.2" r="5.7" fill="url(#bump)" stroke="#6d6965" stroke-width="0.5" stroke-opacity="0.75"/>
<circle cx="345.5" cy="264.7" r="6.8" fill="url(#bump)" stroke="#6d6965" stroke-width="0.5" stroke-opacity="0.75"/>
<circle cx="481.8" cy="269.8" r="4.4" fill="url(#bump)" stroke="#6d6965" stroke-width="0.5" stroke-opacity="0.75"/>
<circle cx="467.0" cy="256.9" r="6.1" fill="url(#bump)" stroke="#6d6965" stroke-width="0.5" stroke-opacity="0.75"/>
<circle cx="298.2" cy="331.0" r="6.1" fill="url(#bump)" stroke="#6d6965" stroke-width="0.5" stroke-opacity="0.75"/>
<circle cx="461.7" cy="348.3" r="4.2" fill="url(#bump)" stroke="#6d6965" stroke-width="0.5" stroke-opacity="0.75"/>
<circle cx="448.0" cy="305.9" r="4.9" fill="url(#bump)" stroke="#6d6965" stroke-width="0.5" stroke-opacity="0.75"/>
<circle cx="328.3" cy="263.1" r="4.2" fill="url(#bump)" stroke="#6d6965" stroke-width="0.5" stroke-opacity="0.75"/>
<circle cx="470.0" cy="358.6" r="6.9" fill="url(#bump)" stroke="#6d6965" stroke-width="0.5" stroke-opacity="0.75"/>
<circle cx="314.3" cy="286.0" r="5.0" fill="url(#bump)" stroke="#6d6965" stroke-width="0.5" stroke-opacity="0.75"/>
<circle cx="431.6" cy="269.5" r="4.4" fill="url(#bump)" stroke="#6d6965" stroke-width="0.5" stroke-opacity="0.75"/>
<circle cx="296.0" cy="322.9" r="5.0" fill="url(#bump)" stroke="#6d6965" stroke-width="0.5" stroke-opacity="0.75"/>
<circle cx="349.5" cy="311.6" r="7.0" fill="url(#bump)" stroke="#6d6965" stroke-width="0.5" stroke-opacity="0.75"/>
<circle cx="319.6" cy="279.9" r="6.3" fill="url(#bump)" stroke="#6d6965" stroke-width="0.5" stroke-opacity="0.75"/>
<circle cx="353.9" cy="313.1" r="5.5" fill="url(#bump)" stroke="#6d6965" stroke-width="0.5" stroke-opacity="0.75"/>
<circle cx="408.4" cy="324.0" r="5.7" fill="url(#bump)" stroke="#6d6965" stroke-width="0.5" stroke-opacity="0.75"/>
<circle cx="441.1" cy="265.1" r="5.9" fill="url(#bump)" stroke="#6d6965" stroke-width="0.5" stroke-opacity="0.75"/>
<circle cx="356.0" cy="352.4" r="6.1" fill="url(#bump)" stroke="#6d6965" stroke-width="0.5" stroke-opacity="0.75"/>
<circle cx="294.5" cy="285.7" r="5.7" fill="url(#bump)" stroke="#6d6965" stroke-width="0.5" stroke-opacity="0.75"/>
<circle cx="497.7" cy="326.5" r="4.3" fill="url(#bump)" stroke="#6d6965" stroke-width="0.5" stroke-opacity="0.75"/>
<circle cx="469.8" cy="309.7" r="4.2" fill="url(#bump)" stroke="#6d6965" stroke-width="0.5" stroke-opacity="0.75"/>
<circle cx="292.5" cy="309.4" r="6.9" fill="url(#bump)" stroke="#6d6965" stroke-width="0.5" stroke-opacity="0.75"/>
<circle cx="388.9" cy="357.3" r="6.9" fill="url(#bump)" stroke="#6d6965" stroke-width="0.5" stroke-opacity="0.75"/>
<circle cx="444.7" cy="300.4" r="5.7" fill="url(#bump)" stroke="#6d6965" stroke-width="0.5" stroke-opacity="0.75"/>
<circle cx="422.7" cy="283.6" r="4.8" fill="url(#bump)" stroke="#6d6965" stroke-width="0.5" stroke-opacity="0.75"/>
<circle cx="474.3" cy="271.7" r="4.9" fill="url(#bump)" stroke="#6d6965" stroke-width="0.5" stroke-opacity="0.75"/>
<circle cx="466.0" cy="284.8" r="5.6" fill="url(#bump)" stroke="#6d6965" stroke-width="0.5" stroke-opacity="0.75"/>
<circle cx="336.7" cy="289.1" r="6.4" fill="url(#bump)" stroke="#6d6965" stroke-width="0.5" stroke-opacity="0.75"/>
<circle cx="455.4" cy="285.9" r="4.9" fill="url(#bump)" stroke="#6d6965" stroke-width="0.5" stroke-opacity="0.75"/>
<circle cx="299.3" cy="290.3" r="7.0" fill="url(#bump)" stroke="#6d6965" stroke-width="0.5" stroke-opacity="0.75"/>
<circle cx="459.2" cy="322.3" r="6.1" fill="url(#bump)" stroke="#6d6965" stroke-width="0.5" stroke-opacity="0.75"/>
<circle cx="351.1" cy="358.3" r="6.7" fill="url(#bump)" stroke="#6d6965" stroke-width="0.5" stroke-opacity="0.75"/>
<circle cx="466.2" cy="343.6" r="5.7" fill="url(#bump)" stroke="#6d6965" stroke-width="0.5" stroke-opacity="0.75"/>
<circle cx="311.8" cy="328.7" r="6.9" fill="url(#bump)" stroke="#6d6965" stroke-width="0.5" stroke-opacity="0.75"/>
<circle cx="315.2" cy="300.2" r="6.1" fill="url(#bump)" stroke="#6d6965" stroke-width="0.5" stroke-opacity="0.75"/>
<circle cx="306.8" cy="329.3" r="5.1" fill="url(#bump)" stroke="#6d6965" stroke-width="0.5" stroke-opacity="0.75"/>
<circle cx="323.1" cy="338.7" r="5.3" fill="url(#bump)" stroke="#6d6965" stroke-width="0.5" stroke-opacity="0.75"/>
<circle cx="448.2" cy="310.2" r="5.9" fill="url(#bump)" stroke="#6d6965" stroke-width="0.5" stroke-opacity="0.75"/>
<circle cx="443.5" cy="352.5" r="6.9" fill="url(#bump)" stroke="#6d6965" stroke-width="0.5" stroke-opacity="0.75"/>
<circle cx="318.6" cy="274.0" r="4.9" fill="url(#bump)" stroke="#6d6965" stroke-width="0.5" stroke-opacity="0.75"/>
<circle cx="487.3" cy="303.2" r="5.5" fill="url(#bump)" stroke="#6d6965" stroke-width="0.5" stroke-opacity="0.75"/>
<circle cx="366.3" cy="330.7" r="6.6" fill="url(#bump)" stroke="#6d6965" stroke-width="0.5" stroke-opacity="0.75"/>
<circle cx="451.2" cy="273.5" r="4.4" fill="url(#bump)" stroke="#6d6965" stroke-width="0.5" stroke-opacity="0.75"/>
<circle cx="330.4" cy="342.1" r="5.4" fill="url(#bump)" stroke="#6d6965" stroke-width="0.5" stroke-opacity="0.75"/>
<circle cx="490.1" cy="317.8" r="7.1" fill="url(#bump)" stroke="#6d6965" stroke-width="0.5" stroke-opacity="0.75"/>
<circle cx="340.6" cy="359.2" r="5.6" fill="url(#bump)" stroke="#6d6965" stroke-width="0.5" stroke-opacity="0.75"/>
<circle cx="303.2" cy="261.0" r="5.6" fill="url(#bump)" stroke="#6d6965" stroke-width="0.5" stroke-opacity="0.75"/>
<circle cx="427.5" cy="342.1" r="5.5" fill="url(#bump)" stroke="#6d6965" stroke-width="0.5" stroke-opacity="0.75"/>
<circle cx="302.2" cy="299.4" r="5.6" fill="url(#bump)" stroke="#6d6965" stroke-width="0.5" stroke-opacity="0.75"/>
<circle cx="311.2" cy="290.7" r="7.1" fill="url(#bump)" stroke="#6d6965" stroke-width="0.5" stroke-opacity="0.75"/>
<circle cx="301.4" cy="323.5" r="4.3" fill="url(#bump)" stroke="#6d6965" stroke-width="0.5" stroke-opacity="0.75"/>
<circle cx="437.7" cy="310.1" r="5.1" fill="url(#bump)" stroke="#6d6965" stroke-width="0.5" stroke-opacity="0.75"/>
<circle cx="292.5" cy="269.4" r="6.2" fill="url(#bump)" stroke="#6d6965" stroke-width="0.5" stroke-opacity="0.75"/>
<circle cx="412.8" cy="352.0" r="5.0" fill="url(#bump)" stroke="#6d6965" stroke-width="0.5" stroke-opacity="0.75"/>
<circle cx="379.1" cy="352.4" r="5.6" fill="url(#bump)" stroke="#6d6965" stroke-width="0.5" stroke-opacity="0.75"/>
<circle cx="314.1" cy="350.4" r="5.5" fill="url(#bump)" stroke="#6d6965" stroke-width="0.5" stroke-opacity="0.75"/>
<circle cx="288.8" cy="289.1" r="4.5" fill="url(#bump)" stroke="#6d6965" stroke-width="0.5" stroke-opacity="0.75"/>
<circle cx="383.5" cy="309.9" r="6.0" fill="url(#bump)" stroke="#6d6965" stroke-width="0.5" stroke-opacity="0.75"/>
<circle cx="378.7" cy="322.1" r="6.7" fill="url(#bump)" stroke="#6d6965" stroke-width="0.5" stroke-opacity="0.75"/>
<circle cx="436.3" cy="330.7" r="6.4" fill="url(#bump)" stroke="#6d6965" stroke-width="0.5" stroke-opacity="0.75"/>
<circle cx="383.6" cy="329.5" r="6.8" fill="url(#bump)" stroke="#6d6965" stroke-width="0.5" stroke-opacity="0.75"/>
<circle cx="448.1" cy="272.3" r="6.6" fill="url(#bump)" stroke="#6d6965" stroke-width="0.5" stroke-opacity="0.75"/>
<circle cx="360.2" cy="332.1" r="5.0" fill="url(#bump)" stroke="#6d6965" stroke-width="0.5" stroke-opacity="0.75"/>
<circle cx="454.9" cy="302.2" r="5.9" fill="url(#bump)" stroke="#6d6965" stroke-width="0.5" stroke-opacity="0.75"/>
<circle cx="429.8" cy="322.4" r="5.3" fill="url(#bump)" stroke="#6d6965" stroke-width="0.5" stroke-opacity="0.75"/>
<circle cx="410.2" cy="333.1" r="6.1" fill="url(#bump)" stroke="#6d6965" stroke-width="0.5" stroke-opacity="0.75"/>
<circle cx="379.8" cy="299.1" r="5.1" fill="url(#bump)" stroke="#6d6965" stroke-width="0.5" stroke-opacity="0.75"/>
<circle cx="287.9" cy="285.1" r="6.1" fill="url(#bump)" stroke="#6d6965" stroke-width="0.5" stroke-opacity="0.75"/>
<circle cx="500.5" cy="332.9" r="6.9" fill="url(#bump)" stroke="#6d6965" stroke-width="0.5" stroke-opacity="0.75"/>
<circle cx="481.2" cy="279.8" r="4.6" fill="url(#bump)" stroke="#6d6965" stroke-width="0.5" stroke-opacity="0.75"/>
<circle cx="436.8" cy="296.6" r="6.5" fill="url(#bump)" stroke="#6d6965" stroke-width="0.5" stroke-opacity="0.75"/>
<circle cx="434.3" cy="266.2" r="5.9" fill="url(#bump)" stroke="#6d6965" stroke-width="0.5" stroke-opacity="0.75"/>
<circle cx="353.8" cy="338.7" r="5.8" fill="url(#bump)" stroke="#6d6965" stroke-width="0.5" stroke-opacity="0.75"/>
<circle cx="322.0" cy="283.6" r="6.4" fill="url(#bump)" stroke="#6d6965" stroke-width="0.5" stroke-opacity="0.75"/>
<circle cx="344.9" cy="316.2" r="4.9" fill="url(#bump)" stroke="#6d6965" stroke-width="0.5" stroke-opacity="0.75"/>
<circle cx="352.1" cy="297.0" r="5.6" fill="url(#bump)" stroke="#6d6965" stroke-width="0.5" stroke-opacity="0.75"/>
<circle cx="332.5" cy="299.0" r="4.5" fill="url(#bump)" stroke="#6d6965" stroke-width="0.5" stroke-opacity="0.75"/>
<circle cx="359.7" cy="306.7" r="5.2" fill="url(#bump)" stroke="#6d6965" stroke-width="0.5" stroke-opacity="0.75"/>
<circle cx="298.4" cy="254.4" r="6.7" fill="url(#bump)" stroke="#6d6965" stroke-width="0.5" stroke-opacity="0.75"/>
<circle cx="424.2" cy="298.0" r="4.8" fill="url(#bump)" stroke="#6d6965" stroke-width="0.5" stroke-opacity="0.75"/>
<circle cx="335.6" cy="357.6" r="6.8" fill="url(#bump)" stroke="#6d6965" stroke-width="0.5" stroke-opacity="0.75"/>
<circle cx="425.5" cy="291.8" r="6.9" fill="url(#bump)" stroke="#6d6965" stroke-width="0.5" stroke-opacity="0.75"/>
<circle cx="421.0" cy="338.3" r="4.4" fill="url(#bump)" stroke="#6d6965" stroke-width="0.5" stroke-opacity="0.75"/>
<circle cx="346.4" cy="349.3" r="4.6" fill="url(#bump)" stroke="#6d6965" stroke-width="0.5" stroke-opacity="0.75"/>
<circle cx="406.8" cy="309.7" r="6.6" fill="url(#bump)" stroke="#6d6965" stroke-width="0.5" stroke-opacity="0.75"/>
<circle cx="361.0" cy="312.6" r="7.0" fill="url(#bump)" stroke="#6d6965" stroke-width="0.5" stroke-opacity="0.75"/>
<circle cx="482.4" cy="293.2" r="6.8" fill="url(#bump)" stroke="#6d6965" stroke-width="0.5" stroke-opacity="0.75"/>
<circle cx="368.1" cy="315.4" r="5.9" fill="url(#bump)" stroke="#6d6965" stroke-width="0.5" stroke-opacity="0.75"/>
<circle cx="346.5" cy="337.3" r="6.5" fill="url(#bump)" stroke="#6d6965" stroke-width="0.5" stroke-opacity="0.75"/>
<circle cx="314.5" cy="304.2" r="4.3" fill="url(#bump)" stroke="#6d6965" stroke-width="0.5" stroke-opacity="0.75"/>
<circle cx="430.2" cy="351.5" r="6.2" fill="url(#bump)" stroke="#6d6965" stroke-width="0.5" stroke-opacity="0.75"/>
<circle cx="298.8" cy="286.3" r="6.4" fill="url(#bump)" stroke="#6d6965" stroke-width="0.5" stroke-opacity="0.75"/>
<circle cx="446.8" cy="260.8" r="5.5" fill="url(#bump)" stroke="#6d6965" stroke-width="0.5" stroke-opacity="0.75"/>
<circle cx="438.9" cy="336.8" r="5.4" fill="url(#bump)" stroke="#6d6965" stroke-width="0.5" stroke-opacity="0.75"/>
<circle cx="474.1" cy="348.9" r="4.9" fill="url(#bump)" stroke="#6d6965" stroke-width="0.5" stroke-opacity="0.75"/>
<circle cx="384.7" cy="361.5" r="5.4" fill="url(#bump)" stroke="#6d6965" stroke-width="0.5" stroke-opacity="0.75"/>
<circle cx="412.6" cy="346.0" r="6.2" fill="url(#bump)" stroke="#6d6965" stroke-width="0.5" stroke-opacity="0.75"/>
<circle cx="499.8" cy="338.9" r="4.7" fill="url(#bump)" stroke="#6d6965" stroke-width="0.5" stroke-opacity="0.75"/>
<circle cx="310.1" cy="272.4" r="4.6" fill="url(#bump)" stroke="#6d6965" stroke-width="0.5" stroke-opacity="0.75"/>
<circle cx="405.4" cy="297.2" r="5.5" fill="url(#bump)" stroke="#6d6965" stroke-width="0.5" stroke-opacity="0.75"/>
<circle cx="451.8" cy="296.6" r="5.5" fill="url(#bump)" stroke="#6d6965" stroke-width="0.5" stroke-opacity="0.75"/>
<circle cx="406.4" cy="307.0" r="5.4" fill="url(#bump)" stroke="#6d6965" stroke-width="0.5" stroke-opacity="0.75"/>
<circle cx="485.3" cy="331.5" r="5.3" fill="url(#bump)" stroke="#6d6965" stroke-width="0.5" stroke-opacity="0.75"/>
<circle cx="369.7" cy="296.6" r="4.9" fill="url(#bump)" stroke="#6d6965" stroke-width="0.5" stroke-opacity="0.75"/>
<circle cx="458.6" cy="317.9" r="4.4" fill="url(#bump)" stroke="#6d6965" stroke-width="0.5" stroke-opacity="0.75"/>
<circle cx="399.3" cy="312.1" r="4.8" fill="url(#bump)" stroke="#6d6965" stroke-width="0.5" stroke-opacity="0.75"/>
<circle cx="344.9" cy="327.0" r="6.1" fill="url(#bump)" stroke="#6d6965" stroke-width="0.5" stroke-opacity="0.75"/>
<circle cx="319.8" cy="319.9" r="6.1" fill="url(#bump)" stroke="#6d6965" stroke-width="0.5" stroke-opacity="0.75"/>
<circle cx="322.9" cy="345.4" r="4.5" fill="url(#bump)" stroke="#6d6965" stroke-width="0.5" stroke-opacity="0.75"/>
<circle cx="348.0" cy="286.2" r="6.1" fill="url(#bump)" stroke="#6d6965" stroke-width="0.5" stroke-opacity="0.75"/>
<circle cx="380.7" cy="345.5" r="6.9" fill="url(#bump)" stroke="#6d6965" stroke-width="0.5" stroke-opacity="0.75"/>
<circle cx="311.6" cy="311.2" r="4.9" fill="url(#bump)" stroke="#6d6965" stroke-width="0.5" stroke-opacity="0.75"/>
<circle cx="359.3" cy="277.1" r="4.9" fill="url(#bump)" stroke="#6d6965" stroke-width="0.5" stroke-opacity="0.75"/>
<circle cx="276.7" cy="284.1" r="4.5" fill="url(#bump)" stroke="#6d6965" stroke-width="0.5" stroke-opacity="0.75"/>
<circle cx="360.9" cy="286.1" r="5.1" fill="url(#bump)" stroke="#6d6965" stroke-width="0.5" stroke-opacity="0.75"/>
<circle cx="330.4" cy="352.1" r="7.0" fill="url(#bump)" stroke="#6d6965" stroke-width="0.5" stroke-opacity="0.75"/>
<circle cx="317.5" cy="326.5" r="4.7" fill="url(#bump)" stroke="#6d6965" stroke-width="0.5" stroke-opacity="0.75"/>
<circle cx="403.7" cy="317.5" r="4.3" fill="url(#bump)" stroke="#6d6965" stroke-width="0.5" stroke-opacity="0.75"/>
<circle cx="371.1" cy="358.0" r="6.2" fill="url(#bump)" stroke="#6d6965" stroke-width="0.5" stroke-opacity="0.75"/>
<circle cx="310.3" cy="336.1" r="5.2" fill="url(#bump)" stroke="#6d6965" stroke-width="0.5" stroke-opacity="0.75"/>
<circle cx="333.6" cy="313.4" r="4.3" fill="url(#bump)" stroke="#6d6965" stroke-width="0.5" stroke-opacity="0.75"/>
<circle cx="333.2" cy="304.1" r="6.6" fill="url(#bump)" stroke="#6d6965" stroke-width="0.5" stroke-opacity="0.75"/>
<circle cx="302.9" cy="273.7" r="4.7" fill="url(#bump)" stroke="#6d6965" stroke-width="0.5" stroke-opacity="0.75"/>
<circle cx="445.3" cy="339.6" r="4.5" fill="url(#bump)" stroke="#6d6965" stroke-width="0.5" stroke-opacity="0.75"/>
<circle cx="383.7" cy="325.1" r="7.2" fill="url(#bump)" stroke="#6d6965" stroke-width="0.5" stroke-opacity="0.75"/>
<circle cx="355.3" cy="282.6" r="4.6" fill="url(#bump)" stroke="#6d6965" stroke-width="0.5" stroke-opacity="0.75"/>
<circle cx="413.9" cy="338.6" r="5.7" fill="url(#bump)" stroke="#6d6965" stroke-width="0.5" stroke-opacity="0.75"/>
<circle cx="383.4" cy="356.5" r="7.1" fill="url(#bump)" stroke="#6d6965" stroke-width="0.5" stroke-opacity="0.75"/>
<circle cx="436.1" cy="365.9" r="4.6" fill="url(#bump)" stroke="#6d6965" stroke-width="0.5" stroke-opacity="0.75"/>
<circle cx="320.3" cy="303.9" r="7.0" fill="url(#bump)" stroke="#6d6965" stroke-width="0.5" stroke-opacity="0.75"/>
<circle cx="415.6" cy="308.9" r="4.5" fill="url(#bump)" stroke="#6d6965" stroke-width="0.5" stroke-opacity="0.75"/>
<circle cx="378.9" cy="274.1" r="4.5" fill="url(#bump)" stroke="#6d6965" stroke-width="0.5" stroke-opacity="0.75"/>
</g>
<ellipse cx="469" cy="345.5" rx="4" ry="2.3" fill="#fbfaf8"/>
<path d="M391,333 L404,332 L402.7,339 L403.5,346 L405.5,352 L408,358 L412,361 L412,366 L388,366 L390.3,356.4 L390.3,350.6 L389.6,341.9 Z" fill="#fbfaf8"/>
<defs><radialGradient id="bb" cx="0.4" cy="0.38" r="0.6"><stop offset="0" stop-color="#2f38a2"/><stop offset="0.6" stop-color="#252b8b"/><stop offset="1" stop-color="#21277f"/></radialGradient><radialGradient id="cb" cx="0.4" cy="0.38" r="0.6"><stop offset="0" stop-color="#5fcdd0"/><stop offset="0.6" stop-color="#41b8bc"/><stop offset="1" stop-color="#2e9ca0"/></radialGradient></defs>
<clipPath id="bc0"><path d="M338.5,275.8 C339.7,273.6 342.5,275.2 345.2,275.1 C347.9,275.0 349.2,275.2 351.9,275.1 C354.6,275.0 356.7,274.3 358.6,274.4 C360.5,274.5 360.5,275.0 361.3,275.8 C362.1,276.6 361.9,277.2 362.7,278.5 C363.5,279.8 364.1,281.4 365.4,282.3 C366.7,283.2 367.3,283.2 369.4,283.2 C371.5,283.2 373.4,282.4 376.1,282.5 C378.8,282.6 380.7,282.7 382.9,283.8 C385.1,284.9 385.8,286.0 386.9,287.9 C388.0,289.8 388.2,291.2 388.3,293.3 C388.4,295.4 389.0,297.2 387.5,298.6 C386.0,300.0 383.2,299.6 380.7,300.4 C378.2,301.2 376.6,301.1 374.9,302.4 C373.2,303.7 373.6,304.9 372.4,306.8 C371.2,308.7 370.5,309.9 369.1,311.7 C367.7,313.5 366.8,314.1 365.2,316.0 C363.6,317.9 362.7,319.1 361.3,321.4 C359.9,323.7 360.0,325.5 358.4,327.3 C356.8,329.1 355.5,329.4 353.5,330.2 C351.5,331.0 350.2,331.3 348.6,331.1 C347.0,330.9 346.7,329.0 345.7,329.2 C344.7,329.4 345.2,330.7 343.8,332.1 C342.4,333.5 341.2,334.9 338.9,336.0 C336.6,337.1 334.6,337.4 332.1,337.4 C329.6,337.4 328.1,337.3 326.3,336.0 C324.5,334.7 324.3,333.6 323.3,331.1 C322.3,328.6 322.4,325.7 321.4,323.4 C320.4,321.1 320.1,320.5 318.5,319.5 C316.9,318.5 315.2,319.3 313.6,318.5 C312.0,317.7 311.1,316.8 310.7,315.6 C310.3,314.4 309.9,313.7 311.7,312.7 C313.5,311.7 316.2,311.9 319.5,310.7 C322.8,309.5 325.1,308.5 328.2,306.8 C331.3,305.1 333.0,304.4 335.0,302.0 C337.0,299.6 337.2,298.2 338.0,295.0 C338.8,291.8 338.9,289.8 339.0,286.0 C339.1,282.2 337.3,278.0 338.5,275.8 Z"/></clipPath>
<path d="M338.5,275.8 C339.7,273.6 342.5,275.2 345.2,275.1 C347.9,275.0 349.2,275.2 351.9,275.1 C354.6,275.0 356.7,274.3 358.6,274.4 C360.5,274.5 360.5,275.0 361.3,275.8 C362.1,276.6 361.9,277.2 362.7,278.5 C363.5,279.8 364.1,281.4 365.4,282.3 C366.7,283.2 367.3,283.2 369.4,283.2 C371.5,283.2 373.4,282.4 376.1,282.5 C378.8,282.6 380.7,282.7 382.9,283.8 C385.1,284.9 385.8,286.0 386.9,287.9 C388.0,289.8 388.2,291.2 388.3,293.3 C388.4,295.4 389.0,297.2 387.5,298.6 C386.0,300.0 383.2,299.6 380.7,300.4 C378.2,301.2 376.6,301.1 374.9,302.4 C373.2,303.7 373.6,304.9 372.4,306.8 C371.2,308.7 370.5,309.9 369.1,311.7 C367.7,313.5 366.8,314.1 365.2,316.0 C363.6,317.9 362.7,319.1 361.3,321.4 C359.9,323.7 360.0,325.5 358.4,327.3 C356.8,329.1 355.5,329.4 353.5,330.2 C351.5,331.0 350.2,331.3 348.6,331.1 C347.0,330.9 346.7,329.0 345.7,329.2 C344.7,329.4 345.2,330.7 343.8,332.1 C342.4,333.5 341.2,334.9 338.9,336.0 C336.6,337.1 334.6,337.4 332.1,337.4 C329.6,337.4 328.1,337.3 326.3,336.0 C324.5,334.7 324.3,333.6 323.3,331.1 C322.3,328.6 322.4,325.7 321.4,323.4 C320.4,321.1 320.1,320.5 318.5,319.5 C316.9,318.5 315.2,319.3 313.6,318.5 C312.0,317.7 311.1,316.8 310.7,315.6 C310.3,314.4 309.9,313.7 311.7,312.7 C313.5,311.7 316.2,311.9 319.5,310.7 C322.8,309.5 325.1,308.5 328.2,306.8 C331.3,305.1 333.0,304.4 335.0,302.0 C337.0,299.6 337.2,298.2 338.0,295.0 C338.8,291.8 338.9,289.8 339.0,286.0 C339.1,282.2 337.3,278.0 338.5,275.8 Z" fill="#232a88"/>
<g clip-path="url(#bc0)"><circle cx="309.9" cy="273.6" r="5.1" fill="url(#bb)"/><circle cx="321.0" cy="271.7" r="5.5" fill="url(#bb)"/><circle cx="324.3" cy="271.9" r="7.5" fill="url(#bb)"/><circle cx="332.4" cy="271.0" r="7.1" fill="url(#bb)"/><circle cx="341.9" cy="270.5" r="6.8" fill="url(#bb)"/><circle cx="352.7" cy="273.5" r="7.1" fill="url(#bb)"/><circle cx="358.3" cy="275.6" r="7.2" fill="url(#bb)"/><circle cx="366.5" cy="271.1" r="6.5" fill="url(#bb)"/><circle cx="377.7" cy="272.1" r="5.4" fill="url(#bb)"/><circle cx="385.6" cy="271.2" r="6.8" fill="url(#bb)"/><circle cx="311.9" cy="278.8" r="6.7" fill="url(#bb)"/><circle cx="319.7" cy="278.9" r="7.5" fill="url(#bb)"/><circle cx="329.3" cy="280.2" r="6.3" fill="url(#bb)"/><circle cx="337.2" cy="281.1" r="6.2" fill="url(#bb)"/><circle cx="346.3" cy="282.6" r="6.0" fill="url(#bb)"/><circle cx="350.6" cy="279.9" r="6.3" fill="url(#bb)"/><circle cx="363.6" cy="282.7" r="7.7" fill="url(#bb)"/><circle cx="371.1" cy="283.0" r="5.2" fill="url(#bb)"/><circle cx="377.8" cy="283.6" r="7.8" fill="url(#bb)"/><circle cx="384.7" cy="280.4" r="6.9" fill="url(#bb)"/><circle cx="308.9" cy="288.6" r="5.2" fill="url(#bb)"/><circle cx="317.8" cy="288.4" r="5.1" fill="url(#bb)"/><circle cx="324.5" cy="291.2" r="7.3" fill="url(#bb)"/><circle cx="337.8" cy="289.2" r="7.4" fill="url(#bb)"/><circle cx="346.0" cy="290.7" r="5.1" fill="url(#bb)"/><circle cx="353.0" cy="287.0" r="7.0" fill="url(#bb)"/><circle cx="359.3" cy="288.7" r="7.8" fill="url(#bb)"/><circle cx="369.9" cy="286.9" r="6.6" fill="url(#bb)"/><circle cx="377.3" cy="291.1" r="5.9" fill="url(#bb)"/><circle cx="385.0" cy="289.3" r="5.4" fill="url(#bb)"/><circle cx="310.3" cy="298.6" r="6.5" fill="url(#bb)"/><circle cx="316.8" cy="295.7" r="6.6" fill="url(#bb)"/><circle cx="324.6" cy="293.6" r="5.4" fill="url(#bb)"/><circle cx="334.0" cy="295.3" r="5.9" fill="url(#bb)"/><circle cx="342.2" cy="293.4" r="6.6" fill="url(#bb)"/><circle cx="354.2" cy="296.6" r="6.7" fill="url(#bb)"/><circle cx="361.6" cy="294.1" r="7.1" fill="url(#bb)"/><circle cx="369.0" cy="296.2" r="6.8" fill="url(#bb)"/><circle cx="377.5" cy="294.8" r="5.7" fill="url(#bb)"/><circle cx="384.5" cy="296.0" r="6.1" fill="url(#bb)"/><circle cx="310.2" cy="300.5" r="6.1" fill="url(#bb)"/><circle cx="320.4" cy="301.8" r="6.7" fill="url(#bb)"/><circle cx="326.6" cy="302.1" r="8.0" fill="url(#bb)"/><circle cx="334.0" cy="305.0" r="5.5" fill="url(#bb)"/><circle cx="341.1" cy="305.6" r="6.3" fill="url(#bb)"/><circle cx="349.6" cy="302.7" r="6.3" fill="url(#bb)"/><circle cx="362.1" cy="301.1" r="5.7" fill="url(#bb)"/><circle cx="372.0" cy="304.8" r="5.5" fill="url(#bb)"/><circle cx="376.7" cy="302.5" r="7.0" fill="url(#bb)"/><circle cx="386.9" cy="305.5" r="7.5" fill="url(#bb)"/><circle cx="309.8" cy="312.3" r="7.2" fill="url(#bb)"/><circle cx="319.8" cy="310.8" r="7.4" fill="url(#bb)"/><circle cx="328.0" cy="313.4" r="5.4" fill="url(#bb)"/><circle cx="337.4" cy="307.9" r="7.3" fill="url(#bb)"/><circle cx="344.2" cy="310.9" r="7.9" fill="url(#bb)"/><circle cx="352.6" cy="310.4" r="7.4" fill="url(#bb)"/><circle cx="362.9" cy="311.5" r="6.1" fill="url(#bb)"/><circle cx="368.9" cy="310.6" r="7.2" fill="url(#bb)"/><circle cx="376.5" cy="310.2" r="6.7" fill="url(#bb)"/><circle cx="385.5" cy="309.8" r="7.4" fill="url(#bb)"/><circle cx="311.8" cy="318.4" r="6.3" fill="url(#bb)"/><circle cx="316.3" cy="317.2" r="5.4" fill="url(#bb)"/><circle cx="327.2" cy="318.9" r="5.3" fill="url(#bb)"/><circle cx="337.7" cy="317.3" r="7.5" fill="url(#bb)"/><circle cx="345.7" cy="321.2" r="5.6" fill="url(#bb)"/><circle cx="351.8" cy="320.9" r="5.0" fill="url(#bb)"/><circle cx="358.0" cy="318.8" r="6.5" fill="url(#bb)"/><circle cx="371.7" cy="320.0" r="6.6" fill="url(#bb)"/><circle cx="380.7" cy="318.5" r="6.6" fill="url(#bb)"/><circle cx="387.3" cy="317.7" r="6.1" fill="url(#bb)"/><circle cx="310.3" cy="325.0" r="7.8" fill="url(#bb)"/><circle cx="319.3" cy="326.1" r="5.3" fill="url(#bb)"/><circle cx="325.9" cy="325.3" r="6.7" fill="url(#bb)"/><circle cx="335.6" cy="328.2" r="7.9" fill="url(#bb)"/><circle cx="343.6" cy="325.5" r="6.9" fill="url(#bb)"/><circle cx="355.2" cy="325.0" r="6.6" fill="url(#bb)"/><circle cx="362.6" cy="323.9" r="6.0" fill="url(#bb)"/><circle cx="372.1" cy="327.9" r="6.5" fill="url(#bb)"/><circle cx="375.4" cy="328.3" r="7.1" fill="url(#bb)"/><circle cx="388.1" cy="328.8" r="7.7" fill="url(#bb)"/><circle cx="309.2" cy="331.3" r="5.9" fill="url(#bb)"/><circle cx="318.3" cy="333.4" r="5.6" fill="url(#bb)"/><circle cx="324.8" cy="334.2" r="6.8" fill="url(#bb)"/><circle cx="334.3" cy="336.4" r="6.9" fill="url(#bb)"/><circle cx="341.0" cy="332.9" r="7.4" fill="url(#bb)"/><circle cx="351.0" cy="334.5" r="5.0" fill="url(#bb)"/><circle cx="359.5" cy="335.5" r="6.8" fill="url(#bb)"/><circle cx="370.2" cy="331.6" r="6.5" fill="url(#bb)"/><circle cx="378.0" cy="332.0" r="6.9" fill="url(#bb)"/><circle cx="386.4" cy="336.4" r="6.7" fill="url(#bb)"/></g>
<clipPath id="bc1"><path d="M458.6,283.5 C460.2,280.4 463.5,282.5 466.8,282.3 C470.1,282.1 472.2,281.7 475.3,282.5 C478.4,283.3 480.0,284.3 482.1,286.2 C484.2,288.1 485.1,289.7 485.6,292.1 C486.1,294.5 486.1,296.5 484.7,298.1 C483.3,299.7 481.6,299.5 478.7,300.0 C475.8,300.5 473.3,300.1 470.2,300.5 C467.1,300.9 465.3,302.5 463.0,302.0 C460.7,301.5 459.5,301.7 458.6,298.0 C457.7,294.3 457.0,286.6 458.6,283.5 Z"/></clipPath>
<path d="M458.6,283.5 C460.2,280.4 463.5,282.5 466.8,282.3 C470.1,282.1 472.2,281.7 475.3,282.5 C478.4,283.3 480.0,284.3 482.1,286.2 C484.2,288.1 485.1,289.7 485.6,292.1 C486.1,294.5 486.1,296.5 484.7,298.1 C483.3,299.7 481.6,299.5 478.7,300.0 C475.8,300.5 473.3,300.1 470.2,300.5 C467.1,300.9 465.3,302.5 463.0,302.0 C460.7,301.5 459.5,301.7 458.6,298.0 C457.7,294.3 457.0,286.6 458.6,283.5 Z" fill="#232a88"/>
<g clip-path="url(#bc1)"><circle cx="457.1" cy="279.0" r="5.5" fill="url(#bb)"/><circle cx="467.7" cy="278.9" r="5.3" fill="url(#bb)"/><circle cx="472.6" cy="281.4" r="7.5" fill="url(#bb)"/><circle cx="483.8" cy="283.1" r="5.2" fill="url(#bb)"/><circle cx="454.7" cy="290.4" r="6.0" fill="url(#bb)"/><circle cx="467.4" cy="287.9" r="5.5" fill="url(#bb)"/><circle cx="473.2" cy="286.4" r="7.7" fill="url(#bb)"/><circle cx="483.6" cy="287.9" r="6.3" fill="url(#bb)"/><circle cx="456.9" cy="293.6" r="7.7" fill="url(#bb)"/><circle cx="466.6" cy="299.1" r="6.3" fill="url(#bb)"/><circle cx="475.3" cy="294.8" r="5.1" fill="url(#bb)"/><circle cx="485.7" cy="298.4" r="5.9" fill="url(#bb)"/><circle cx="460.0" cy="305.7" r="5.9" fill="url(#bb)"/><circle cx="466.7" cy="306.6" r="6.5" fill="url(#bb)"/><circle cx="477.3" cy="302.3" r="6.2" fill="url(#bb)"/><circle cx="484.4" cy="302.1" r="5.9" fill="url(#bb)"/></g>
<clipPath id="bc2"><path d="M438.0,291.0 C439.4,289.2 441.4,289.1 444.0,289.0 C446.6,288.9 448.8,289.1 451.0,290.5 C453.2,291.9 454.2,293.3 455.0,296.0 C455.8,298.7 456.0,301.3 455.2,304.0 C454.4,306.7 453.2,308.3 451.0,309.5 C448.8,310.7 446.5,310.7 444.0,310.0 C441.5,309.3 439.9,308.4 438.5,306.0 C437.1,303.6 437.1,301.0 437.0,298.0 C436.9,295.0 436.6,292.8 438.0,291.0 Z"/></clipPath>
<path d="M438.0,291.0 C439.4,289.2 441.4,289.1 444.0,289.0 C446.6,288.9 448.8,289.1 451.0,290.5 C453.2,291.9 454.2,293.3 455.0,296.0 C455.8,298.7 456.0,301.3 455.2,304.0 C454.4,306.7 453.2,308.3 451.0,309.5 C448.8,310.7 446.5,310.7 444.0,310.0 C441.5,309.3 439.9,308.4 438.5,306.0 C437.1,303.6 437.1,301.0 437.0,298.0 C436.9,295.0 436.6,292.8 438.0,291.0 Z" fill="#232a88"/>
<g clip-path="url(#bc2)"><circle cx="438.3" cy="287.9" r="7.4" fill="url(#bb)"/><circle cx="443.0" cy="286.0" r="6.1" fill="url(#bb)"/><circle cx="451.1" cy="290.8" r="5.9" fill="url(#bb)"/><circle cx="436.4" cy="293.2" r="6.6" fill="url(#bb)"/><circle cx="443.8" cy="294.9" r="5.2" fill="url(#bb)"/><circle cx="450.7" cy="297.5" r="6.1" fill="url(#bb)"/><circle cx="434.5" cy="301.1" r="5.9" fill="url(#bb)"/><circle cx="442.9" cy="300.2" r="7.0" fill="url(#bb)"/><circle cx="452.0" cy="300.9" r="7.1" fill="url(#bb)"/><circle cx="433.6" cy="309.1" r="7.5" fill="url(#bb)"/><circle cx="442.3" cy="310.2" r="7.5" fill="url(#bb)"/><circle cx="454.8" cy="308.5" r="6.1" fill="url(#bb)"/></g>
<clipPath id="bc3"><path d="M462.5,307.0 C463.7,305.3 465.8,305.2 468.0,305.5 C470.2,305.8 472.3,306.6 473.5,308.5 C474.7,310.4 474.7,312.6 474.2,315.0 C473.7,317.4 472.8,319.4 471.0,320.4 C469.2,321.4 466.8,321.3 465.0,320.0 C463.2,318.7 462.6,316.6 462.1,314.0 C461.6,311.4 461.3,308.7 462.5,307.0 Z"/></clipPath>
<path d="M462.5,307.0 C463.7,305.3 465.8,305.2 468.0,305.5 C470.2,305.8 472.3,306.6 473.5,308.5 C474.7,310.4 474.7,312.6 474.2,315.0 C473.7,317.4 472.8,319.4 471.0,320.4 C469.2,321.4 466.8,321.3 465.0,320.0 C463.2,318.7 462.6,316.6 462.1,314.0 C461.6,311.4 461.3,308.7 462.5,307.0 Z" fill="#232a88"/>
<g clip-path="url(#bc3)"><circle cx="462.4" cy="303.8" r="7.9" fill="url(#bb)"/><circle cx="467.8" cy="307.2" r="6.5" fill="url(#bb)"/><circle cx="459.5" cy="311.7" r="5.4" fill="url(#bb)"/><circle cx="470.8" cy="310.6" r="7.7" fill="url(#bb)"/><circle cx="461.6" cy="318.7" r="5.7" fill="url(#bb)"/><circle cx="470.2" cy="317.8" r="7.6" fill="url(#bb)"/></g>
<clipPath id="bc4"><path d="M424.5,316.0 C426.0,314.8 428.7,314.8 431.0,315.2 C433.3,315.6 434.3,316.2 436.0,318.0 C437.7,319.8 439.2,321.5 439.6,324.0 C440.0,326.5 439.9,329.3 438.0,330.7 C436.1,332.1 432.6,331.7 430.0,331.0 C427.4,330.3 426.3,329.0 425.0,327.0 C423.7,325.0 423.6,323.2 423.5,321.0 C423.4,318.8 423.0,317.2 424.5,316.0 Z"/></clipPath>
<path d="M424.5,316.0 C426.0,314.8 428.7,314.8 431.0,315.2 C433.3,315.6 434.3,316.2 436.0,318.0 C437.7,319.8 439.2,321.5 439.6,324.0 C440.0,326.5 439.9,329.3 438.0,330.7 C436.1,332.1 432.6,331.7 430.0,331.0 C427.4,330.3 426.3,329.0 425.0,327.0 C423.7,325.0 423.6,323.2 423.5,321.0 C423.4,318.8 423.0,317.2 424.5,316.0 Z" fill="#232a88"/>
<g clip-path="url(#bc4)"><circle cx="420.2" cy="314.3" r="6.6" fill="url(#bb)"/><circle cx="429.6" cy="315.8" r="6.2" fill="url(#bb)"/><circle cx="440.4" cy="314.6" r="5.9" fill="url(#bb)"/><circle cx="421.8" cy="319.2" r="5.5" fill="url(#bb)"/><circle cx="433.1" cy="320.6" r="7.0" fill="url(#bb)"/><circle cx="437.2" cy="322.1" r="6.1" fill="url(#bb)"/><circle cx="422.5" cy="328.0" r="5.2" fill="url(#bb)"/><circle cx="429.9" cy="327.6" r="5.4" fill="url(#bb)"/><circle cx="440.8" cy="327.9" r="6.2" fill="url(#bb)"/></g>
<clipPath id="bc5"><path d="M427.5,294.4 C428.4,293.2 431.7,293.6 432.7,295.0 C433.7,296.4 433.6,300.1 432.7,301.3 C431.8,302.5 429.0,302.4 428.0,301.0 C427.0,299.6 426.6,295.6 427.5,294.4 Z"/></clipPath>
<path d="M427.5,294.4 C428.4,293.2 431.7,293.6 432.7,295.0 C433.7,296.4 433.6,300.1 432.7,301.3 C431.8,302.5 429.0,302.4 428.0,301.0 C427.0,299.6 426.6,295.6 427.5,294.4 Z" fill="#232a88"/>
<g clip-path="url(#bc5)"><circle cx="429.0" cy="295.0" r="7.6" fill="url(#bb)"/><circle cx="428.7" cy="298.7" r="5.8" fill="url(#bb)"/></g>
<clipPath id="bc6"><path d="M459.3,282.4 C462.5,281.9 471.9,281.9 475.1,282.4 C478.3,282.9 478.3,284.5 475.1,285.0 C471.9,285.5 462.5,285.5 459.3,285.0 C456.1,284.5 456.1,282.9 459.3,282.4 Z"/></clipPath>
<path d="M459.3,282.4 C462.5,281.9 471.9,281.9 475.1,282.4 C478.3,282.9 478.3,284.5 475.1,285.0 C471.9,285.5 462.5,285.5 459.3,285.0 C456.1,284.5 456.1,282.9 459.3,282.4 Z" fill="#232a88"/>
<g clip-path="url(#bc6)"><circle cx="455.5" cy="282.5" r="7.0" fill="url(#bb)"/><circle cx="465.9" cy="280.9" r="7.0" fill="url(#bb)"/><circle cx="476.5" cy="279.9" r="7.5" fill="url(#bb)"/></g>
<path d="M325.0,268.6 C326.0,267.8 328.2,267.8 329.9,268.0 C331.6,268.2 332.2,268.7 333.5,269.8 C334.8,270.9 335.6,272.2 336.6,273.5 C337.6,274.8 339.3,275.8 338.4,276.5 C337.5,277.2 334.5,277.5 332.3,276.8 C330.1,276.1 328.9,273.7 327.4,272.8 C325.9,271.9 325.5,273.0 325.0,272.2 C324.5,271.4 324.0,269.4 325.0,268.6 Z" fill="url(#cb)"/>
<path d="M436.2,268.5 C437.2,267.2 439.6,267.7 442.3,267.2 C445.0,266.7 447.0,265.7 449.6,266.0 C452.2,266.3 453.2,267.2 455.1,268.5 C457.0,269.8 458.5,270.6 459.3,272.7 C460.1,274.8 460.8,277.3 459.3,278.8 C457.8,280.3 454.9,280.2 452.0,280.0 C449.1,279.8 447.6,278.8 444.7,277.6 C441.8,276.4 439.1,275.7 437.4,273.9 C435.7,272.1 435.2,269.8 436.2,268.5 Z" fill="url(#cb)"/>
<path d="M429.5,268.0 C431.0,266.9 434.5,265.5 436.0,266.5 C437.5,267.5 438.0,271.1 437.0,273.0 C436.0,274.9 432.7,276.2 431.0,276.0 C429.3,275.8 429.0,273.6 428.7,272.0 C428.4,270.4 428.0,269.1 429.5,268.0 Z" fill="url(#cb)"/>
<path d="M451.7,292.7 C453.0,290.3 455.6,290.3 458.0,291.0 C460.4,291.7 462.6,293.2 463.8,296.0 C465.0,298.8 464.6,301.9 463.8,305.0 C463.0,308.1 462.0,310.5 460.0,311.7 C458.0,312.9 455.7,312.7 454.0,311.0 C452.3,309.3 452.2,306.7 451.7,303.0 C451.2,299.3 450.4,295.1 451.7,292.7 Z" fill="url(#cb)"/>
<path d="M432.7,311.7 C433.9,309.3 437.6,310.3 440.0,311.0 C442.4,311.7 443.8,312.8 444.8,315.0 C445.8,317.2 445.8,319.9 444.8,322.0 C443.8,324.1 442.2,325.4 440.0,325.6 C437.8,325.8 435.5,325.8 434.0,323.0 C432.5,320.2 431.5,314.1 432.7,311.7 Z" fill="url(#cb)"/>
<path d="M415.4,289.2 C417.0,288.2 422.3,288.5 424.0,289.5 C425.7,290.5 425.6,293.4 424.0,294.4 C422.4,295.4 417.7,295.4 416.0,294.4 C414.3,293.4 413.8,290.2 415.4,289.2 Z" fill="url(#cb)"/>
<path d="M301.2,292.2 C301.9,292.2 302.5,292.9 302.3,294.0 C302.1,295.1 301.5,296.1 300.4,297.6 C299.3,299.1 298.2,300.2 296.8,301.3 C295.4,302.4 294.2,303.1 293.5,303.1 C292.8,303.1 292.6,302.4 293.1,301.3 C293.6,300.2 294.9,299.1 296.1,297.6 C297.3,296.1 298.0,295.1 299.0,294.0 C300.0,292.9 300.5,292.2 301.2,292.2 Z" fill="url(#cb)"/>
<path d="M325.0,309.0 C326.2,307.6 330.4,307.6 331.7,309.0 C333.0,310.4 332.9,314.4 331.7,315.8 C330.5,317.2 326.8,317.2 325.5,315.8 C324.2,314.4 323.8,310.4 325.0,309.0 Z" fill="url(#cb)"/>
<path d="M349.6,284.0 C350.2,282.7 352.2,283.1 354.0,283.5 C355.8,283.9 357.8,284.6 358.4,286.0 C359.0,287.4 358.5,289.5 357.0,290.3 C355.5,291.1 352.5,291.3 351.0,290.0 C349.5,288.7 349.0,285.3 349.6,284.0 Z" fill="url(#cb)"/>
<path d="M363.5,323.0 C364.7,321.9 367.3,321.5 370.0,322.5 C372.7,323.5 375.7,325.9 376.9,328.0 C378.1,330.1 377.8,332.1 376.0,333.1 C374.2,334.1 370.4,334.0 368.0,333.0 C365.6,332.0 364.9,330.0 364.0,328.0 C363.1,326.0 362.3,324.1 363.5,323.0 Z" fill="url(#cb)"/>
<path d="M365.3,323.0 C366.6,321.6 369.8,321.9 372.0,322.9 C374.2,323.9 375.4,325.4 376.2,328.0 C377.0,330.6 377.8,334.4 376.2,336.0 C374.6,337.6 370.2,337.2 368.0,336.0 C365.8,334.8 365.8,332.6 365.3,330.0 C364.8,327.4 364.0,324.4 365.3,323.0 Z" fill="url(#cb)"/>
<path d="M331.0,361.0 C332.0,359.3 335.4,360.6 338.0,360.8 C340.6,361.0 343.0,360.6 344.2,362.0 C345.4,363.4 345.0,366.2 344.0,368.0 C343.0,369.8 341.2,370.7 339.0,371.0 C336.8,371.3 334.6,371.5 333.0,369.5 C331.4,367.5 330.0,362.7 331.0,361.0 Z" fill="url(#cb)"/>
<path d="M316.5,350.6 C317.3,349.6 320.0,349.8 320.8,351.0 C321.6,352.2 321.3,355.4 320.5,356.4 C319.7,357.4 317.8,357.2 317.0,356.0 C316.2,354.8 315.7,351.6 316.5,350.6 Z" fill="url(#cb)"/>
<path d="M460.0,292.0 C461.0,288.2 464.0,288.9 465.0,293.0 C466.0,297.1 466.0,308.8 465.0,312.6 C464.0,316.4 461.0,316.1 460.0,312.0 C459.0,307.9 459.0,295.8 460.0,292.0 Z" fill="url(#cb)"/>
<path d="M389.7,261.3 C388.2,260.7 384.9,258.3 382.1,258.1 C379.3,257.9 377.6,259.0 375.9,260.2 C374.2,261.4 375.0,262.9 373.8,264.3 C372.6,265.7 371.8,266.4 369.7,267.4 C367.6,268.4 365.6,268.7 363.5,269.5 C361.4,270.3 359.9,269.9 359.3,271.6 C358.7,273.3 359.6,275.7 360.4,277.8 C361.2,279.9 362.3,279.8 363.5,281.9 C364.7,284.0 366.0,285.4 366.6,288.1 C367.2,290.8 367.4,292.9 366.6,295.4 C365.8,297.9 364.5,299.3 362.4,300.5 C360.3,301.7 358.5,302.0 356.2,301.6 C353.9,301.2 352.5,300.4 351.1,298.5 C349.7,296.6 348.8,294.6 349.0,292.3 C349.2,290.0 350.7,288.6 352.1,287.1 C353.5,285.6 355.4,285.4 356.2,285.0" fill="none" stroke="#3aa53a" stroke-width="1.5" stroke-linecap="round"/>
<path d="M353.1,288.1 C351.9,288.7 349.4,290.0 346.9,291.2 C344.4,292.4 343.0,293.3 340.7,294.3 C338.4,295.3 336.9,295.4 335.5,296.4 C334.1,297.4 333.7,297.4 333.5,299.5 C333.3,301.6 334.3,304.1 334.5,306.8 C334.7,309.5 334.7,310.9 334.5,313.0 C334.3,315.1 333.9,315.0 333.5,317.1 C333.1,319.2 332.4,320.8 332.4,323.3 C332.4,325.8 333.1,327.0 333.5,329.5 C333.9,332.0 334.3,334.5 334.5,335.7" fill="none" stroke="#3aa53a" stroke-width="1.5" stroke-linecap="round"/>
<path d="M328.3,317.1 C330.4,317.1 336.5,317.1 338.6,317.1" fill="none" stroke="#3aa53a" stroke-width="1.5" stroke-linecap="round"/>
<path d="M380.0,257.6 C381.0,258.0 383.0,258.8 384.9,259.5 C386.8,260.2 387.8,261.7 389.7,261.3 C391.6,260.9 392.5,258.6 394.6,257.6 C396.7,256.6 398.2,256.2 400.1,256.1 C402.0,256.0 402.5,256.1 404.3,257.0 C406.1,257.9 407.2,259.1 409.2,260.7 C411.2,262.3 412.2,263.7 414.1,265.0 C416.0,266.3 416.7,266.9 418.9,267.0 C421.1,267.1 422.6,265.7 425.0,265.5 C427.4,265.3 428.7,266.1 431.1,266.2 C433.5,266.3 435.2,266.5 437.2,266.2 C439.2,265.9 439.1,265.6 441.1,264.8 C443.1,264.0 444.5,262.9 447.2,262.4 C449.9,261.9 451.6,262.2 454.5,262.4 C457.4,262.6 459.3,264.1 461.8,263.6 C464.3,263.1 465.3,260.3 467.2,259.9 C469.1,259.5 470.2,260.5 471.5,261.8 C472.8,263.1 472.4,265.6 473.9,266.6 C475.4,267.6 476.6,266.1 478.8,266.6 C481.0,267.1 483.2,267.9 484.9,269.1 C486.6,270.3 487.2,271.0 487.3,272.7 C487.4,274.4 486.6,275.9 485.5,277.6 C484.4,279.3 482.3,279.8 482.0,281.0 C481.7,282.2 482.8,282.1 483.9,283.6 C485.0,285.1 486.5,286.3 487.3,288.7 C488.1,291.1 488.4,293.0 488.1,295.6 C487.8,298.2 487.5,299.8 485.6,301.5 C483.7,303.2 481.1,303.4 478.7,304.1 C476.3,304.8 475.3,304.4 473.6,304.9 C471.9,305.4 469.2,306.3 470.2,306.6 C471.2,306.9 476.5,305.6 478.7,306.6 C480.9,307.6 481.0,309.8 481.3,311.7 C481.6,313.6 481.6,314.5 480.4,316.0 C479.2,317.5 478.0,318.4 475.3,319.4 C472.6,320.4 469.5,320.8 466.8,321.1 C464.1,321.4 463.9,320.3 461.7,321.1 C459.5,321.9 457.9,322.9 456.0,325.0 C454.1,327.1 453.8,329.4 452.0,331.8 C450.2,334.2 448.1,334.4 447.0,336.9 C445.9,339.4 446.0,341.9 446.6,344.2 C447.2,346.5 449.0,346.6 450.2,348.6 C451.4,350.6 452.1,351.8 452.4,354.4 C452.7,357.0 451.8,360.2 451.7,361.7" fill="none" stroke="#3aa53a" stroke-width="1.5" stroke-linecap="round"/>
<text x="337.1" y="382.4" font-size="7.9" fill="#1a1a1a" textLength="21.6" lengthAdjust="spacingAndGlyphs">C-SH2</text>
<text x="438.3" y="382.4" font-size="7.9" fill="#1a1a1a" textLength="21.7" lengthAdjust="spacingAndGlyphs">N-SH2</text>
<rect x="0" y="2" width="520" height="1" fill="#f4f4f4"/>
<rect x="2" y="0" width="1" height="411" fill="#f0f0f0"/>
<rect x="517" y="0" width="1" height="411" fill="#eeeeee"/>
<rect x="0" y="408" width="520" height="1" fill="#ececec"/>
<rect x="0" y="1" width="520" height="1" fill="#a0a0a0"/>
<rect x="1" y="0" width="1" height="411" fill="#7a7a7a"/>
<rect x="518" y="0" width="1" height="411" fill="#808080"/>
<rect x="0" y="409" width="520" height="1" fill="#7a7a7a"/>
<rect x="0" y="0" width="520" height="1" fill="#000"/>
<rect x="0" y="0" width="1" height="411" fill="#000"/>
<rect x="519" y="0" width="1" height="411" fill="#202020"/>
<rect x="0" y="410" width="520" height="1" fill="#1e1e1e"/>
</svg>
</body></html>
